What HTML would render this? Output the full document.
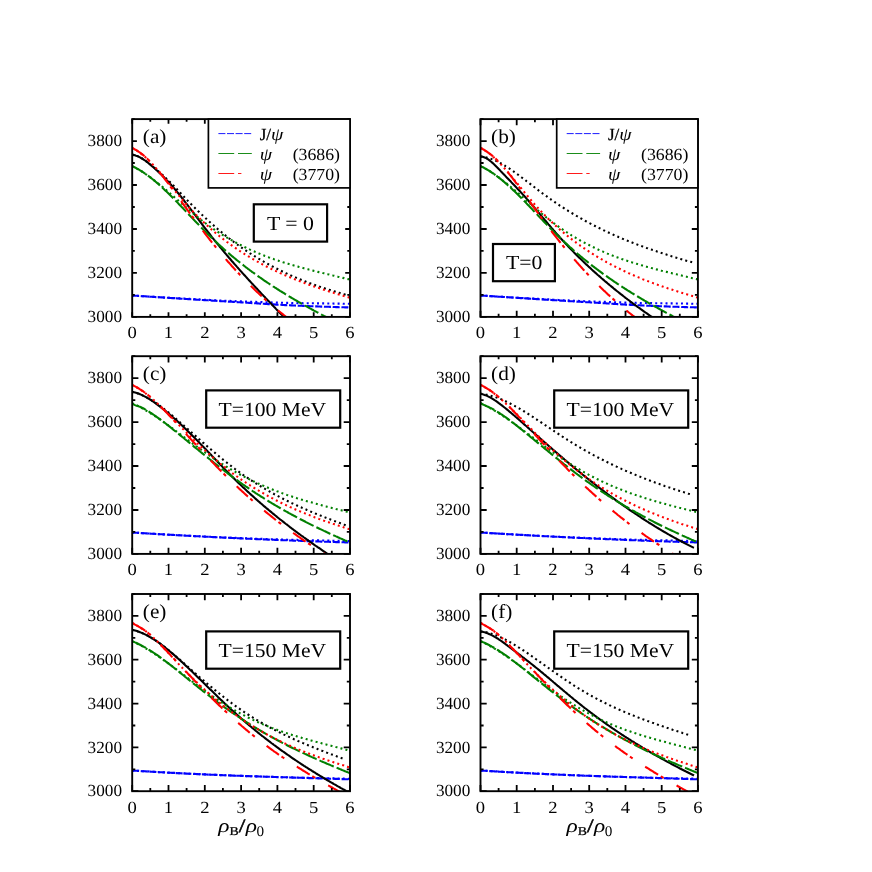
<!DOCTYPE html>
<html><head><meta charset="utf-8"><title>fig</title>
<style>
html,body{margin:0;padding:0;background:#fff;}
svg{display:block;}
text{font-family:"Liberation Serif",serif;fill:#000;text-rendering:geometricPrecision;}
.it{font-style:italic;}
</style></head><body>
<svg width="872" height="872" viewBox="0 0 872 872">
<rect x="0" y="0" width="872" height="872" fill="#fff"/>
<g opacity="0.999">
<g id="panel-a">
<clipPath id="clipa"><rect x="132.2" y="119.1" width="217.8" height="197.8"/></clipPath>
<g clip-path="url(#clipa)" fill="none" stroke-width="2.1">
<path d="M132.0,295.5 L133.0,295.6 L134.0,295.6 L135.0,295.7 L136.0,295.8 L137.0,295.8 L138.0,295.9 L139.0,296.0 L140.0,296.0 L141.0,296.1 L142.0,296.2 L143.0,296.2 L144.0,296.3 L145.0,296.3 L146.0,296.4 L147.0,296.5 L148.0,296.5 L149.0,296.6 L150.0,296.7 L151.0,296.7 L152.0,296.8 L153.0,296.9 L154.0,296.9 L155.0,297.0 L156.0,297.1 L157.0,297.1 L158.0,297.2 L159.0,297.2 L160.0,297.3 L161.0,297.4 L162.0,297.4 L163.0,297.5 L164.0,297.6 L165.0,297.6 L166.0,297.7 L167.0,297.8 L168.0,297.8 L169.0,297.9 L170.0,298.0 L171.0,298.0 L172.0,298.1 L173.0,298.1 L174.0,298.2 L175.0,298.3 L176.0,298.3 L177.0,298.4 L178.0,298.5 L179.0,298.5 L180.0,298.6 L181.0,298.7 L182.0,298.7 L183.0,298.8 L184.0,298.8 L185.0,298.9 L186.0,299.0 L187.0,299.0 L188.0,299.1 L189.0,299.2 L190.0,299.2 L191.0,299.3 L192.0,299.3 L193.0,299.4 L194.0,299.5 L195.0,299.5 L196.0,299.6 L197.0,299.7 L198.0,299.7 L199.0,299.8 L200.0,299.8 L201.0,299.9 L202.0,300.0 L203.0,300.0 L204.0,300.1 L205.0,300.2 L206.0,300.2 L207.0,300.3 L208.0,300.3 L209.0,300.4 L210.0,300.5 L211.0,300.5 L212.0,300.6 L213.0,300.7 L214.0,300.7 L215.0,300.8 L216.0,300.8 L217.0,300.9 L218.0,301.0 L219.0,301.0 L220.0,301.1 L221.0,301.2 L222.0,301.2 L223.0,301.3 L224.0,301.3 L225.0,301.4 L226.0,301.5 L227.0,301.5 L228.0,301.6 L229.0,301.6 L230.0,301.7 L231.0,301.8 L232.0,301.8 L233.0,301.9 L234.0,301.9 L235.0,302.0 L236.0,302.1 L237.0,302.1 L238.0,302.2 L239.0,302.3 L240.0,302.3 L241.0,302.4 L242.0,302.4 L243.0,302.5 L244.0,302.6 L245.0,302.6 L246.0,302.7 L247.0,302.7 L248.0,302.8 L249.0,302.9 L250.0,302.9 L251.0,303.0 L252.0,303.1 L253.0,303.1 L254.0,303.2 L255.0,303.3 L256.0,303.3 L257.0,303.4 L258.0,303.4 L259.0,303.5 L260.0,303.6 L261.0,303.6 L262.0,303.7 L263.0,303.8 L264.0,303.8 L265.0,303.9 L266.0,304.0 L267.0,304.0 L268.0,304.1 L269.0,304.1 L270.0,304.2 L271.0,304.3 L272.0,304.3 L273.0,304.4 L274.0,304.4 L275.0,304.5 L276.0,304.6 L277.0,304.6 L278.0,304.7 L279.0,304.7 L280.0,304.8 L281.0,304.8 L282.0,304.9 L283.0,305.0 L284.0,305.0 L285.0,305.1 L286.0,305.1 L287.0,305.2 L288.0,305.2 L289.0,305.3 L290.0,305.3 L291.0,305.4 L292.0,305.4 L293.0,305.5 L294.0,305.5 L295.0,305.5 L296.0,305.6 L297.0,305.6 L298.0,305.7 L299.0,305.7 L300.0,305.8 L301.0,305.8 L302.0,305.8 L303.0,305.9 L304.0,305.9 L305.0,306.0 L306.0,306.0 L307.0,306.0 L308.0,306.1 L309.0,306.1 L310.0,306.2 L311.0,306.2 L312.0,306.2 L313.0,306.3 L314.0,306.3 L315.0,306.4 L316.0,306.4 L317.0,306.4 L318.0,306.5 L319.0,306.5 L320.0,306.5 L321.0,306.6 L322.0,306.6 L323.0,306.6 L324.0,306.7 L325.0,306.7 L326.0,306.7 L327.0,306.8 L328.0,306.8 L329.0,306.8 L330.0,306.9 L331.0,306.9 L332.0,306.9 L333.0,307.0 L334.0,307.0 L335.0,307.0 L336.0,307.1 L337.0,307.1 L338.0,307.1 L339.0,307.2 L340.0,307.2 L341.0,307.2 L342.0,307.3 L343.0,307.3 L344.0,307.3 L345.0,307.4 L346.0,307.4 L347.0,307.4 L348.0,307.4 L349.0,307.5 L350.0,307.5" stroke="#0000ff" stroke-dasharray="7 1.75"/>
<path d="M132.0,295.5 L133.0,295.6 L134.0,295.6 L135.0,295.7 L136.0,295.8 L137.0,295.8 L138.0,295.9 L139.0,296.0 L140.0,296.0 L141.0,296.1 L142.0,296.1 L143.0,296.2 L144.0,296.3 L145.0,296.3 L146.0,296.4 L147.0,296.5 L148.0,296.5 L149.0,296.6 L150.0,296.6 L151.0,296.7 L152.0,296.8 L153.0,296.8 L154.0,296.9 L155.0,297.0 L156.0,297.0 L157.0,297.1 L158.0,297.1 L159.0,297.2 L160.0,297.3 L161.0,297.3 L162.0,297.4 L163.0,297.4 L164.0,297.5 L165.0,297.5 L166.0,297.6 L167.0,297.7 L168.0,297.7 L169.0,297.8 L170.0,297.8 L171.0,297.9 L172.0,298.0 L173.0,298.0 L174.0,298.1 L175.0,298.1 L176.0,298.2 L177.0,298.2 L178.0,298.3 L179.0,298.3 L180.0,298.4 L181.0,298.5 L182.0,298.5 L183.0,298.6 L184.0,298.6 L185.0,298.7 L186.0,298.7 L187.0,298.8 L188.0,298.8 L189.0,298.9 L190.0,298.9 L191.0,299.0 L192.0,299.0 L193.0,299.1 L194.0,299.1 L195.0,299.2 L196.0,299.3 L197.0,299.3 L198.0,299.4 L199.0,299.4 L200.0,299.5 L201.0,299.5 L202.0,299.6 L203.0,299.6 L204.0,299.7 L205.0,299.7 L206.0,299.8 L207.0,299.8 L208.0,299.9 L209.0,299.9 L210.0,300.0 L211.0,300.0 L212.0,300.1 L213.0,300.1 L214.0,300.2 L215.0,300.2 L216.0,300.3 L217.0,300.3 L218.0,300.4 L219.0,300.4 L220.0,300.5 L221.0,300.5 L222.0,300.6 L223.0,300.6 L224.0,300.7 L225.0,300.7 L226.0,300.8 L227.0,300.8 L228.0,300.8 L229.0,300.9 L230.0,300.9 L231.0,301.0 L232.0,301.0 L233.0,301.1 L234.0,301.1 L235.0,301.1 L236.0,301.2 L237.0,301.2 L238.0,301.3 L239.0,301.3 L240.0,301.3 L241.0,301.4 L242.0,301.4 L243.0,301.4 L244.0,301.5 L245.0,301.5 L246.0,301.6 L247.0,301.6 L248.0,301.6 L249.0,301.7 L250.0,301.7 L251.0,301.7 L252.0,301.8 L253.0,301.8 L254.0,301.9 L255.0,301.9 L256.0,301.9 L257.0,302.0 L258.0,302.0 L259.0,302.0 L260.0,302.1 L261.0,302.1 L262.0,302.1 L263.0,302.2 L264.0,302.2 L265.0,302.2 L266.0,302.3 L267.0,302.3 L268.0,302.3 L269.0,302.4 L270.0,302.4 L271.0,302.4 L272.0,302.5 L273.0,302.5 L274.0,302.5 L275.0,302.5 L276.0,302.6 L277.0,302.6 L278.0,302.6 L279.0,302.7 L280.0,302.7 L281.0,302.7 L282.0,302.7 L283.0,302.8 L284.0,302.8 L285.0,302.8 L286.0,302.8 L287.0,302.9 L288.0,302.9 L289.0,302.9 L290.0,302.9 L291.0,302.9 L292.0,303.0 L293.0,303.0 L294.0,303.0 L295.0,303.0 L296.0,303.0 L297.0,303.1 L298.0,303.1 L299.0,303.1 L300.0,303.1 L301.0,303.1 L302.0,303.1 L303.0,303.2 L304.0,303.2 L305.0,303.2 L306.0,303.2 L307.0,303.2 L308.0,303.2 L309.0,303.2 L310.0,303.3 L311.0,303.3 L312.0,303.3 L313.0,303.3 L314.0,303.3 L315.0,303.3 L316.0,303.3 L317.0,303.4 L318.0,303.4 L319.0,303.4 L320.0,303.4 L321.0,303.4 L322.0,303.4 L323.0,303.4 L324.0,303.4 L325.0,303.4 L326.0,303.5 L327.0,303.5 L328.0,303.5 L329.0,303.5 L330.0,303.5 L331.0,303.5 L332.0,303.5 L333.0,303.5 L334.0,303.6 L335.0,303.6 L336.0,303.6 L337.0,303.6 L338.0,303.6 L339.0,303.6 L340.0,303.6 L341.0,303.6 L342.0,303.6 L343.0,303.7 L344.0,303.7 L345.0,303.7 L346.0,303.7 L347.0,303.7 L348.0,303.7 L349.0,303.7 L350.0,303.8" stroke="#0000ff" stroke-dasharray="2.0 3.15"/>
<path d="M132.0,154.7 L133.0,154.9 L134.0,155.1 L135.0,155.3 L136.0,155.7 L137.0,156.0 L138.0,156.4 L139.0,156.9 L140.0,157.4 L141.0,158.0 L142.0,158.5 L143.0,159.2 L144.0,159.8 L145.0,160.5 L146.0,161.2 L147.0,162.0 L148.0,162.8 L149.0,163.6 L150.0,164.4 L151.0,165.2 L152.0,166.1 L153.0,166.9 L154.0,167.8 L155.0,168.7 L156.0,169.6 L157.0,170.5 L158.0,171.5 L159.0,172.4 L160.0,173.4 L161.0,174.3 L162.0,175.3 L163.0,176.3 L164.0,177.3 L165.0,178.4 L166.0,179.4 L167.0,180.5 L168.0,181.5 L169.0,182.6 L170.0,183.7 L171.0,184.8 L172.0,185.9 L173.0,187.1 L174.0,188.2 L175.0,189.4 L176.0,190.6 L177.0,191.8 L178.0,193.0 L179.0,194.2 L180.0,195.5 L181.0,196.7 L182.0,198.0 L183.0,199.2 L184.0,200.5 L185.0,201.8 L186.0,203.1 L187.0,204.3 L188.0,205.6 L189.0,207.0 L190.0,208.3 L191.0,209.6 L192.0,210.9 L193.0,212.2 L194.0,213.5 L195.0,214.9 L196.0,216.2 L197.0,217.5 L198.0,218.8 L199.0,220.2 L200.0,221.5 L201.0,222.8 L202.0,224.1 L203.0,225.5 L204.0,226.8 L205.0,228.1 L206.0,229.4 L207.0,230.7 L208.0,232.0 L209.0,233.2 L210.0,234.5 L211.0,235.8 L212.0,237.1 L213.0,238.3 L214.0,239.6 L215.0,240.8 L216.0,242.1 L217.0,243.3 L218.0,244.5 L219.0,245.7 L220.0,247.0 L221.0,248.2 L222.0,249.4 L223.0,250.6 L224.0,251.8 L225.0,253.0 L226.0,254.1 L227.0,255.3 L228.0,256.5 L229.0,257.7 L230.0,258.8 L231.0,260.0 L232.0,261.2 L233.0,262.3 L234.0,263.5 L235.0,264.6 L236.0,265.7 L237.0,266.9 L238.0,268.0 L239.0,269.1 L240.0,270.3 L241.0,271.4 L242.0,272.5 L243.0,273.6 L244.0,274.7 L245.0,275.8 L246.0,276.9 L247.0,278.0 L248.0,279.1 L249.0,280.2 L250.0,281.3 L251.0,282.4 L252.0,283.5 L253.0,284.5 L254.0,285.6 L255.0,286.7 L256.0,287.8 L257.0,288.8 L258.0,289.9 L259.0,291.0 L260.0,292.0 L261.0,293.1 L262.0,294.2 L263.0,295.2 L264.0,296.3 L265.0,297.3 L266.0,298.4 L267.0,299.4 L268.0,300.5 L269.0,301.5 L270.0,302.6 L271.0,303.6 L272.0,304.7 L273.0,305.7 L274.0,306.8 L275.0,307.8 L276.0,308.9 L277.0,309.9 L278.0,310.9 L279.0,312.0 L280.0,313.0 L281.0,314.1 L282.0,315.1 L283.0,316.1 L284.0,317.2 L285.0,318.2 L285.8,319.0" stroke="#000000"/>
<path d="M132.0,154.7 L133.0,154.8 L134.0,155.0 L135.0,155.3 L136.0,155.6 L137.0,155.9 L138.0,156.4 L139.0,156.9 L140.0,157.4 L141.0,157.9 L142.0,158.5 L143.0,159.2 L144.0,159.8 L145.0,160.5 L146.0,161.2 L147.0,161.9 L148.0,162.6 L149.0,163.4 L150.0,164.1 L151.0,164.9 L152.0,165.7 L153.0,166.5 L154.0,167.4 L155.0,168.2 L156.0,169.1 L157.0,170.0 L158.0,170.9 L159.0,171.8 L160.0,172.7 L161.0,173.6 L162.0,174.5 L163.0,175.4 L164.0,176.3 L165.0,177.3 L166.0,178.2 L167.0,179.2 L168.0,180.1 L169.0,181.1 L170.0,182.1 L171.0,183.1 L172.0,184.1 L173.0,185.1 L174.0,186.1 L175.0,187.2 L176.0,188.2 L177.0,189.3 L178.0,190.4 L179.0,191.4 L180.0,192.5 L181.0,193.6 L182.0,194.6 L183.0,195.7 L184.0,196.7 L185.0,197.8 L186.0,198.8 L187.0,199.9 L188.0,200.9 L189.0,201.9 L190.0,202.9 L191.0,204.0 L192.0,205.0 L193.0,206.0 L194.0,207.0 L195.0,208.0 L196.0,209.0 L197.0,209.9 L198.0,210.9 L199.0,211.9 L200.0,212.9 L201.0,213.8 L202.0,214.8 L203.0,215.7 L204.0,216.7 L205.0,217.6 L206.0,218.5 L207.0,219.5 L208.0,220.4 L209.0,221.3 L210.0,222.2 L211.0,223.1 L212.0,224.0 L213.0,224.9 L214.0,225.8 L215.0,226.7 L216.0,227.5 L217.0,228.4 L218.0,229.3 L219.0,230.1 L220.0,231.0 L221.0,231.8 L222.0,232.6 L223.0,233.5 L224.0,234.3 L225.0,235.1 L226.0,235.9 L227.0,236.7 L228.0,237.5 L229.0,238.3 L230.0,239.0 L231.0,239.8 L232.0,240.6 L233.0,241.3 L234.0,242.1 L235.0,242.8 L236.0,243.6 L237.0,244.3 L238.0,245.0 L239.0,245.8 L240.0,246.5 L241.0,247.2 L242.0,247.9 L243.0,248.6 L244.0,249.3 L245.0,249.9 L246.0,250.6 L247.0,251.3 L248.0,252.0 L249.0,252.6 L250.0,253.3 L251.0,253.9 L252.0,254.6 L253.0,255.2 L254.0,255.8 L255.0,256.4 L256.0,257.1 L257.0,257.7 L258.0,258.3 L259.0,258.9 L260.0,259.5 L261.0,260.1 L262.0,260.6 L263.0,261.2 L264.0,261.8 L265.0,262.4 L266.0,262.9 L267.0,263.5 L268.0,264.0 L269.0,264.6 L270.0,265.1 L271.0,265.7 L272.0,266.2 L273.0,266.7 L274.0,267.3 L275.0,267.8 L276.0,268.3 L277.0,268.8 L278.0,269.3 L279.0,269.8 L280.0,270.3 L281.0,270.8 L282.0,271.3 L283.0,271.8 L284.0,272.2 L285.0,272.7 L286.0,273.2 L287.0,273.6 L288.0,274.1 L289.0,274.6 L290.0,275.0 L291.0,275.5 L292.0,275.9 L293.0,276.3 L294.0,276.8 L295.0,277.2 L296.0,277.6 L297.0,278.0 L298.0,278.5 L299.0,278.9 L300.0,279.3 L301.0,279.7 L302.0,280.1 L303.0,280.5 L304.0,280.9 L305.0,281.3 L306.0,281.7 L307.0,282.1 L308.0,282.4 L309.0,282.8 L310.0,283.2 L311.0,283.6 L312.0,283.9 L313.0,284.3 L314.0,284.7 L315.0,285.0 L316.0,285.4 L317.0,285.7 L318.0,286.1 L319.0,286.4 L320.0,286.8 L321.0,287.1 L322.0,287.4 L323.0,287.8 L324.0,288.1 L325.0,288.4 L326.0,288.8 L327.0,289.1 L328.0,289.4 L329.0,289.7 L330.0,290.0 L331.0,290.4 L332.0,290.7 L333.0,291.0 L334.0,291.3 L335.0,291.6 L336.0,291.9 L337.0,292.2 L338.0,292.5 L339.0,292.8 L340.0,293.1 L341.0,293.4 L342.0,293.7 L343.0,293.9 L344.0,294.2 L345.0,294.5 L346.0,294.8 L347.0,295.1 L348.0,295.3 L349.0,295.6 L350.0,295.9" stroke="#000000" stroke-dasharray="2.0 3.15"/>
<path d="M132.0,166.1 L133.0,166.5 L134.0,167.0 L135.0,167.5 L136.0,168.0 L137.0,168.6 L138.0,169.1 L139.0,169.7 L140.0,170.3 L141.0,170.9 L142.0,171.5 L143.0,172.2 L144.0,172.8 L145.0,173.5 L146.0,174.2 L147.0,174.9 L148.0,175.7 L149.0,176.4 L150.0,177.2 L151.0,177.9 L152.0,178.7 L153.0,179.5 L154.0,180.4 L155.0,181.2 L156.0,182.0 L157.0,182.9 L158.0,183.8 L159.0,184.6 L160.0,185.5 L161.0,186.4 L162.0,187.4 L163.0,188.3 L164.0,189.2 L165.0,190.2 L166.0,191.1 L167.0,192.1 L168.0,193.0 L169.0,194.0 L170.0,195.0 L171.0,196.0 L172.0,197.0 L173.0,198.0 L174.0,199.0 L175.0,200.0 L176.0,201.1 L177.0,202.1 L178.0,203.1 L179.0,204.2 L180.0,205.2 L181.0,206.2 L182.0,207.3 L183.0,208.3 L184.0,209.4 L185.0,210.4 L186.0,211.5 L187.0,212.5 L188.0,213.6 L189.0,214.7 L190.0,215.7 L191.0,216.8 L192.0,217.8 L193.0,218.9 L194.0,219.9 L195.0,221.0 L196.0,222.0 L197.0,223.1 L198.0,224.1 L199.0,225.1 L200.0,226.2 L201.0,227.2 L202.0,228.2 L203.0,229.2 L204.0,230.3 L205.0,231.3 L206.0,232.3 L207.0,233.3 L208.0,234.3 L209.0,235.2 L210.0,236.2 L211.0,237.2 L212.0,238.1 L213.0,239.1 L214.0,240.0 L215.0,241.0 L216.0,241.9 L217.0,242.8 L218.0,243.8 L219.0,244.7 L220.0,245.6 L221.0,246.5 L222.0,247.4 L223.0,248.3 L224.0,249.2 L225.0,250.1 L226.0,250.9 L227.0,251.8 L228.0,252.7 L229.0,253.5 L230.0,254.4 L231.0,255.2 L232.0,256.1 L233.0,256.9 L234.0,257.7 L235.0,258.5 L236.0,259.4 L237.0,260.2 L238.0,261.0 L239.0,261.8 L240.0,262.6 L241.0,263.4 L242.0,264.2 L243.0,264.9 L244.0,265.7 L245.0,266.5 L246.0,267.3 L247.0,268.0 L248.0,268.8 L249.0,269.5 L250.0,270.3 L251.0,271.0 L252.0,271.8 L253.0,272.5 L254.0,273.2 L255.0,273.9 L256.0,274.7 L257.0,275.4 L258.0,276.1 L259.0,276.8 L260.0,277.5 L261.0,278.2 L262.0,278.9 L263.0,279.6 L264.0,280.3 L265.0,281.0 L266.0,281.6 L267.0,282.3 L268.0,283.0 L269.0,283.7 L270.0,284.3 L271.0,285.0 L272.0,285.6 L273.0,286.3 L274.0,286.9 L275.0,287.6 L276.0,288.2 L277.0,288.9 L278.0,289.5 L279.0,290.1 L280.0,290.8 L281.0,291.4 L282.0,292.0 L283.0,292.6 L284.0,293.2 L285.0,293.9 L286.0,294.5 L287.0,295.1 L288.0,295.7 L289.0,296.3 L290.0,296.9 L291.0,297.5 L292.0,298.1 L293.0,298.7 L294.0,299.3 L295.0,299.8 L296.0,300.4 L297.0,301.0 L298.0,301.6 L299.0,302.2 L300.0,302.7 L301.0,303.3 L302.0,303.9 L303.0,304.4 L304.0,305.0 L305.0,305.6 L306.0,306.1 L307.0,306.7 L308.0,307.2 L309.0,307.8 L310.0,308.4 L311.0,308.9 L312.0,309.5 L313.0,310.0 L314.0,310.6 L315.0,311.1 L316.0,311.6 L317.0,312.2 L318.0,312.7 L319.0,313.3 L320.0,313.8 L321.0,314.3 L322.0,314.9 L323.0,315.4 L324.0,316.0 L325.0,316.5 L326.0,317.0 L327.0,317.5 L328.0,318.1 L329.0,318.6 L330.0,319.1 L330.2,319.2" stroke="#008000" stroke-dasharray="15.5 3.1"/>
<path d="M132.0,166.1 L133.0,166.6 L134.0,167.1 L135.0,167.6 L136.0,168.1 L137.0,168.7 L138.0,169.2 L139.0,169.8 L140.0,170.4 L141.0,171.0 L142.0,171.6 L143.0,172.3 L144.0,172.9 L145.0,173.6 L146.0,174.3 L147.0,174.9 L148.0,175.6 L149.0,176.4 L150.0,177.1 L151.0,177.8 L152.0,178.6 L153.0,179.3 L154.0,180.1 L155.0,180.8 L156.0,181.6 L157.0,182.4 L158.0,183.2 L159.0,184.0 L160.0,184.8 L161.0,185.7 L162.0,186.5 L163.0,187.3 L164.0,188.2 L165.0,189.0 L166.0,189.8 L167.0,190.7 L168.0,191.6 L169.0,192.4 L170.0,193.3 L171.0,194.2 L172.0,195.0 L173.0,195.9 L174.0,196.8 L175.0,197.7 L176.0,198.5 L177.0,199.4 L178.0,200.3 L179.0,201.2 L180.0,202.1 L181.0,202.9 L182.0,203.8 L183.0,204.7 L184.0,205.6 L185.0,206.4 L186.0,207.3 L187.0,208.2 L188.0,209.0 L189.0,209.9 L190.0,210.8 L191.0,211.6 L192.0,212.5 L193.0,213.3 L194.0,214.1 L195.0,215.0 L196.0,215.8 L197.0,216.6 L198.0,217.4 L199.0,218.2 L200.0,219.0 L201.0,219.8 L202.0,220.6 L203.0,221.3 L204.0,222.1 L205.0,222.8 L206.0,223.6 L207.0,224.3 L208.0,225.1 L209.0,225.8 L210.0,226.5 L211.0,227.2 L212.0,227.9 L213.0,228.6 L214.0,229.3 L215.0,230.0 L216.0,230.6 L217.0,231.3 L218.0,232.0 L219.0,232.6 L220.0,233.2 L221.0,233.9 L222.0,234.5 L223.0,235.1 L224.0,235.7 L225.0,236.4 L226.0,237.0 L227.0,237.6 L228.0,238.1 L229.0,238.7 L230.0,239.3 L231.0,239.9 L232.0,240.4 L233.0,241.0 L234.0,241.5 L235.0,242.1 L236.0,242.6 L237.0,243.2 L238.0,243.7 L239.0,244.2 L240.0,244.7 L241.0,245.2 L242.0,245.7 L243.0,246.2 L244.0,246.7 L245.0,247.2 L246.0,247.7 L247.0,248.2 L248.0,248.6 L249.0,249.1 L250.0,249.6 L251.0,250.0 L252.0,250.5 L253.0,250.9 L254.0,251.3 L255.0,251.8 L256.0,252.2 L257.0,252.6 L258.0,253.0 L259.0,253.5 L260.0,253.9 L261.0,254.3 L262.0,254.7 L263.0,255.1 L264.0,255.5 L265.0,255.9 L266.0,256.2 L267.0,256.6 L268.0,257.0 L269.0,257.4 L270.0,257.7 L271.0,258.1 L272.0,258.5 L273.0,258.8 L274.0,259.2 L275.0,259.5 L276.0,259.9 L277.0,260.2 L278.0,260.5 L279.0,260.9 L280.0,261.2 L281.0,261.5 L282.0,261.8 L283.0,262.2 L284.0,262.5 L285.0,262.8 L286.0,263.1 L287.0,263.4 L288.0,263.7 L289.0,264.0 L290.0,264.3 L291.0,264.6 L292.0,264.9 L293.0,265.2 L294.0,265.5 L295.0,265.8 L296.0,266.1 L297.0,266.4 L298.0,266.6 L299.0,266.9 L300.0,267.2 L301.0,267.5 L302.0,267.7 L303.0,268.0 L304.0,268.3 L305.0,268.5 L306.0,268.8 L307.0,269.1 L308.0,269.3 L309.0,269.6 L310.0,269.8 L311.0,270.1 L312.0,270.4 L313.0,270.6 L314.0,270.9 L315.0,271.1 L316.0,271.4 L317.0,271.6 L318.0,271.9 L319.0,272.1 L320.0,272.3 L321.0,272.6 L322.0,272.8 L323.0,273.1 L324.0,273.3 L325.0,273.6 L326.0,273.8 L327.0,274.0 L328.0,274.3 L329.0,274.5 L330.0,274.8 L331.0,275.0 L332.0,275.2 L333.0,275.5 L334.0,275.7 L335.0,276.0 L336.0,276.2 L337.0,276.4 L338.0,276.7 L339.0,276.9 L340.0,277.2 L341.0,277.4 L342.0,277.6 L343.0,277.9 L344.0,278.1 L345.0,278.4 L346.0,278.6 L347.0,278.9 L348.0,279.1 L349.0,279.3 L350.0,279.6 L350.7,279.8" stroke="#008000" stroke-dasharray="2.0 3.15"/>
<path d="M132.0,147.9 L133.0,148.4 L134.0,148.9 L135.0,149.5 L136.0,150.0 L137.0,150.7 L138.0,151.3 L139.0,152.0 L140.0,152.7 L141.0,153.4 L142.0,154.1 L143.0,154.9 L144.0,155.8 L145.0,156.6 L146.0,157.5 L147.0,158.4 L148.0,159.4 L149.0,160.4 L150.0,161.4 L151.0,162.4 L152.0,163.5 L153.0,164.6 L154.0,165.7 L155.0,166.9 L156.0,168.0 L157.0,169.2 L158.0,170.4 L159.0,171.6 L160.0,172.9 L161.0,174.1 L162.0,175.4 L163.0,176.7 L164.0,177.9 L165.0,179.3 L166.0,180.6 L167.0,181.9 L168.0,183.2 L169.0,184.6 L170.0,185.9 L171.0,187.3 L172.0,188.7 L173.0,190.0 L174.0,191.4 L175.0,192.8 L176.0,194.1 L177.0,195.5 L178.0,196.9 L179.0,198.3 L180.0,199.7 L181.0,201.0 L182.0,202.4 L183.0,203.8 L184.0,205.2 L185.0,206.6 L186.0,207.9 L187.0,209.3 L188.0,210.7 L189.0,212.1 L190.0,213.4 L191.0,214.8 L192.0,216.2 L193.0,217.5 L194.0,218.9 L195.0,220.2 L196.0,221.6 L197.0,222.9 L198.0,224.3 L199.0,225.6 L200.0,226.9 L201.0,228.3 L202.0,229.6 L203.0,230.9 L204.0,232.2 L205.0,233.5 L206.0,234.8 L207.0,236.1 L208.0,237.4 L209.0,238.7 L210.0,240.0 L211.0,241.2 L212.0,242.5 L213.0,243.7 L214.0,245.0 L215.0,246.2 L216.0,247.5 L217.0,248.7 L218.0,249.9 L219.0,251.1 L220.0,252.3 L221.0,253.5 L222.0,254.7 L223.0,255.9 L224.0,257.0 L225.0,258.2 L226.0,259.4 L227.0,260.5 L228.0,261.7 L229.0,262.8 L230.0,263.9 L231.0,265.0 L232.0,266.2 L233.0,267.3 L234.0,268.4 L235.0,269.5 L236.0,270.6 L237.0,271.6 L238.0,272.7 L239.0,273.8 L240.0,274.9 L241.0,275.9 L242.0,277.0 L243.0,278.0 L244.0,279.0 L245.0,280.1 L246.0,281.1 L247.0,282.1 L248.0,283.1 L249.0,284.1 L250.0,285.1 L251.0,286.1 L252.0,287.1 L253.0,288.0 L254.0,289.0 L255.0,290.0 L256.0,290.9 L257.0,291.9 L258.0,292.8 L259.0,293.8 L260.0,294.7 L261.0,295.6 L262.0,296.5 L263.0,297.5 L264.0,298.4 L265.0,299.3 L266.0,300.2 L267.0,301.0 L268.0,301.9 L269.0,302.8 L270.0,303.7 L271.0,304.5 L272.0,305.4 L273.0,306.2 L274.0,307.1 L275.0,307.9 L276.0,308.7 L277.0,309.6 L278.0,310.4 L279.0,311.2 L280.0,312.0 L281.0,312.8 L282.0,313.6 L283.0,314.4 L284.0,315.2 L285.0,316.0 L286.0,316.8 L287.0,317.5 L288.0,318.3 L288.9,319.0" stroke="#ff0000" stroke-dasharray="15.2 3.1 3.3 15.0"/>
<path d="M132.0,147.9 L133.0,148.4 L134.0,148.9 L135.0,149.5 L136.0,150.1 L137.0,150.7 L138.0,151.4 L139.0,152.1 L140.0,152.8 L141.0,153.6 L142.0,154.4 L143.0,155.2 L144.0,156.1 L145.0,156.9 L146.0,157.8 L147.0,158.8 L148.0,159.7 L149.0,160.7 L150.0,161.7 L151.0,162.7 L152.0,163.7 L153.0,164.8 L154.0,165.9 L155.0,167.0 L156.0,168.1 L157.0,169.2 L158.0,170.3 L159.0,171.5 L160.0,172.6 L161.0,173.8 L162.0,175.0 L163.0,176.2 L164.0,177.4 L165.0,178.6 L166.0,179.8 L167.0,181.0 L168.0,182.2 L169.0,183.5 L170.0,184.7 L171.0,185.9 L172.0,187.2 L173.0,188.4 L174.0,189.6 L175.0,190.8 L176.0,192.1 L177.0,193.3 L178.0,194.5 L179.0,195.7 L180.0,196.9 L181.0,198.1 L182.0,199.3 L183.0,200.5 L184.0,201.6 L185.0,202.8 L186.0,203.9 L187.0,205.1 L188.0,206.2 L189.0,207.3 L190.0,208.4 L191.0,209.5 L192.0,210.6 L193.0,211.6 L194.0,212.7 L195.0,213.7 L196.0,214.8 L197.0,215.8 L198.0,216.8 L199.0,217.8 L200.0,218.8 L201.0,219.8 L202.0,220.7 L203.0,221.7 L204.0,222.6 L205.0,223.6 L206.0,224.5 L207.0,225.4 L208.0,226.3 L209.0,227.2 L210.0,228.1 L211.0,229.0 L212.0,229.9 L213.0,230.8 L214.0,231.6 L215.0,232.5 L216.0,233.3 L217.0,234.1 L218.0,235.0 L219.0,235.8 L220.0,236.6 L221.0,237.4 L222.0,238.2 L223.0,238.9 L224.0,239.7 L225.0,240.5 L226.0,241.2 L227.0,242.0 L228.0,242.7 L229.0,243.5 L230.0,244.2 L231.0,244.9 L232.0,245.6 L233.0,246.3 L234.0,247.0 L235.0,247.7 L236.0,248.4 L237.0,249.1 L238.0,249.8 L239.0,250.4 L240.0,251.1 L241.0,251.7 L242.0,252.4 L243.0,253.0 L244.0,253.7 L245.0,254.3 L246.0,254.9 L247.0,255.5 L248.0,256.1 L249.0,256.7 L250.0,257.3 L251.0,257.9 L252.0,258.5 L253.0,259.1 L254.0,259.7 L255.0,260.3 L256.0,260.8 L257.0,261.4 L258.0,261.9 L259.0,262.5 L260.0,263.0 L261.0,263.6 L262.0,264.1 L263.0,264.7 L264.0,265.2 L265.0,265.7 L266.0,266.2 L267.0,266.7 L268.0,267.2 L269.0,267.7 L270.0,268.2 L271.0,268.7 L272.0,269.2 L273.0,269.7 L274.0,270.2 L275.0,270.7 L276.0,271.1 L277.0,271.6 L278.0,272.1 L279.0,272.5 L280.0,273.0 L281.0,273.4 L282.0,273.9 L283.0,274.3 L284.0,274.8 L285.0,275.2 L286.0,275.6 L287.0,276.1 L288.0,276.5 L289.0,276.9 L290.0,277.3 L291.0,277.7 L292.0,278.2 L293.0,278.6 L294.0,279.0 L295.0,279.4 L296.0,279.8 L297.0,280.2 L298.0,280.6 L299.0,280.9 L300.0,281.3 L301.0,281.7 L302.0,282.1 L303.0,282.5 L304.0,282.8 L305.0,283.2 L306.0,283.6 L307.0,283.9 L308.0,284.3 L309.0,284.7 L310.0,285.0 L311.0,285.4 L312.0,285.7 L313.0,286.1 L314.0,286.4 L315.0,286.8 L316.0,287.1 L317.0,287.4 L318.0,287.8 L319.0,288.1 L320.0,288.5 L321.0,288.8 L322.0,289.1 L323.0,289.4 L324.0,289.8 L325.0,290.1 L326.0,290.4 L327.0,290.7 L328.0,291.1 L329.0,291.4 L330.0,291.7 L331.0,292.0 L332.0,292.3 L333.0,292.6 L334.0,293.0 L335.0,293.3 L336.0,293.6 L337.0,293.9 L338.0,294.2 L339.0,294.5 L340.0,294.8 L341.0,295.1 L342.0,295.4 L343.0,295.7 L344.0,296.0 L345.0,296.3 L346.0,296.6 L347.0,296.9 L348.0,297.2 L349.0,297.5 L350.0,297.8 L350.7,298.0" stroke="#ff0000" stroke-dasharray="2.0 3.15"/>
</g>
<path d="M132.2,316.9v-4.7M132.2,119.1v4.7M150.3,316.9v-2.6M150.3,119.1v2.6M168.5,316.9v-4.7M168.5,119.1v4.7M186.6,316.9v-2.6M186.6,119.1v2.6M204.8,316.9v-4.7M204.8,119.1v4.7M222.9,316.9v-2.6M222.9,119.1v2.6M241.1,316.9v-4.7M241.1,119.1v4.7M259.2,316.9v-2.6M259.2,119.1v2.6M277.4,316.9v-4.7M277.4,119.1v4.7M295.5,316.9v-2.6M295.5,119.1v2.6M313.7,316.9v-4.7M313.7,119.1v4.7M331.8,316.9v-2.6M331.8,119.1v2.6M349.9,316.9v-4.7M349.9,119.1v4.7M132.2,316.9h4.7M349.9,316.9h-4.7M132.2,294.9h2.6M349.9,294.9h-2.6M132.2,272.9h4.7M349.9,272.9h-4.7M132.2,250.9h2.6M349.9,250.9h-2.6M132.2,229.0h4.7M349.9,229.0h-4.7M132.2,207.0h2.6M349.9,207.0h-2.6M132.2,185.0h4.7M349.9,185.0h-4.7M132.2,163.0h2.6M349.9,163.0h-2.6M132.2,141.1h4.7M349.9,141.1h-4.7M132.2,119.1h2.6M349.9,119.1h-2.6" stroke="#000" stroke-width="1.8" fill="none"/>
<rect x="132.2" y="119.1" width="217.8" height="197.8" fill="none" stroke="#000" stroke-width="1.9"/>
<text x="122.0" y="322.1" font-size="17" text-anchor="end" textLength="34.4" lengthAdjust="spacingAndGlyphs">3000</text>
<text x="122.0" y="278.1" font-size="17" text-anchor="end" textLength="34.4" lengthAdjust="spacingAndGlyphs">3200</text>
<text x="122.0" y="234.2" font-size="17" text-anchor="end" textLength="34.4" lengthAdjust="spacingAndGlyphs">3400</text>
<text x="122.0" y="190.2" font-size="17" text-anchor="end" textLength="34.4" lengthAdjust="spacingAndGlyphs">3600</text>
<text x="122.0" y="146.3" font-size="17" text-anchor="end" textLength="34.4" lengthAdjust="spacingAndGlyphs">3800</text>
<text x="132.2" y="338.2" font-size="17" text-anchor="middle" textLength="9.3" lengthAdjust="spacingAndGlyphs">0</text>
<text x="168.5" y="338.2" font-size="17" text-anchor="middle" textLength="9.3" lengthAdjust="spacingAndGlyphs">1</text>
<text x="204.8" y="338.2" font-size="17" text-anchor="middle" textLength="9.3" lengthAdjust="spacingAndGlyphs">2</text>
<text x="241.1" y="338.2" font-size="17" text-anchor="middle" textLength="9.3" lengthAdjust="spacingAndGlyphs">3</text>
<text x="277.4" y="338.2" font-size="17" text-anchor="middle" textLength="9.3" lengthAdjust="spacingAndGlyphs">4</text>
<text x="313.7" y="338.2" font-size="17" text-anchor="middle" textLength="9.3" lengthAdjust="spacingAndGlyphs">5</text>
<text x="349.9" y="338.2" font-size="17" text-anchor="middle" textLength="9.3" lengthAdjust="spacingAndGlyphs">6</text>
<rect x="253.8" y="204.3" width="73.3" height="37.3" fill="#fff" stroke="#000" stroke-width="2.2"/>
<text x="267.0" y="229.7" font-size="20" textLength="47.0" lengthAdjust="spacingAndGlyphs" xml:space="preserve">T = 0</text>
<rect x="208.4" y="119.1" width="141.6" height="68.8" fill="#fff" stroke="#000" stroke-width="1.7"/>
<path d="M218.4,133.6H251.8" stroke="#0000ff" stroke-width="0.9" stroke-dasharray="7 1.6" fill="none"/>
<path d="M218.4,153.5H251.8" stroke="#008000" stroke-width="0.9" stroke-dasharray="15.8 3.8" fill="none"/>
<path d="M218.4,173.5H251.8" stroke="#ff0000" stroke-width="0.9" stroke-dasharray="15.8 3.8 3.4 20" fill="none"/>
<text x="259.7" y="139.6" font-size="17" stroke="#000" stroke-width="0.3">J/</text>
<text transform="translate(271.0,139.6) scale(1.17,1.04)" x="0" y="0" font-size="17" class="it">ψ</text>
<text transform="translate(259.7,159.6) scale(1.17,1.04)" x="0" y="0" font-size="17" class="it">ψ</text>
<text transform="translate(259.7,179.5) scale(1.17,1.04)" x="0" y="0" font-size="17" class="it">ψ</text>
<text x="292.7" y="159.6" font-size="17" textLength="47.3" lengthAdjust="spacingAndGlyphs">(3686)</text>
<text x="292.7" y="179.5" font-size="17" textLength="47.3" lengthAdjust="spacingAndGlyphs">(3770)</text>
<text x="142.8" y="143.0" font-size="20" textLength="23.6" lengthAdjust="spacingAndGlyphs">(a)</text>
</g>
<g id="panel-b">
<clipPath id="clipb"><rect x="480.5" y="119.1" width="217.4" height="197.8"/></clipPath>
<g clip-path="url(#clipb)" fill="none" stroke-width="2.1">
<path d="M480.5,295.5 L481.5,295.6 L482.5,295.6 L483.5,295.7 L484.5,295.8 L485.5,295.8 L486.5,295.9 L487.5,296.0 L488.5,296.0 L489.5,296.1 L490.5,296.1 L491.5,296.2 L492.5,296.3 L493.5,296.3 L494.5,296.4 L495.5,296.5 L496.5,296.5 L497.5,296.6 L498.5,296.7 L499.5,296.7 L500.5,296.8 L501.5,296.8 L502.5,296.9 L503.5,297.0 L504.5,297.0 L505.5,297.1 L506.5,297.2 L507.5,297.2 L508.5,297.3 L509.5,297.4 L510.5,297.4 L511.5,297.5 L512.5,297.5 L513.5,297.6 L514.5,297.7 L515.5,297.7 L516.5,297.8 L517.5,297.9 L518.5,297.9 L519.5,298.0 L520.5,298.1 L521.5,298.1 L522.5,298.2 L523.5,298.2 L524.5,298.3 L525.5,298.4 L526.5,298.4 L527.5,298.5 L528.5,298.6 L529.5,298.6 L530.5,298.7 L531.5,298.7 L532.5,298.8 L533.5,298.9 L534.5,298.9 L535.5,299.0 L536.5,299.1 L537.5,299.1 L538.5,299.2 L539.5,299.3 L540.5,299.3 L541.5,299.4 L542.5,299.4 L543.5,299.5 L544.5,299.6 L545.5,299.6 L546.5,299.7 L547.5,299.8 L548.5,299.8 L549.5,299.9 L550.5,299.9 L551.5,300.0 L552.5,300.1 L553.5,300.1 L554.5,300.2 L555.5,300.3 L556.5,300.3 L557.5,300.4 L558.5,300.4 L559.5,300.5 L560.5,300.6 L561.5,300.6 L562.5,300.7 L563.5,300.7 L564.5,300.8 L565.5,300.9 L566.5,300.9 L567.5,301.0 L568.5,301.1 L569.5,301.1 L570.5,301.2 L571.5,301.2 L572.5,301.3 L573.5,301.4 L574.5,301.4 L575.5,301.5 L576.5,301.6 L577.5,301.6 L578.5,301.7 L579.5,301.7 L580.5,301.8 L581.5,301.9 L582.5,301.9 L583.5,302.0 L584.5,302.0 L585.5,302.1 L586.5,302.2 L587.5,302.2 L588.5,302.3 L589.5,302.3 L590.5,302.4 L591.5,302.5 L592.5,302.5 L593.5,302.6 L594.5,302.7 L595.5,302.7 L596.5,302.8 L597.5,302.8 L598.5,302.9 L599.5,303.0 L600.5,303.0 L601.5,303.1 L602.5,303.2 L603.5,303.2 L604.5,303.3 L605.5,303.3 L606.5,303.4 L607.5,303.5 L608.5,303.5 L609.5,303.6 L610.5,303.7 L611.5,303.7 L612.5,303.8 L613.5,303.9 L614.5,303.9 L615.5,304.0 L616.5,304.0 L617.5,304.1 L618.5,304.2 L619.5,304.2 L620.5,304.3 L621.5,304.4 L622.5,304.4 L623.5,304.5 L624.5,304.5 L625.5,304.6 L626.5,304.7 L627.5,304.7 L628.5,304.8 L629.5,304.8 L630.5,304.9 L631.5,304.9 L632.5,305.0 L633.5,305.0 L634.5,305.1 L635.5,305.1 L636.5,305.2 L637.5,305.2 L638.5,305.3 L639.5,305.3 L640.5,305.4 L641.5,305.4 L642.5,305.5 L643.5,305.5 L644.5,305.6 L645.5,305.6 L646.5,305.7 L647.5,305.7 L648.5,305.7 L649.5,305.8 L650.5,305.8 L651.5,305.9 L652.5,305.9 L653.5,305.9 L654.5,306.0 L655.5,306.0 L656.5,306.1 L657.5,306.1 L658.5,306.1 L659.5,306.2 L660.5,306.2 L661.5,306.3 L662.5,306.3 L663.5,306.3 L664.5,306.4 L665.5,306.4 L666.5,306.4 L667.5,306.5 L668.5,306.5 L669.5,306.6 L670.5,306.6 L671.5,306.6 L672.5,306.7 L673.5,306.7 L674.5,306.7 L675.5,306.8 L676.5,306.8 L677.5,306.8 L678.5,306.9 L679.5,306.9 L680.5,306.9 L681.5,307.0 L682.5,307.0 L683.5,307.0 L684.5,307.1 L685.5,307.1 L686.5,307.1 L687.5,307.2 L688.5,307.2 L689.5,307.2 L690.5,307.3 L691.5,307.3 L692.5,307.3 L693.5,307.3 L694.5,307.4 L695.5,307.4 L696.5,307.4 L697.5,307.5 L698.5,307.5 L699.0,307.5" stroke="#0000ff" stroke-dasharray="7 1.75"/>
<path d="M480.5,295.5 L481.5,295.6 L482.5,295.6 L483.5,295.7 L484.5,295.8 L485.5,295.8 L486.5,295.9 L487.5,295.9 L488.5,296.0 L489.5,296.1 L490.5,296.1 L491.5,296.2 L492.5,296.3 L493.5,296.3 L494.5,296.4 L495.5,296.4 L496.5,296.5 L497.5,296.6 L498.5,296.6 L499.5,296.7 L500.5,296.8 L501.5,296.8 L502.5,296.9 L503.5,296.9 L504.5,297.0 L505.5,297.1 L506.5,297.1 L507.5,297.2 L508.5,297.2 L509.5,297.3 L510.5,297.4 L511.5,297.4 L512.5,297.5 L513.5,297.5 L514.5,297.6 L515.5,297.6 L516.5,297.7 L517.5,297.8 L518.5,297.8 L519.5,297.9 L520.5,297.9 L521.5,298.0 L522.5,298.0 L523.5,298.1 L524.5,298.2 L525.5,298.2 L526.5,298.3 L527.5,298.3 L528.5,298.4 L529.5,298.4 L530.5,298.5 L531.5,298.5 L532.5,298.6 L533.5,298.6 L534.5,298.7 L535.5,298.8 L536.5,298.8 L537.5,298.9 L538.5,298.9 L539.5,299.0 L540.5,299.0 L541.5,299.1 L542.5,299.1 L543.5,299.2 L544.5,299.2 L545.5,299.3 L546.5,299.3 L547.5,299.4 L548.5,299.4 L549.5,299.5 L550.5,299.5 L551.5,299.6 L552.5,299.6 L553.5,299.7 L554.5,299.8 L555.5,299.8 L556.5,299.9 L557.5,299.9 L558.5,300.0 L559.5,300.0 L560.5,300.1 L561.5,300.1 L562.5,300.2 L563.5,300.2 L564.5,300.3 L565.5,300.3 L566.5,300.4 L567.5,300.4 L568.5,300.4 L569.5,300.5 L570.5,300.5 L571.5,300.6 L572.5,300.6 L573.5,300.7 L574.5,300.7 L575.5,300.8 L576.5,300.8 L577.5,300.9 L578.5,300.9 L579.5,301.0 L580.5,301.0 L581.5,301.0 L582.5,301.1 L583.5,301.1 L584.5,301.2 L585.5,301.2 L586.5,301.2 L587.5,301.3 L588.5,301.3 L589.5,301.4 L590.5,301.4 L591.5,301.4 L592.5,301.5 L593.5,301.5 L594.5,301.5 L595.5,301.6 L596.5,301.6 L597.5,301.7 L598.5,301.7 L599.5,301.7 L600.5,301.8 L601.5,301.8 L602.5,301.8 L603.5,301.9 L604.5,301.9 L605.5,301.9 L606.5,302.0 L607.5,302.0 L608.5,302.0 L609.5,302.1 L610.5,302.1 L611.5,302.2 L612.5,302.2 L613.5,302.2 L614.5,302.3 L615.5,302.3 L616.5,302.3 L617.5,302.3 L618.5,302.4 L619.5,302.4 L620.5,302.4 L621.5,302.5 L622.5,302.5 L623.5,302.5 L624.5,302.6 L625.5,302.6 L626.5,302.6 L627.5,302.6 L628.5,302.7 L629.5,302.7 L630.5,302.7 L631.5,302.8 L632.5,302.8 L633.5,302.8 L634.5,302.8 L635.5,302.8 L636.5,302.9 L637.5,302.9 L638.5,302.9 L639.5,302.9 L640.5,303.0 L641.5,303.0 L642.5,303.0 L643.5,303.0 L644.5,303.0 L645.5,303.0 L646.5,303.1 L647.5,303.1 L648.5,303.1 L649.5,303.1 L650.5,303.1 L651.5,303.1 L652.5,303.2 L653.5,303.2 L654.5,303.2 L655.5,303.2 L656.5,303.2 L657.5,303.2 L658.5,303.3 L659.5,303.3 L660.5,303.3 L661.5,303.3 L662.5,303.3 L663.5,303.3 L664.5,303.3 L665.5,303.3 L666.5,303.4 L667.5,303.4 L668.5,303.4 L669.5,303.4 L670.5,303.4 L671.5,303.4 L672.5,303.4 L673.5,303.4 L674.5,303.5 L675.5,303.5 L676.5,303.5 L677.5,303.5 L678.5,303.5 L679.5,303.5 L680.5,303.5 L681.5,303.5 L682.5,303.5 L683.5,303.6 L684.5,303.6 L685.5,303.6 L686.5,303.6 L687.5,303.6 L688.5,303.6 L689.5,303.6 L690.5,303.6 L691.5,303.7 L692.5,303.7 L693.5,303.7 L694.5,303.7 L695.5,303.7 L696.5,303.7 L697.5,303.7 L698.5,303.7 L699.0,303.8" stroke="#0000ff" stroke-dasharray="2.0 3.15"/>
<path d="M480.5,156.5 L481.5,156.6 L482.5,156.8 L483.5,157.1 L484.5,157.5 L485.5,157.9 L486.5,158.4 L487.5,159.0 L488.5,159.7 L489.5,160.4 L490.5,161.2 L491.5,162.0 L492.5,162.9 L493.5,163.8 L494.5,164.7 L495.5,165.7 L496.5,166.7 L497.5,167.7 L498.5,168.8 L499.5,169.8 L500.5,170.9 L501.5,171.9 L502.5,173.0 L503.5,174.0 L504.5,175.1 L505.5,176.1 L506.5,177.2 L507.5,178.2 L508.5,179.2 L509.5,180.3 L510.5,181.3 L511.5,182.4 L512.5,183.4 L513.5,184.4 L514.5,185.5 L515.5,186.5 L516.5,187.6 L517.5,188.7 L518.5,189.7 L519.5,190.8 L520.5,191.9 L521.5,193.0 L522.5,194.1 L523.5,195.2 L524.5,196.3 L525.5,197.4 L526.5,198.6 L527.5,199.7 L528.5,200.8 L529.5,202.0 L530.5,203.1 L531.5,204.3 L532.5,205.5 L533.5,206.6 L534.5,207.8 L535.5,209.0 L536.5,210.2 L537.5,211.4 L538.5,212.5 L539.5,213.7 L540.5,214.9 L541.5,216.1 L542.5,217.3 L543.5,218.5 L544.5,219.7 L545.5,220.8 L546.5,222.0 L547.5,223.2 L548.5,224.4 L549.5,225.5 L550.5,226.7 L551.5,227.9 L552.5,229.0 L553.5,230.2 L554.5,231.3 L555.5,232.5 L556.5,233.6 L557.5,234.7 L558.5,235.8 L559.5,237.0 L560.5,238.1 L561.5,239.2 L562.5,240.3 L563.5,241.3 L564.5,242.4 L565.5,243.5 L566.5,244.6 L567.5,245.6 L568.5,246.7 L569.5,247.7 L570.5,248.8 L571.5,249.8 L572.5,250.8 L573.5,251.9 L574.5,252.9 L575.5,253.9 L576.5,254.9 L577.5,255.9 L578.5,256.9 L579.5,257.9 L580.5,258.8 L581.5,259.8 L582.5,260.8 L583.5,261.7 L584.5,262.7 L585.5,263.7 L586.5,264.6 L587.5,265.5 L588.5,266.5 L589.5,267.4 L590.5,268.3 L591.5,269.3 L592.5,270.2 L593.5,271.1 L594.5,272.0 L595.5,272.9 L596.5,273.8 L597.5,274.7 L598.5,275.5 L599.5,276.4 L600.5,277.3 L601.5,278.2 L602.5,279.0 L603.5,279.9 L604.5,280.8 L605.5,281.6 L606.5,282.4 L607.5,283.3 L608.5,284.1 L609.5,285.0 L610.5,285.8 L611.5,286.6 L612.5,287.4 L613.5,288.3 L614.5,289.1 L615.5,289.9 L616.5,290.7 L617.5,291.5 L618.5,292.3 L619.5,293.1 L620.5,293.9 L621.5,294.6 L622.5,295.4 L623.5,296.2 L624.5,297.0 L625.5,297.8 L626.5,298.5 L627.5,299.3 L628.5,300.0 L629.5,300.8 L630.5,301.6 L631.5,302.3 L632.5,303.1 L633.5,303.8 L634.5,304.5 L635.5,305.3 L636.5,306.0 L637.5,306.8 L638.5,307.5 L639.5,308.2 L640.5,308.9 L641.5,309.7 L642.5,310.4 L643.5,311.1 L644.5,311.8 L645.5,312.5 L646.5,313.2 L647.5,313.9 L648.5,314.6 L649.5,315.3 L650.5,316.0 L651.5,316.7 L652.5,317.4 L653.5,318.1 L654.5,318.8 L654.8,319.0" stroke="#000000"/>
<path d="M480.5,156.5 L481.5,156.6 L482.5,156.7 L483.5,156.8 L484.5,157.0 L485.5,157.2 L486.5,157.4 L487.5,157.7 L488.5,158.0 L489.5,158.3 L490.5,158.6 L491.5,159.0 L492.5,159.3 L493.5,159.7 L494.5,160.2 L495.5,160.6 L496.5,161.1 L497.5,161.6 L498.5,162.1 L499.5,162.6 L500.5,163.1 L501.5,163.7 L502.5,164.2 L503.5,164.8 L504.5,165.4 L505.5,166.1 L506.5,166.7 L507.5,167.3 L508.5,168.0 L509.5,168.6 L510.5,169.3 L511.5,170.0 L512.5,170.7 L513.5,171.4 L514.5,172.1 L515.5,172.8 L516.5,173.6 L517.5,174.3 L518.5,175.0 L519.5,175.8 L520.5,176.5 L521.5,177.3 L522.5,178.0 L523.5,178.8 L524.5,179.5 L525.5,180.3 L526.5,181.1 L527.5,181.8 L528.5,182.6 L529.5,183.4 L530.5,184.1 L531.5,184.9 L532.5,185.7 L533.5,186.4 L534.5,187.2 L535.5,188.0 L536.5,188.7 L537.5,189.5 L538.5,190.3 L539.5,191.0 L540.5,191.8 L541.5,192.5 L542.5,193.3 L543.5,194.0 L544.5,194.8 L545.5,195.5 L546.5,196.2 L547.5,197.0 L548.5,197.7 L549.5,198.4 L550.5,199.1 L551.5,199.8 L552.5,200.5 L553.5,201.2 L554.5,201.9 L555.5,202.6 L556.5,203.3 L557.5,203.9 L558.5,204.6 L559.5,205.3 L560.5,205.9 L561.5,206.6 L562.5,207.2 L563.5,207.9 L564.5,208.5 L565.5,209.2 L566.5,209.8 L567.5,210.4 L568.5,211.1 L569.5,211.7 L570.5,212.3 L571.5,212.9 L572.5,213.5 L573.5,214.1 L574.5,214.7 L575.5,215.3 L576.5,215.9 L577.5,216.4 L578.5,217.0 L579.5,217.6 L580.5,218.2 L581.5,218.7 L582.5,219.3 L583.5,219.9 L584.5,220.4 L585.5,221.0 L586.5,221.5 L587.5,222.0 L588.5,222.6 L589.5,223.1 L590.5,223.6 L591.5,224.2 L592.5,224.7 L593.5,225.2 L594.5,225.7 L595.5,226.2 L596.5,226.7 L597.5,227.2 L598.5,227.7 L599.5,228.2 L600.5,228.7 L601.5,229.2 L602.5,229.7 L603.5,230.2 L604.5,230.6 L605.5,231.1 L606.5,231.6 L607.5,232.0 L608.5,232.5 L609.5,233.0 L610.5,233.4 L611.5,233.9 L612.5,234.3 L613.5,234.8 L614.5,235.2 L615.5,235.7 L616.5,236.1 L617.5,236.5 L618.5,237.0 L619.5,237.4 L620.5,237.8 L621.5,238.2 L622.5,238.7 L623.5,239.1 L624.5,239.5 L625.5,239.9 L626.5,240.3 L627.5,240.7 L628.5,241.1 L629.5,241.5 L630.5,241.9 L631.5,242.3 L632.5,242.7 L633.5,243.1 L634.5,243.5 L635.5,243.8 L636.5,244.2 L637.5,244.6 L638.5,245.0 L639.5,245.3 L640.5,245.7 L641.5,246.1 L642.5,246.4 L643.5,246.8 L644.5,247.2 L645.5,247.5 L646.5,247.9 L647.5,248.2 L648.5,248.6 L649.5,248.9 L650.5,249.3 L651.5,249.6 L652.5,250.0 L653.5,250.3 L654.5,250.7 L655.5,251.0 L656.5,251.3 L657.5,251.7 L658.5,252.0 L659.5,252.3 L660.5,252.7 L661.5,253.0 L662.5,253.3 L663.5,253.6 L664.5,254.0 L665.5,254.3 L666.5,254.6 L667.5,254.9 L668.5,255.2 L669.5,255.5 L670.5,255.8 L671.5,256.2 L672.5,256.5 L673.5,256.8 L674.5,257.1 L675.5,257.4 L676.5,257.7 L677.5,258.0 L678.5,258.3 L679.5,258.6 L680.5,258.9 L681.5,259.2 L682.5,259.5 L683.5,259.8 L684.5,260.1 L685.5,260.4 L686.5,260.7 L687.5,261.0 L688.5,261.2 L689.5,261.5 L690.5,261.8 L691.5,262.1 L692.5,262.4 L693.5,262.7 L693.8,262.8" stroke="#000000" stroke-dasharray="2.0 3.15"/>
<path d="M480.5,166.1 L481.5,166.6 L482.5,167.0 L483.5,167.5 L484.5,168.1 L485.5,168.6 L486.5,169.2 L487.5,169.8 L488.5,170.4 L489.5,171.0 L490.5,171.6 L491.5,172.3 L492.5,173.0 L493.5,173.6 L494.5,174.4 L495.5,175.1 L496.5,175.8 L497.5,176.6 L498.5,177.3 L499.5,178.1 L500.5,178.9 L501.5,179.7 L502.5,180.5 L503.5,181.4 L504.5,182.2 L505.5,183.1 L506.5,184.0 L507.5,184.9 L508.5,185.7 L509.5,186.7 L510.5,187.6 L511.5,188.5 L512.5,189.4 L513.5,190.4 L514.5,191.3 L515.5,192.3 L516.5,193.3 L517.5,194.3 L518.5,195.2 L519.5,196.2 L520.5,197.2 L521.5,198.2 L522.5,199.3 L523.5,200.3 L524.5,201.3 L525.5,202.3 L526.5,203.4 L527.5,204.4 L528.5,205.4 L529.5,206.5 L530.5,207.5 L531.5,208.6 L532.5,209.6 L533.5,210.7 L534.5,211.7 L535.5,212.8 L536.5,213.8 L537.5,214.9 L538.5,215.9 L539.5,217.0 L540.5,218.0 L541.5,219.1 L542.5,220.1 L543.5,221.2 L544.5,222.2 L545.5,223.3 L546.5,224.3 L547.5,225.3 L548.5,226.4 L549.5,227.4 L550.5,228.4 L551.5,229.4 L552.5,230.4 L553.5,231.5 L554.5,232.5 L555.5,233.4 L556.5,234.4 L557.5,235.4 L558.5,236.4 L559.5,237.3 L560.5,238.3 L561.5,239.3 L562.5,240.2 L563.5,241.1 L564.5,242.1 L565.5,243.0 L566.5,243.9 L567.5,244.8 L568.5,245.7 L569.5,246.7 L570.5,247.5 L571.5,248.4 L572.5,249.3 L573.5,250.2 L574.5,251.1 L575.5,251.9 L576.5,252.8 L577.5,253.7 L578.5,254.5 L579.5,255.4 L580.5,256.2 L581.5,257.0 L582.5,257.9 L583.5,258.7 L584.5,259.5 L585.5,260.3 L586.5,261.1 L587.5,261.9 L588.5,262.7 L589.5,263.5 L590.5,264.3 L591.5,265.1 L592.5,265.9 L593.5,266.6 L594.5,267.4 L595.5,268.2 L596.5,268.9 L597.5,269.7 L598.5,270.4 L599.5,271.2 L600.5,271.9 L601.5,272.6 L602.5,273.4 L603.5,274.1 L604.5,274.8 L605.5,275.5 L606.5,276.2 L607.5,276.9 L608.5,277.6 L609.5,278.3 L610.5,279.0 L611.5,279.7 L612.5,280.4 L613.5,281.1 L614.5,281.8 L615.5,282.4 L616.5,283.1 L617.5,283.8 L618.5,284.4 L619.5,285.1 L620.5,285.8 L621.5,286.4 L622.5,287.1 L623.5,287.7 L624.5,288.4 L625.5,289.0 L626.5,289.6 L627.5,290.3 L628.5,290.9 L629.5,291.5 L630.5,292.1 L631.5,292.8 L632.5,293.4 L633.5,294.0 L634.5,294.6 L635.5,295.2 L636.5,295.8 L637.5,296.4 L638.5,297.0 L639.5,297.6 L640.5,298.2 L641.5,298.8 L642.5,299.4 L643.5,300.0 L644.5,300.6 L645.5,301.1 L646.5,301.7 L647.5,302.3 L648.5,302.9 L649.5,303.4 L650.5,304.0 L651.5,304.6 L652.5,305.1 L653.5,305.7 L654.5,306.3 L655.5,306.8 L656.5,307.4 L657.5,307.9 L658.5,308.5 L659.5,309.0 L660.5,309.6 L661.5,310.1 L662.5,310.7 L663.5,311.2 L664.5,311.8 L665.5,312.3 L666.5,312.9 L667.5,313.4 L668.5,313.9 L669.5,314.5 L670.5,315.0 L671.5,315.5 L672.5,316.1 L673.5,316.6 L674.5,317.1 L675.5,317.7 L676.5,318.2 L677.5,318.7 L678.5,319.2" stroke="#008000" stroke-dasharray="15.5 3.1"/>
<path d="M480.5,166.1 L481.5,166.6 L482.5,167.1 L483.5,167.6 L484.5,168.2 L485.5,168.7 L486.5,169.3 L487.5,169.9 L488.5,170.5 L489.5,171.1 L490.5,171.7 L491.5,172.4 L492.5,173.0 L493.5,173.7 L494.5,174.4 L495.5,175.1 L496.5,175.8 L497.5,176.5 L498.5,177.2 L499.5,178.0 L500.5,178.7 L501.5,179.5 L502.5,180.3 L503.5,181.0 L504.5,181.8 L505.5,182.6 L506.5,183.4 L507.5,184.2 L508.5,185.0 L509.5,185.9 L510.5,186.7 L511.5,187.5 L512.5,188.4 L513.5,189.2 L514.5,190.1 L515.5,190.9 L516.5,191.8 L517.5,192.6 L518.5,193.5 L519.5,194.4 L520.5,195.2 L521.5,196.1 L522.5,197.0 L523.5,197.9 L524.5,198.7 L525.5,199.6 L526.5,200.5 L527.5,201.4 L528.5,202.2 L529.5,203.1 L530.5,204.0 L531.5,204.9 L532.5,205.7 L533.5,206.6 L534.5,207.5 L535.5,208.4 L536.5,209.2 L537.5,210.1 L538.5,210.9 L539.5,211.8 L540.5,212.6 L541.5,213.5 L542.5,214.3 L543.5,215.1 L544.5,215.9 L545.5,216.7 L546.5,217.6 L547.5,218.4 L548.5,219.1 L549.5,219.9 L550.5,220.7 L551.5,221.5 L552.5,222.2 L553.5,223.0 L554.5,223.7 L555.5,224.5 L556.5,225.2 L557.5,225.9 L558.5,226.6 L559.5,227.3 L560.5,228.0 L561.5,228.7 L562.5,229.4 L563.5,230.1 L564.5,230.8 L565.5,231.4 L566.5,232.1 L567.5,232.7 L568.5,233.4 L569.5,234.0 L570.5,234.6 L571.5,235.3 L572.5,235.9 L573.5,236.5 L574.5,237.1 L575.5,237.7 L576.5,238.3 L577.5,238.8 L578.5,239.4 L579.5,240.0 L580.5,240.6 L581.5,241.1 L582.5,241.7 L583.5,242.2 L584.5,242.7 L585.5,243.3 L586.5,243.8 L587.5,244.3 L588.5,244.8 L589.5,245.3 L590.5,245.8 L591.5,246.3 L592.5,246.8 L593.5,247.3 L594.5,247.8 L595.5,248.3 L596.5,248.7 L597.5,249.2 L598.5,249.7 L599.5,250.1 L600.5,250.6 L601.5,251.0 L602.5,251.4 L603.5,251.9 L604.5,252.3 L605.5,252.7 L606.5,253.1 L607.5,253.6 L608.5,254.0 L609.5,254.4 L610.5,254.8 L611.5,255.2 L612.5,255.6 L613.5,255.9 L614.5,256.3 L615.5,256.7 L616.5,257.1 L617.5,257.4 L618.5,257.8 L619.5,258.2 L620.5,258.5 L621.5,258.9 L622.5,259.2 L623.5,259.6 L624.5,259.9 L625.5,260.3 L626.5,260.6 L627.5,260.9 L628.5,261.3 L629.5,261.6 L630.5,261.9 L631.5,262.2 L632.5,262.6 L633.5,262.9 L634.5,263.2 L635.5,263.5 L636.5,263.8 L637.5,264.1 L638.5,264.4 L639.5,264.7 L640.5,265.0 L641.5,265.3 L642.5,265.6 L643.5,265.9 L644.5,266.1 L645.5,266.4 L646.5,266.7 L647.5,267.0 L648.5,267.2 L649.5,267.5 L650.5,267.8 L651.5,268.1 L652.5,268.3 L653.5,268.6 L654.5,268.9 L655.5,269.1 L656.5,269.4 L657.5,269.6 L658.5,269.9 L659.5,270.1 L660.5,270.4 L661.5,270.7 L662.5,270.9 L663.5,271.2 L664.5,271.4 L665.5,271.7 L666.5,271.9 L667.5,272.1 L668.5,272.4 L669.5,272.6 L670.5,272.9 L671.5,273.1 L672.5,273.4 L673.5,273.6 L674.5,273.8 L675.5,274.1 L676.5,274.3 L677.5,274.6 L678.5,274.8 L679.5,275.0 L680.5,275.3 L681.5,275.5 L682.5,275.8 L683.5,276.0 L684.5,276.2 L685.5,276.5 L686.5,276.7 L687.5,277.0 L688.5,277.2 L689.5,277.4 L690.5,277.7 L691.5,277.9 L692.5,278.2 L693.5,278.4 L694.5,278.7 L695.5,278.9 L696.5,279.1 L697.5,279.4 L698.5,279.6 L699.0,279.8" stroke="#008000" stroke-dasharray="2.0 3.15"/>
<path d="M480.5,147.9 L481.5,148.4 L482.5,149.0 L483.5,149.5 L484.5,150.1 L485.5,150.8 L486.5,151.4 L487.5,152.1 L488.5,152.8 L489.5,153.5 L490.5,154.3 L491.5,155.1 L492.5,155.9 L493.5,156.8 L494.5,157.7 L495.5,158.6 L496.5,159.6 L497.5,160.6 L498.5,161.6 L499.5,162.6 L500.5,163.7 L501.5,164.8 L502.5,165.9 L503.5,167.1 L504.5,168.3 L505.5,169.4 L506.5,170.6 L507.5,171.9 L508.5,173.1 L509.5,174.4 L510.5,175.6 L511.5,176.9 L512.5,178.2 L513.5,179.5 L514.5,180.8 L515.5,182.2 L516.5,183.5 L517.5,184.9 L518.5,186.2 L519.5,187.6 L520.5,188.9 L521.5,190.3 L522.5,191.7 L523.5,193.0 L524.5,194.4 L525.5,195.8 L526.5,197.2 L527.5,198.6 L528.5,199.9 L529.5,201.3 L530.5,202.7 L531.5,204.1 L532.5,205.5 L533.5,206.8 L534.5,208.2 L535.5,209.6 L536.5,211.0 L537.5,212.3 L538.5,213.7 L539.5,215.1 L540.5,216.4 L541.5,217.8 L542.5,219.1 L543.5,220.5 L544.5,221.8 L545.5,223.2 L546.5,224.5 L547.5,225.9 L548.5,227.2 L549.5,228.5 L550.5,229.8 L551.5,231.2 L552.5,232.5 L553.5,233.8 L554.5,235.1 L555.5,236.4 L556.5,237.7 L557.5,238.9 L558.5,240.2 L559.5,241.5 L560.5,242.7 L561.5,244.0 L562.5,245.2 L563.5,246.5 L564.5,247.7 L565.5,248.9 L566.5,250.1 L567.5,251.3 L568.5,252.5 L569.5,253.7 L570.5,254.9 L571.5,256.1 L572.5,257.3 L573.5,258.4 L574.5,259.6 L575.5,260.7 L576.5,261.9 L577.5,263.0 L578.5,264.1 L579.5,265.3 L580.5,266.4 L581.5,267.5 L582.5,268.6 L583.5,269.7 L584.5,270.8 L585.5,271.9 L586.5,272.9 L587.5,274.0 L588.5,275.1 L589.5,276.1 L590.5,277.2 L591.5,278.2 L592.5,279.2 L593.5,280.3 L594.5,281.3 L595.5,282.3 L596.5,283.3 L597.5,284.3 L598.5,285.3 L599.5,286.3 L600.5,287.3 L601.5,288.2 L602.5,289.2 L603.5,290.2 L604.5,291.1 L605.5,292.1 L606.5,293.0 L607.5,294.0 L608.5,294.9 L609.5,295.8 L610.5,296.7 L611.5,297.6 L612.5,298.5 L613.5,299.4 L614.5,300.3 L615.5,301.2 L616.5,302.1 L617.5,303.0 L618.5,303.8 L619.5,304.7 L620.5,305.6 L621.5,306.4 L622.5,307.2 L623.5,308.1 L624.5,308.9 L625.5,309.7 L626.5,310.6 L627.5,311.4 L628.5,312.2 L629.5,313.0 L630.5,313.8 L631.5,314.6 L632.5,315.4 L633.5,316.1 L634.5,316.9 L635.5,317.7 L636.5,318.4 L637.2,319.0" stroke="#ff0000" stroke-dasharray="15.2 3.1 3.3 15.0"/>
<path d="M480.5,147.9 L481.5,148.4 L482.5,148.9 L483.5,149.5 L484.5,150.1 L485.5,150.8 L486.5,151.5 L487.5,152.2 L488.5,153.0 L489.5,153.7 L490.5,154.5 L491.5,155.4 L492.5,156.2 L493.5,157.1 L494.5,158.0 L495.5,159.0 L496.5,159.9 L497.5,160.9 L498.5,161.9 L499.5,162.9 L500.5,164.0 L501.5,165.0 L502.5,166.1 L503.5,167.2 L504.5,168.3 L505.5,169.4 L506.5,170.6 L507.5,171.7 L508.5,172.9 L509.5,174.1 L510.5,175.3 L511.5,176.4 L512.5,177.6 L513.5,178.9 L514.5,180.1 L515.5,181.3 L516.5,182.5 L517.5,183.7 L518.5,185.0 L519.5,186.2 L520.5,187.4 L521.5,188.6 L522.5,189.9 L523.5,191.1 L524.5,192.3 L525.5,193.5 L526.5,194.8 L527.5,196.0 L528.5,197.2 L529.5,198.4 L530.5,199.5 L531.5,200.7 L532.5,201.9 L533.5,203.0 L534.5,204.2 L535.5,205.3 L536.5,206.4 L537.5,207.5 L538.5,208.6 L539.5,209.7 L540.5,210.8 L541.5,211.8 L542.5,212.9 L543.5,213.9 L544.5,214.9 L545.5,216.0 L546.5,217.0 L547.5,218.0 L548.5,219.0 L549.5,219.9 L550.5,220.9 L551.5,221.9 L552.5,222.8 L553.5,223.8 L554.5,224.7 L555.5,225.6 L556.5,226.5 L557.5,227.4 L558.5,228.3 L559.5,229.2 L560.5,230.1 L561.5,230.9 L562.5,231.8 L563.5,232.6 L564.5,233.5 L565.5,234.3 L566.5,235.1 L567.5,235.9 L568.5,236.7 L569.5,237.5 L570.5,238.3 L571.5,239.1 L572.5,239.9 L573.5,240.6 L574.5,241.4 L575.5,242.1 L576.5,242.9 L577.5,243.6 L578.5,244.3 L579.5,245.0 L580.5,245.8 L581.5,246.5 L582.5,247.2 L583.5,247.9 L584.5,248.5 L585.5,249.2 L586.5,249.9 L587.5,250.6 L588.5,251.2 L589.5,251.9 L590.5,252.5 L591.5,253.2 L592.5,253.8 L593.5,254.4 L594.5,255.0 L595.5,255.7 L596.5,256.3 L597.5,256.9 L598.5,257.5 L599.5,258.1 L600.5,258.6 L601.5,259.2 L602.5,259.8 L603.5,260.4 L604.5,260.9 L605.5,261.5 L606.5,262.1 L607.5,262.6 L608.5,263.2 L609.5,263.7 L610.5,264.2 L611.5,264.8 L612.5,265.3 L613.5,265.8 L614.5,266.3 L615.5,266.8 L616.5,267.4 L617.5,267.9 L618.5,268.4 L619.5,268.8 L620.5,269.3 L621.5,269.8 L622.5,270.3 L623.5,270.8 L624.5,271.2 L625.5,271.7 L626.5,272.2 L627.5,272.6 L628.5,273.1 L629.5,273.5 L630.5,274.0 L631.5,274.4 L632.5,274.9 L633.5,275.3 L634.5,275.7 L635.5,276.2 L636.5,276.6 L637.5,277.0 L638.5,277.4 L639.5,277.8 L640.5,278.2 L641.5,278.6 L642.5,279.1 L643.5,279.5 L644.5,279.8 L645.5,280.2 L646.5,280.6 L647.5,281.0 L648.5,281.4 L649.5,281.8 L650.5,282.2 L651.5,282.5 L652.5,282.9 L653.5,283.3 L654.5,283.6 L655.5,284.0 L656.5,284.4 L657.5,284.7 L658.5,285.1 L659.5,285.4 L660.5,285.8 L661.5,286.1 L662.5,286.5 L663.5,286.8 L664.5,287.2 L665.5,287.5 L666.5,287.8 L667.5,288.2 L668.5,288.5 L669.5,288.8 L670.5,289.2 L671.5,289.5 L672.5,289.8 L673.5,290.2 L674.5,290.5 L675.5,290.8 L676.5,291.1 L677.5,291.4 L678.5,291.8 L679.5,292.1 L680.5,292.4 L681.5,292.7 L682.5,293.0 L683.5,293.3 L684.5,293.6 L685.5,293.9 L686.5,294.2 L687.5,294.5 L688.5,294.9 L689.5,295.2 L690.5,295.5 L691.5,295.8 L692.5,296.1 L693.5,296.4 L694.5,296.7 L695.5,297.0 L696.5,297.3 L697.5,297.6 L698.5,297.9 L699.0,298.0" stroke="#ff0000" stroke-dasharray="2.0 3.15"/>
</g>
<path d="M480.5,316.9v-6.2M480.5,119.1v6.2M498.6,316.9v-3.1M498.6,119.1v3.1M516.7,316.9v-6.2M516.7,119.1v6.2M534.9,316.9v-3.1M534.9,119.1v3.1M553.0,316.9v-6.2M553.0,119.1v6.2M571.1,316.9v-3.1M571.1,119.1v3.1M589.2,316.9v-6.2M589.2,119.1v6.2M607.3,316.9v-3.1M607.3,119.1v3.1M625.5,316.9v-6.2M625.5,119.1v6.2M643.6,316.9v-3.1M643.6,119.1v3.1M661.7,316.9v-6.2M661.7,119.1v6.2M679.8,316.9v-3.1M679.8,119.1v3.1M698.0,316.9v-6.2M698.0,119.1v6.2M480.5,316.9h6.2M698.0,316.9h-6.2M480.5,294.9h3.1M698.0,294.9h-3.1M480.5,272.9h6.2M698.0,272.9h-6.2M480.5,250.9h3.1M698.0,250.9h-3.1M480.5,229.0h6.2M698.0,229.0h-6.2M480.5,207.0h3.1M698.0,207.0h-3.1M480.5,185.0h6.2M698.0,185.0h-6.2M480.5,163.0h3.1M698.0,163.0h-3.1M480.5,141.1h6.2M698.0,141.1h-6.2M480.5,119.1h3.1M698.0,119.1h-3.1" stroke="#000" stroke-width="1.8" fill="none"/>
<rect x="480.5" y="119.1" width="217.4" height="197.8" fill="none" stroke="#000" stroke-width="1.9"/>
<text x="470.3" y="322.1" font-size="17" text-anchor="end" textLength="34.4" lengthAdjust="spacingAndGlyphs">3000</text>
<text x="470.3" y="278.1" font-size="17" text-anchor="end" textLength="34.4" lengthAdjust="spacingAndGlyphs">3200</text>
<text x="470.3" y="234.2" font-size="17" text-anchor="end" textLength="34.4" lengthAdjust="spacingAndGlyphs">3400</text>
<text x="470.3" y="190.2" font-size="17" text-anchor="end" textLength="34.4" lengthAdjust="spacingAndGlyphs">3600</text>
<text x="470.3" y="146.3" font-size="17" text-anchor="end" textLength="34.4" lengthAdjust="spacingAndGlyphs">3800</text>
<text x="480.5" y="338.2" font-size="17" text-anchor="middle" textLength="9.3" lengthAdjust="spacingAndGlyphs">0</text>
<text x="516.7" y="338.2" font-size="17" text-anchor="middle" textLength="9.3" lengthAdjust="spacingAndGlyphs">1</text>
<text x="553.0" y="338.2" font-size="17" text-anchor="middle" textLength="9.3" lengthAdjust="spacingAndGlyphs">2</text>
<text x="589.2" y="338.2" font-size="17" text-anchor="middle" textLength="9.3" lengthAdjust="spacingAndGlyphs">3</text>
<text x="625.5" y="338.2" font-size="17" text-anchor="middle" textLength="9.3" lengthAdjust="spacingAndGlyphs">4</text>
<text x="661.7" y="338.2" font-size="17" text-anchor="middle" textLength="9.3" lengthAdjust="spacingAndGlyphs">5</text>
<text x="698.0" y="338.2" font-size="17" text-anchor="middle" textLength="9.3" lengthAdjust="spacingAndGlyphs">6</text>
<rect x="493.0" y="244.0" width="61.9" height="37.2" fill="#fff" stroke="#000" stroke-width="2.2"/>
<text x="506.1" y="269.2" font-size="20" textLength="36.4" lengthAdjust="spacingAndGlyphs" xml:space="preserve">T=0</text>
<rect x="556.7" y="119.1" width="141.2" height="68.8" fill="#fff" stroke="#000" stroke-width="1.7"/>
<path d="M566.7,133.6H600.1" stroke="#0000ff" stroke-width="0.9" stroke-dasharray="7 1.6" fill="none"/>
<path d="M566.7,153.5H600.1" stroke="#008000" stroke-width="0.9" stroke-dasharray="15.8 3.8" fill="none"/>
<path d="M566.7,173.5H600.1" stroke="#ff0000" stroke-width="0.9" stroke-dasharray="15.8 3.8 3.4 20" fill="none"/>
<text x="608.0" y="139.6" font-size="17" stroke="#000" stroke-width="0.3">J/</text>
<text transform="translate(619.3,139.6) scale(1.17,1.04)" x="0" y="0" font-size="17" class="it">ψ</text>
<text transform="translate(608.0,159.6) scale(1.17,1.04)" x="0" y="0" font-size="17" class="it">ψ</text>
<text transform="translate(608.0,179.5) scale(1.17,1.04)" x="0" y="0" font-size="17" class="it">ψ</text>
<text x="641.0" y="159.6" font-size="17" textLength="47.3" lengthAdjust="spacingAndGlyphs">(3686)</text>
<text x="641.0" y="179.5" font-size="17" textLength="47.3" lengthAdjust="spacingAndGlyphs">(3770)</text>
<text x="491.1" y="143.0" font-size="20" textLength="24.8" lengthAdjust="spacingAndGlyphs">(b)</text>
</g>
<g id="panel-c">
<clipPath id="clipc"><rect x="132.2" y="356.2" width="217.8" height="197.7"/></clipPath>
<g clip-path="url(#clipc)" fill="none" stroke-width="2.1">
<path d="M132.0,532.5 L133.0,532.6 L134.0,532.6 L135.0,532.7 L136.0,532.8 L137.0,532.8 L138.0,532.9 L139.0,532.9 L140.0,533.0 L141.0,533.1 L142.0,533.1 L143.0,533.2 L144.0,533.2 L145.0,533.3 L146.0,533.4 L147.0,533.4 L148.0,533.5 L149.0,533.5 L150.0,533.6 L151.0,533.7 L152.0,533.7 L153.0,533.8 L154.0,533.8 L155.0,533.9 L156.0,534.0 L157.0,534.0 L158.0,534.1 L159.0,534.1 L160.0,534.2 L161.0,534.2 L162.0,534.3 L163.0,534.4 L164.0,534.4 L165.0,534.5 L166.0,534.5 L167.0,534.6 L168.0,534.7 L169.0,534.7 L170.0,534.8 L171.0,534.8 L172.0,534.9 L173.0,534.9 L174.0,535.0 L175.0,535.0 L176.0,535.1 L177.0,535.2 L178.0,535.2 L179.0,535.3 L180.0,535.3 L181.0,535.4 L182.0,535.4 L183.0,535.5 L184.0,535.5 L185.0,535.6 L186.0,535.7 L187.0,535.7 L188.0,535.8 L189.0,535.8 L190.0,535.9 L191.0,535.9 L192.0,536.0 L193.0,536.0 L194.0,536.1 L195.0,536.1 L196.0,536.2 L197.0,536.2 L198.0,536.3 L199.0,536.3 L200.0,536.4 L201.0,536.4 L202.0,536.5 L203.0,536.5 L204.0,536.6 L205.0,536.7 L206.0,536.7 L207.0,536.8 L208.0,536.8 L209.0,536.9 L210.0,536.9 L211.0,537.0 L212.0,537.0 L213.0,537.1 L214.0,537.1 L215.0,537.2 L216.0,537.2 L217.0,537.3 L218.0,537.3 L219.0,537.4 L220.0,537.4 L221.0,537.5 L222.0,537.5 L223.0,537.6 L224.0,537.6 L225.0,537.6 L226.0,537.7 L227.0,537.7 L228.0,537.8 L229.0,537.8 L230.0,537.9 L231.0,537.9 L232.0,538.0 L233.0,538.0 L234.0,538.1 L235.0,538.1 L236.0,538.2 L237.0,538.2 L238.0,538.3 L239.0,538.3 L240.0,538.4 L241.0,538.4 L242.0,538.4 L243.0,538.5 L244.0,538.5 L245.0,538.6 L246.0,538.6 L247.0,538.7 L248.0,538.7 L249.0,538.8 L250.0,538.8 L251.0,538.8 L252.0,538.9 L253.0,538.9 L254.0,539.0 L255.0,539.0 L256.0,539.1 L257.0,539.1 L258.0,539.2 L259.0,539.2 L260.0,539.2 L261.0,539.3 L262.0,539.3 L263.0,539.4 L264.0,539.4 L265.0,539.5 L266.0,539.5 L267.0,539.5 L268.0,539.6 L269.0,539.6 L270.0,539.7 L271.0,539.7 L272.0,539.7 L273.0,539.8 L274.0,539.8 L275.0,539.9 L276.0,539.9 L277.0,539.9 L278.0,540.0 L279.0,540.0 L280.0,540.1 L281.0,540.1 L282.0,540.1 L283.0,540.2 L284.0,540.2 L285.0,540.3 L286.0,540.3 L287.0,540.3 L288.0,540.4 L289.0,540.4 L290.0,540.5 L291.0,540.5 L292.0,540.5 L293.0,540.6 L294.0,540.6 L295.0,540.7 L296.0,540.7 L297.0,540.7 L298.0,540.8 L299.0,540.8 L300.0,540.8 L301.0,540.9 L302.0,540.9 L303.0,540.9 L304.0,541.0 L305.0,541.0 L306.0,541.1 L307.0,541.1 L308.0,541.1 L309.0,541.2 L310.0,541.2 L311.0,541.2 L312.0,541.3 L313.0,541.3 L314.0,541.3 L315.0,541.4 L316.0,541.4 L317.0,541.4 L318.0,541.5 L319.0,541.5 L320.0,541.5 L321.0,541.6 L322.0,541.6 L323.0,541.6 L324.0,541.7 L325.0,541.7 L326.0,541.7 L327.0,541.8 L328.0,541.8 L329.0,541.8 L330.0,541.9 L331.0,541.9 L332.0,541.9 L333.0,542.0 L334.0,542.0 L335.0,542.0 L336.0,542.1 L337.0,542.1 L338.0,542.1 L339.0,542.2 L340.0,542.2 L341.0,542.2 L342.0,542.3 L343.0,542.3 L344.0,542.3 L345.0,542.4 L346.0,542.4 L347.0,542.4 L348.0,542.4 L349.0,542.5 L350.0,542.5" stroke="#0000ff" stroke-dasharray="7 1.75"/>
<path d="M132.0,532.5 L133.0,532.6 L134.0,532.6 L135.0,532.7 L136.0,532.8 L137.0,532.8 L138.0,532.9 L139.0,532.9 L140.0,533.0 L141.0,533.1 L142.0,533.1 L143.0,533.2 L144.0,533.2 L145.0,533.3 L146.0,533.4 L147.0,533.4 L148.0,533.5 L149.0,533.5 L150.0,533.6 L151.0,533.7 L152.0,533.7 L153.0,533.8 L154.0,533.8 L155.0,533.9 L156.0,534.0 L157.0,534.0 L158.0,534.1 L159.0,534.1 L160.0,534.2 L161.0,534.2 L162.0,534.3 L163.0,534.4 L164.0,534.4 L165.0,534.5 L166.0,534.5 L167.0,534.6 L168.0,534.6 L169.0,534.7 L170.0,534.7 L171.0,534.8 L172.0,534.9 L173.0,534.9 L174.0,535.0 L175.0,535.0 L176.0,535.1 L177.0,535.1 L178.0,535.2 L179.0,535.2 L180.0,535.3 L181.0,535.3 L182.0,535.4 L183.0,535.4 L184.0,535.5 L185.0,535.5 L186.0,535.6 L187.0,535.7 L188.0,535.7 L189.0,535.8 L190.0,535.8 L191.0,535.9 L192.0,535.9 L193.0,536.0 L194.0,536.0 L195.0,536.1 L196.0,536.1 L197.0,536.2 L198.0,536.2 L199.0,536.3 L200.0,536.3 L201.0,536.4 L202.0,536.4 L203.0,536.4 L204.0,536.5 L205.0,536.5 L206.0,536.6 L207.0,536.6 L208.0,536.7 L209.0,536.7 L210.0,536.8 L211.0,536.8 L212.0,536.9 L213.0,536.9 L214.0,537.0 L215.0,537.0 L216.0,537.1 L217.0,537.1 L218.0,537.2 L219.0,537.2 L220.0,537.2 L221.0,537.3 L222.0,537.3 L223.0,537.4 L224.0,537.4 L225.0,537.5 L226.0,537.5 L227.0,537.6 L228.0,537.6 L229.0,537.6 L230.0,537.7 L231.0,537.7 L232.0,537.8 L233.0,537.8 L234.0,537.8 L235.0,537.9 L236.0,537.9 L237.0,538.0 L238.0,538.0 L239.0,538.0 L240.0,538.1 L241.0,538.1 L242.0,538.2 L243.0,538.2 L244.0,538.2 L245.0,538.3 L246.0,538.3 L247.0,538.4 L248.0,538.4 L249.0,538.4 L250.0,538.5 L251.0,538.5 L252.0,538.5 L253.0,538.6 L254.0,538.6 L255.0,538.6 L256.0,538.7 L257.0,538.7 L258.0,538.7 L259.0,538.8 L260.0,538.8 L261.0,538.9 L262.0,538.9 L263.0,538.9 L264.0,539.0 L265.0,539.0 L266.0,539.0 L267.0,539.1 L268.0,539.1 L269.0,539.1 L270.0,539.2 L271.0,539.2 L272.0,539.2 L273.0,539.3 L274.0,539.3 L275.0,539.3 L276.0,539.3 L277.0,539.4 L278.0,539.4 L279.0,539.4 L280.0,539.5 L281.0,539.5 L282.0,539.5 L283.0,539.6 L284.0,539.6 L285.0,539.6 L286.0,539.6 L287.0,539.7 L288.0,539.7 L289.0,539.7 L290.0,539.8 L291.0,539.8 L292.0,539.8 L293.0,539.8 L294.0,539.9 L295.0,539.9 L296.0,539.9 L297.0,539.9 L298.0,540.0 L299.0,540.0 L300.0,540.0 L301.0,540.0 L302.0,540.1 L303.0,540.1 L304.0,540.1 L305.0,540.1 L306.0,540.1 L307.0,540.2 L308.0,540.2 L309.0,540.2 L310.0,540.2 L311.0,540.3 L312.0,540.3 L313.0,540.3 L314.0,540.3 L315.0,540.4 L316.0,540.4 L317.0,540.4 L318.0,540.4 L319.0,540.4 L320.0,540.5 L321.0,540.5 L322.0,540.5 L323.0,540.5 L324.0,540.5 L325.0,540.6 L326.0,540.6 L327.0,540.6 L328.0,540.6 L329.0,540.6 L330.0,540.7 L331.0,540.7 L332.0,540.7 L333.0,540.7 L334.0,540.7 L335.0,540.8 L336.0,540.8 L337.0,540.8 L338.0,540.8 L339.0,540.8 L340.0,540.8 L341.0,540.9 L342.0,540.9 L343.0,540.9 L344.0,540.9 L345.0,540.9 L346.0,540.9 L347.0,541.0 L348.0,541.0 L349.0,541.0 L350.0,541.0" stroke="#0000ff" stroke-dasharray="2.0 3.15"/>
<path d="M132.0,391.8 L133.0,392.0 L134.0,392.2 L135.0,392.4 L136.0,392.7 L137.0,393.1 L138.0,393.4 L139.0,393.8 L140.0,394.2 L141.0,394.6 L142.0,395.1 L143.0,395.6 L144.0,396.1 L145.0,396.6 L146.0,397.1 L147.0,397.7 L148.0,398.3 L149.0,398.9 L150.0,399.5 L151.0,400.2 L152.0,400.8 L153.0,401.5 L154.0,402.2 L155.0,402.9 L156.0,403.6 L157.0,404.4 L158.0,405.1 L159.0,405.9 L160.0,406.6 L161.0,407.4 L162.0,408.2 L163.0,409.0 L164.0,409.8 L165.0,410.6 L166.0,411.4 L167.0,412.3 L168.0,413.1 L169.0,413.9 L170.0,414.8 L171.0,415.6 L172.0,416.5 L173.0,417.4 L174.0,418.2 L175.0,419.1 L176.0,420.0 L177.0,420.9 L178.0,421.8 L179.0,422.7 L180.0,423.6 L181.0,424.6 L182.0,425.5 L183.0,426.4 L184.0,427.4 L185.0,428.4 L186.0,429.3 L187.0,430.3 L188.0,431.3 L189.0,432.2 L190.0,433.2 L191.0,434.2 L192.0,435.2 L193.0,436.2 L194.0,437.2 L195.0,438.2 L196.0,439.3 L197.0,440.3 L198.0,441.3 L199.0,442.3 L200.0,443.4 L201.0,444.4 L202.0,445.4 L203.0,446.5 L204.0,447.5 L205.0,448.6 L206.0,449.6 L207.0,450.6 L208.0,451.7 L209.0,452.7 L210.0,453.8 L211.0,454.8 L212.0,455.9 L213.0,456.9 L214.0,458.0 L215.0,459.0 L216.0,460.1 L217.0,461.1 L218.0,462.2 L219.0,463.2 L220.0,464.3 L221.0,465.3 L222.0,466.3 L223.0,467.4 L224.0,468.4 L225.0,469.4 L226.0,470.5 L227.0,471.5 L228.0,472.5 L229.0,473.5 L230.0,474.5 L231.0,475.5 L232.0,476.5 L233.0,477.5 L234.0,478.5 L235.0,479.5 L236.0,480.5 L237.0,481.4 L238.0,482.4 L239.0,483.4 L240.0,484.3 L241.0,485.3 L242.0,486.2 L243.0,487.2 L244.0,488.1 L245.0,489.1 L246.0,490.0 L247.0,490.9 L248.0,491.9 L249.0,492.8 L250.0,493.7 L251.0,494.6 L252.0,495.5 L253.0,496.4 L254.0,497.3 L255.0,498.2 L256.0,499.1 L257.0,500.0 L258.0,500.9 L259.0,501.7 L260.0,502.6 L261.0,503.5 L262.0,504.3 L263.0,505.2 L264.0,506.1 L265.0,506.9 L266.0,507.8 L267.0,508.6 L268.0,509.4 L269.0,510.3 L270.0,511.1 L271.0,511.9 L272.0,512.8 L273.0,513.6 L274.0,514.4 L275.0,515.2 L276.0,516.0 L277.0,516.9 L278.0,517.7 L279.0,518.5 L280.0,519.3 L281.0,520.0 L282.0,520.8 L283.0,521.6 L284.0,522.4 L285.0,523.2 L286.0,524.0 L287.0,524.7 L288.0,525.5 L289.0,526.3 L290.0,527.1 L291.0,527.8 L292.0,528.6 L293.0,529.3 L294.0,530.1 L295.0,530.8 L296.0,531.6 L297.0,532.3 L298.0,533.1 L299.0,533.8 L300.0,534.5 L301.0,535.3 L302.0,536.0 L303.0,536.7 L304.0,537.5 L305.0,538.2 L306.0,538.9 L307.0,539.6 L308.0,540.3 L309.0,541.0 L310.0,541.8 L311.0,542.5 L312.0,543.2 L313.0,543.9 L314.0,544.6 L315.0,545.3 L316.0,546.0 L317.0,546.7 L318.0,547.4 L319.0,548.0 L320.0,548.7 L321.0,549.4 L322.0,550.1 L323.0,550.8 L324.0,551.5 L325.0,552.1 L326.0,552.8 L327.0,553.5 L328.0,554.2 L329.0,554.8 L330.0,555.5 L330.8,556.0" stroke="#000000"/>
<path d="M132.0,391.7 L133.0,392.0 L134.0,392.2 L135.0,392.5 L136.0,392.8 L137.0,393.2 L138.0,393.5 L139.0,393.9 L140.0,394.3 L141.0,394.7 L142.0,395.1 L143.0,395.6 L144.0,396.1 L145.0,396.6 L146.0,397.1 L147.0,397.6 L148.0,398.2 L149.0,398.7 L150.0,399.3 L151.0,399.9 L152.0,400.5 L153.0,401.1 L154.0,401.8 L155.0,402.4 L156.0,403.1 L157.0,403.8 L158.0,404.5 L159.0,405.2 L160.0,405.9 L161.0,406.7 L162.0,407.4 L163.0,408.2 L164.0,408.9 L165.0,409.7 L166.0,410.5 L167.0,411.3 L168.0,412.1 L169.0,412.9 L170.0,413.7 L171.0,414.6 L172.0,415.4 L173.0,416.2 L174.0,417.1 L175.0,417.9 L176.0,418.8 L177.0,419.7 L178.0,420.5 L179.0,421.4 L180.0,422.3 L181.0,423.1 L182.0,424.0 L183.0,424.9 L184.0,425.8 L185.0,426.7 L186.0,427.5 L187.0,428.4 L188.0,429.3 L189.0,430.2 L190.0,431.1 L191.0,432.0 L192.0,432.9 L193.0,433.7 L194.0,434.6 L195.0,435.5 L196.0,436.4 L197.0,437.3 L198.0,438.2 L199.0,439.1 L200.0,439.9 L201.0,440.8 L202.0,441.7 L203.0,442.6 L204.0,443.4 L205.0,444.3 L206.0,445.2 L207.0,446.1 L208.0,446.9 L209.0,447.8 L210.0,448.7 L211.0,449.5 L212.0,450.4 L213.0,451.2 L214.0,452.1 L215.0,452.9 L216.0,453.8 L217.0,454.6 L218.0,455.5 L219.0,456.3 L220.0,457.1 L221.0,458.0 L222.0,458.8 L223.0,459.6 L224.0,460.4 L225.0,461.2 L226.0,462.0 L227.0,462.8 L228.0,463.6 L229.0,464.4 L230.0,465.2 L231.0,465.9 L232.0,466.7 L233.0,467.5 L234.0,468.2 L235.0,469.0 L236.0,469.7 L237.0,470.5 L238.0,471.2 L239.0,471.9 L240.0,472.6 L241.0,473.4 L242.0,474.1 L243.0,474.8 L244.0,475.5 L245.0,476.2 L246.0,476.8 L247.0,477.5 L248.0,478.2 L249.0,478.9 L250.0,479.5 L251.0,480.2 L252.0,480.8 L253.0,481.5 L254.0,482.1 L255.0,482.8 L256.0,483.4 L257.0,484.0 L258.0,484.6 L259.0,485.3 L260.0,485.9 L261.0,486.5 L262.0,487.1 L263.0,487.7 L264.0,488.3 L265.0,488.9 L266.0,489.4 L267.0,490.0 L268.0,490.6 L269.0,491.2 L270.0,491.7 L271.0,492.3 L272.0,492.9 L273.0,493.4 L274.0,494.0 L275.0,494.5 L276.0,495.0 L277.0,495.6 L278.0,496.1 L279.0,496.6 L280.0,497.2 L281.0,497.7 L282.0,498.2 L283.0,498.7 L284.0,499.2 L285.0,499.7 L286.0,500.2 L287.0,500.7 L288.0,501.2 L289.0,501.7 L290.0,502.2 L291.0,502.7 L292.0,503.2 L293.0,503.6 L294.0,504.1 L295.0,504.6 L296.0,505.0 L297.0,505.5 L298.0,506.0 L299.0,506.4 L300.0,506.9 L301.0,507.3 L302.0,507.8 L303.0,508.2 L304.0,508.7 L305.0,509.1 L306.0,509.5 L307.0,510.0 L308.0,510.4 L309.0,510.8 L310.0,511.3 L311.0,511.7 L312.0,512.1 L313.0,512.5 L314.0,512.9 L315.0,513.4 L316.0,513.8 L317.0,514.2 L318.0,514.6 L319.0,515.0 L320.0,515.4 L321.0,515.8 L322.0,516.2 L323.0,516.6 L324.0,517.0 L325.0,517.4 L326.0,517.8 L327.0,518.2 L328.0,518.6 L329.0,519.0 L330.0,519.3 L331.0,519.7 L332.0,520.1 L333.0,520.5 L334.0,520.9 L335.0,521.2 L336.0,521.6 L337.0,522.0 L338.0,522.4 L339.0,522.8 L340.0,523.1 L341.0,523.5 L342.0,523.9 L343.0,524.2 L344.0,524.6 L345.0,525.0 L345.8,525.3" stroke="#000000" stroke-dasharray="2.0 3.15"/>
<path d="M132.0,403.1 L133.0,403.9 L134.0,404.6 L135.0,405.1 L136.0,405.5 L137.0,405.8 L138.0,406.1 L139.0,406.5 L140.0,406.8 L141.0,407.2 L142.0,407.7 L143.0,408.2 L144.0,408.7 L145.0,409.3 L146.0,409.9 L147.0,410.5 L148.0,411.1 L149.0,411.7 L150.0,412.3 L151.0,413.0 L152.0,413.6 L153.0,414.3 L154.0,415.0 L155.0,415.7 L156.0,416.3 L157.0,417.1 L158.0,417.8 L159.0,418.5 L160.0,419.2 L161.0,420.0 L162.0,420.7 L163.0,421.5 L164.0,422.2 L165.0,423.0 L166.0,423.8 L167.0,424.6 L168.0,425.3 L169.0,426.1 L170.0,426.9 L171.0,427.7 L172.0,428.5 L173.0,429.4 L174.0,430.2 L175.0,431.0 L176.0,431.8 L177.0,432.6 L178.0,433.4 L179.0,434.2 L180.0,435.1 L181.0,435.9 L182.0,436.7 L183.0,437.5 L184.0,438.3 L185.0,439.2 L186.0,440.0 L187.0,440.8 L188.0,441.6 L189.0,442.4 L190.0,443.3 L191.0,444.1 L192.0,444.9 L193.0,445.7 L194.0,446.6 L195.0,447.4 L196.0,448.2 L197.0,449.0 L198.0,449.8 L199.0,450.6 L200.0,451.5 L201.0,452.3 L202.0,453.1 L203.0,453.9 L204.0,454.7 L205.0,455.5 L206.0,456.3 L207.0,457.1 L208.0,457.9 L209.0,458.7 L210.0,459.5 L211.0,460.3 L212.0,461.1 L213.0,461.9 L214.0,462.7 L215.0,463.5 L216.0,464.3 L217.0,465.1 L218.0,465.9 L219.0,466.6 L220.0,467.4 L221.0,468.2 L222.0,469.0 L223.0,469.7 L224.0,470.5 L225.0,471.3 L226.0,472.0 L227.0,472.8 L228.0,473.6 L229.0,474.3 L230.0,475.1 L231.0,475.8 L232.0,476.6 L233.0,477.3 L234.0,478.0 L235.0,478.8 L236.0,479.5 L237.0,480.2 L238.0,480.9 L239.0,481.6 L240.0,482.4 L241.0,483.1 L242.0,483.8 L243.0,484.5 L244.0,485.2 L245.0,485.9 L246.0,486.6 L247.0,487.2 L248.0,487.9 L249.0,488.6 L250.0,489.3 L251.0,489.9 L252.0,490.6 L253.0,491.3 L254.0,491.9 L255.0,492.6 L256.0,493.3 L257.0,493.9 L258.0,494.6 L259.0,495.2 L260.0,495.8 L261.0,496.5 L262.0,497.1 L263.0,497.7 L264.0,498.4 L265.0,499.0 L266.0,499.6 L267.0,500.2 L268.0,500.8 L269.0,501.5 L270.0,502.1 L271.0,502.7 L272.0,503.3 L273.0,503.9 L274.0,504.5 L275.0,505.1 L276.0,505.7 L277.0,506.2 L278.0,506.8 L279.0,507.4 L280.0,508.0 L281.0,508.6 L282.0,509.1 L283.0,509.7 L284.0,510.3 L285.0,510.8 L286.0,511.4 L287.0,511.9 L288.0,512.5 L289.0,513.1 L290.0,513.6 L291.0,514.2 L292.0,514.7 L293.0,515.2 L294.0,515.8 L295.0,516.3 L296.0,516.8 L297.0,517.4 L298.0,517.9 L299.0,518.4 L300.0,519.0 L301.0,519.5 L302.0,520.0 L303.0,520.5 L304.0,521.0 L305.0,521.5 L306.0,522.1 L307.0,522.6 L308.0,523.1 L309.0,523.6 L310.0,524.1 L311.0,524.6 L312.0,525.1 L313.0,525.6 L314.0,526.1 L315.0,526.5 L316.0,527.0 L317.0,527.5 L318.0,528.0 L319.0,528.5 L320.0,529.0 L321.0,529.4 L322.0,529.9 L323.0,530.4 L324.0,530.9 L325.0,531.3 L326.0,531.8 L327.0,532.3 L328.0,532.7 L329.0,533.2 L330.0,533.7 L331.0,534.1 L332.0,534.6 L333.0,535.0 L334.0,535.5 L335.0,535.9 L336.0,536.4 L337.0,536.8 L338.0,537.3 L339.0,537.7 L340.0,538.2 L341.0,538.6 L342.0,539.0 L343.0,539.5 L344.0,539.9 L345.0,540.4 L346.0,540.8 L347.0,541.2 L348.0,541.7 L348.2,541.7" stroke="#008000" stroke-dasharray="15.5 3.1"/>
<path d="M132.0,403.1 L133.0,403.6 L134.0,404.0 L135.0,404.5 L136.0,405.0 L137.0,405.5 L138.0,406.0 L139.0,406.6 L140.0,407.1 L141.0,407.6 L142.0,408.2 L143.0,408.8 L144.0,409.3 L145.0,409.9 L146.0,410.5 L147.0,411.1 L148.0,411.7 L149.0,412.3 L150.0,412.9 L151.0,413.6 L152.0,414.2 L153.0,414.9 L154.0,415.5 L155.0,416.2 L156.0,416.8 L157.0,417.5 L158.0,418.2 L159.0,418.9 L160.0,419.5 L161.0,420.2 L162.0,420.9 L163.0,421.6 L164.0,422.3 L165.0,423.0 L166.0,423.8 L167.0,424.5 L168.0,425.2 L169.0,425.9 L170.0,426.6 L171.0,427.4 L172.0,428.1 L173.0,428.8 L174.0,429.6 L175.0,430.3 L176.0,431.1 L177.0,431.8 L178.0,432.6 L179.0,433.3 L180.0,434.0 L181.0,434.8 L182.0,435.5 L183.0,436.3 L184.0,437.0 L185.0,437.8 L186.0,438.5 L187.0,439.3 L188.0,440.0 L189.0,440.8 L190.0,441.5 L191.0,442.3 L192.0,443.0 L193.0,443.8 L194.0,444.5 L195.0,445.2 L196.0,446.0 L197.0,446.7 L198.0,447.4 L199.0,448.1 L200.0,448.9 L201.0,449.6 L202.0,450.3 L203.0,451.0 L204.0,451.7 L205.0,452.4 L206.0,453.1 L207.0,453.8 L208.0,454.5 L209.0,455.2 L210.0,455.9 L211.0,456.6 L212.0,457.3 L213.0,458.0 L214.0,458.6 L215.0,459.3 L216.0,460.0 L217.0,460.6 L218.0,461.3 L219.0,461.9 L220.0,462.6 L221.0,463.2 L222.0,463.9 L223.0,464.5 L224.0,465.1 L225.0,465.7 L226.0,466.4 L227.0,467.0 L228.0,467.6 L229.0,468.2 L230.0,468.8 L231.0,469.4 L232.0,470.0 L233.0,470.6 L234.0,471.1 L235.0,471.7 L236.0,472.3 L237.0,472.8 L238.0,473.4 L239.0,473.9 L240.0,474.5 L241.0,475.0 L242.0,475.5 L243.0,476.1 L244.0,476.6 L245.0,477.1 L246.0,477.6 L247.0,478.1 L248.0,478.6 L249.0,479.1 L250.0,479.6 L251.0,480.1 L252.0,480.6 L253.0,481.1 L254.0,481.5 L255.0,482.0 L256.0,482.5 L257.0,482.9 L258.0,483.4 L259.0,483.8 L260.0,484.3 L261.0,484.7 L262.0,485.2 L263.0,485.6 L264.0,486.0 L265.0,486.5 L266.0,486.9 L267.0,487.3 L268.0,487.7 L269.0,488.1 L270.0,488.5 L271.0,488.9 L272.0,489.3 L273.0,489.7 L274.0,490.1 L275.0,490.5 L276.0,490.9 L277.0,491.3 L278.0,491.6 L279.0,492.0 L280.0,492.4 L281.0,492.7 L282.0,493.1 L283.0,493.5 L284.0,493.8 L285.0,494.2 L286.0,494.5 L287.0,494.9 L288.0,495.2 L289.0,495.5 L290.0,495.9 L291.0,496.2 L292.0,496.5 L293.0,496.9 L294.0,497.2 L295.0,497.5 L296.0,497.8 L297.0,498.2 L298.0,498.5 L299.0,498.8 L300.0,499.1 L301.0,499.4 L302.0,499.7 L303.0,500.0 L304.0,500.3 L305.0,500.6 L306.0,500.9 L307.0,501.2 L308.0,501.5 L309.0,501.8 L310.0,502.1 L311.0,502.3 L312.0,502.6 L313.0,502.9 L314.0,503.2 L315.0,503.5 L316.0,503.7 L317.0,504.0 L318.0,504.3 L319.0,504.6 L320.0,504.8 L321.0,505.1 L322.0,505.4 L323.0,505.6 L324.0,505.9 L325.0,506.2 L326.0,506.4 L327.0,506.7 L328.0,506.9 L329.0,507.2 L330.0,507.5 L331.0,507.7 L332.0,508.0 L333.0,508.2 L334.0,508.5 L335.0,508.7 L336.0,509.0 L337.0,509.2 L338.0,509.5 L339.0,509.7 L340.0,510.0 L341.0,510.2 L342.0,510.5 L343.0,510.7 L344.0,511.0 L345.0,511.2 L346.0,511.5 L347.0,511.7 L348.0,512.0 L349.0,512.2 L350.0,512.5 L350.7,512.6" stroke="#008000" stroke-dasharray="2.0 3.15"/>
<path d="M132.0,384.9 L133.0,385.4 L134.0,385.9 L135.0,386.4 L136.0,386.9 L137.0,387.5 L138.0,388.0 L139.0,388.6 L140.0,389.3 L141.0,389.9 L142.0,390.6 L143.0,391.2 L144.0,392.0 L145.0,392.7 L146.0,393.4 L147.0,394.2 L148.0,395.0 L149.0,395.8 L150.0,396.6 L151.0,397.5 L152.0,398.4 L153.0,399.2 L154.0,400.1 L155.0,401.1 L156.0,402.0 L157.0,403.0 L158.0,403.9 L159.0,404.9 L160.0,405.9 L161.0,406.9 L162.0,407.9 L163.0,408.9 L164.0,409.9 L165.0,411.0 L166.0,412.0 L167.0,413.1 L168.0,414.1 L169.0,415.2 L170.0,416.3 L171.0,417.3 L172.0,418.4 L173.0,419.5 L174.0,420.6 L175.0,421.7 L176.0,422.8 L177.0,423.9 L178.0,425.0 L179.0,426.1 L180.0,427.2 L181.0,428.3 L182.0,429.4 L183.0,430.6 L184.0,431.7 L185.0,432.8 L186.0,433.9 L187.0,435.0 L188.0,436.1 L189.0,437.2 L190.0,438.3 L191.0,439.4 L192.0,440.5 L193.0,441.6 L194.0,442.6 L195.0,443.7 L196.0,444.8 L197.0,445.9 L198.0,447.0 L199.0,448.0 L200.0,449.1 L201.0,450.2 L202.0,451.3 L203.0,452.3 L204.0,453.4 L205.0,454.4 L206.0,455.5 L207.0,456.6 L208.0,457.6 L209.0,458.7 L210.0,459.7 L211.0,460.7 L212.0,461.8 L213.0,462.8 L214.0,463.8 L215.0,464.9 L216.0,465.9 L217.0,466.9 L218.0,467.9 L219.0,469.0 L220.0,470.0 L221.0,471.0 L222.0,472.0 L223.0,473.0 L224.0,474.0 L225.0,475.0 L226.0,476.0 L227.0,476.9 L228.0,477.9 L229.0,478.9 L230.0,479.9 L231.0,480.8 L232.0,481.8 L233.0,482.8 L234.0,483.7 L235.0,484.7 L236.0,485.6 L237.0,486.6 L238.0,487.5 L239.0,488.4 L240.0,489.4 L241.0,490.3 L242.0,491.2 L243.0,492.1 L244.0,493.1 L245.0,494.0 L246.0,494.9 L247.0,495.8 L248.0,496.7 L249.0,497.6 L250.0,498.4 L251.0,499.3 L252.0,500.2 L253.0,501.1 L254.0,501.9 L255.0,502.8 L256.0,503.7 L257.0,504.5 L258.0,505.4 L259.0,506.2 L260.0,507.1 L261.0,507.9 L262.0,508.8 L263.0,509.6 L264.0,510.4 L265.0,511.2 L266.0,512.1 L267.0,512.9 L268.0,513.7 L269.0,514.5 L270.0,515.3 L271.0,516.1 L272.0,516.9 L273.0,517.7 L274.0,518.5 L275.0,519.3 L276.0,520.0 L277.0,520.8 L278.0,521.6 L279.0,522.4 L280.0,523.1 L281.0,523.9 L282.0,524.7 L283.0,525.4 L284.0,526.2 L285.0,526.9 L286.0,527.7 L287.0,528.4 L288.0,529.1 L289.0,529.9 L290.0,530.6 L291.0,531.3 L292.0,532.0 L293.0,532.8 L294.0,533.5 L295.0,534.2 L296.0,534.9 L297.0,535.6 L298.0,536.3 L299.0,537.0 L300.0,537.7 L301.0,538.4 L302.0,539.1 L303.0,539.8 L304.0,540.5 L305.0,541.1 L306.0,541.8 L307.0,542.5 L308.0,543.2 L309.0,543.8 L310.0,544.5 L311.0,545.2 L312.0,545.8 L313.0,546.5 L314.0,547.1 L315.0,547.8 L316.0,548.4 L317.0,549.1 L318.0,549.7 L319.0,550.3 L320.0,551.0 L321.0,551.6 L322.0,552.2 L323.0,552.9 L324.0,553.5 L325.0,554.1 L326.0,554.7 L327.0,555.3 L327.7,555.8" stroke="#ff0000" stroke-dasharray="15.2 3.1 3.3 15.0"/>
<path d="M132.0,384.9 L133.0,385.4 L134.0,385.9 L135.0,386.4 L136.0,386.9 L137.0,387.5 L138.0,388.1 L139.0,388.8 L140.0,389.4 L141.0,390.1 L142.0,390.7 L143.0,391.4 L144.0,392.2 L145.0,392.9 L146.0,393.7 L147.0,394.4 L148.0,395.2 L149.0,396.0 L150.0,396.9 L151.0,397.7 L152.0,398.6 L153.0,399.4 L154.0,400.3 L155.0,401.2 L156.0,402.1 L157.0,403.0 L158.0,403.9 L159.0,404.9 L160.0,405.8 L161.0,406.8 L162.0,407.8 L163.0,408.7 L164.0,409.7 L165.0,410.7 L166.0,411.7 L167.0,412.7 L168.0,413.7 L169.0,414.7 L170.0,415.7 L171.0,416.8 L172.0,417.8 L173.0,418.8 L174.0,419.8 L175.0,420.9 L176.0,421.9 L177.0,422.9 L178.0,424.0 L179.0,425.0 L180.0,426.0 L181.0,427.0 L182.0,428.1 L183.0,429.1 L184.0,430.1 L185.0,431.1 L186.0,432.1 L187.0,433.1 L188.0,434.1 L189.0,435.1 L190.0,436.1 L191.0,437.1 L192.0,438.1 L193.0,439.1 L194.0,440.0 L195.0,441.0 L196.0,442.0 L197.0,442.9 L198.0,443.9 L199.0,444.8 L200.0,445.8 L201.0,446.7 L202.0,447.6 L203.0,448.6 L204.0,449.5 L205.0,450.4 L206.0,451.3 L207.0,452.2 L208.0,453.1 L209.0,454.0 L210.0,454.9 L211.0,455.8 L212.0,456.6 L213.0,457.5 L214.0,458.4 L215.0,459.2 L216.0,460.1 L217.0,460.9 L218.0,461.7 L219.0,462.6 L220.0,463.4 L221.0,464.2 L222.0,465.0 L223.0,465.8 L224.0,466.6 L225.0,467.4 L226.0,468.2 L227.0,469.0 L228.0,469.8 L229.0,470.5 L230.0,471.3 L231.0,472.1 L232.0,472.8 L233.0,473.6 L234.0,474.3 L235.0,475.0 L236.0,475.7 L237.0,476.5 L238.0,477.2 L239.0,477.9 L240.0,478.6 L241.0,479.3 L242.0,480.0 L243.0,480.6 L244.0,481.3 L245.0,482.0 L246.0,482.7 L247.0,483.3 L248.0,484.0 L249.0,484.6 L250.0,485.3 L251.0,485.9 L252.0,486.5 L253.0,487.2 L254.0,487.8 L255.0,488.4 L256.0,489.0 L257.0,489.6 L258.0,490.2 L259.0,490.8 L260.0,491.4 L261.0,492.0 L262.0,492.6 L263.0,493.1 L264.0,493.7 L265.0,494.3 L266.0,494.8 L267.0,495.4 L268.0,496.0 L269.0,496.5 L270.0,497.0 L271.0,497.6 L272.0,498.1 L273.0,498.6 L274.0,499.2 L275.0,499.7 L276.0,500.2 L277.0,500.7 L278.0,501.2 L279.0,501.7 L280.0,502.2 L281.0,502.7 L282.0,503.2 L283.0,503.7 L284.0,504.2 L285.0,504.7 L286.0,505.1 L287.0,505.6 L288.0,506.1 L289.0,506.5 L290.0,507.0 L291.0,507.4 L292.0,507.9 L293.0,508.3 L294.0,508.8 L295.0,509.2 L296.0,509.7 L297.0,510.1 L298.0,510.5 L299.0,511.0 L300.0,511.4 L301.0,511.8 L302.0,512.2 L303.0,512.6 L304.0,513.0 L305.0,513.4 L306.0,513.9 L307.0,514.3 L308.0,514.7 L309.0,515.0 L310.0,515.4 L311.0,515.8 L312.0,516.2 L313.0,516.6 L314.0,517.0 L315.0,517.4 L316.0,517.7 L317.0,518.1 L318.0,518.5 L319.0,518.9 L320.0,519.2 L321.0,519.6 L322.0,519.9 L323.0,520.3 L324.0,520.7 L325.0,521.0 L326.0,521.4 L327.0,521.7 L328.0,522.1 L329.0,522.4 L330.0,522.8 L331.0,523.1 L332.0,523.4 L333.0,523.8 L334.0,524.1 L335.0,524.5 L336.0,524.8 L337.0,525.1 L338.0,525.4 L339.0,525.8 L340.0,526.1 L341.0,526.4 L342.0,526.7 L343.0,527.1 L344.0,527.4 L345.0,527.7 L346.0,528.0 L347.0,528.3 L348.0,528.7 L349.0,529.0 L350.0,529.3 L350.7,529.5" stroke="#ff0000" stroke-dasharray="2.0 3.15"/>
</g>
<path d="M132.2,553.9v-6.2M132.2,356.2v6.2M150.3,553.9v-3.1M150.3,356.2v3.1M168.5,553.9v-6.2M168.5,356.2v6.2M186.6,553.9v-3.1M186.6,356.2v3.1M204.8,553.9v-6.2M204.8,356.2v6.2M222.9,553.9v-3.1M222.9,356.2v3.1M241.1,553.9v-6.2M241.1,356.2v6.2M259.2,553.9v-3.1M259.2,356.2v3.1M277.4,553.9v-6.2M277.4,356.2v6.2M295.5,553.9v-3.1M295.5,356.2v3.1M313.7,553.9v-6.2M313.7,356.2v6.2M331.8,553.9v-3.1M331.8,356.2v3.1M349.9,553.9v-6.2M349.9,356.2v6.2M132.2,553.9h6.2M349.9,553.9h-6.2M132.2,531.9h3.1M349.9,531.9h-3.1M132.2,510.0h6.2M349.9,510.0h-6.2M132.2,488.0h3.1M349.9,488.0h-3.1M132.2,466.0h6.2M349.9,466.0h-6.2M132.2,444.1h3.1M349.9,444.1h-3.1M132.2,422.1h6.2M349.9,422.1h-6.2M132.2,400.1h3.1M349.9,400.1h-3.1M132.2,378.2h6.2M349.9,378.2h-6.2M132.2,356.2h3.1M349.9,356.2h-3.1" stroke="#000" stroke-width="1.8" fill="none"/>
<rect x="132.2" y="356.2" width="217.8" height="197.7" fill="none" stroke="#000" stroke-width="1.9"/>
<text x="122.0" y="559.1" font-size="17" text-anchor="end" textLength="34.4" lengthAdjust="spacingAndGlyphs">3000</text>
<text x="122.0" y="515.2" font-size="17" text-anchor="end" textLength="34.4" lengthAdjust="spacingAndGlyphs">3200</text>
<text x="122.0" y="471.2" font-size="17" text-anchor="end" textLength="34.4" lengthAdjust="spacingAndGlyphs">3400</text>
<text x="122.0" y="427.3" font-size="17" text-anchor="end" textLength="34.4" lengthAdjust="spacingAndGlyphs">3600</text>
<text x="122.0" y="383.4" font-size="17" text-anchor="end" textLength="34.4" lengthAdjust="spacingAndGlyphs">3800</text>
<text x="132.2" y="575.2" font-size="17" text-anchor="middle" textLength="9.3" lengthAdjust="spacingAndGlyphs">0</text>
<text x="168.5" y="575.2" font-size="17" text-anchor="middle" textLength="9.3" lengthAdjust="spacingAndGlyphs">1</text>
<text x="204.8" y="575.2" font-size="17" text-anchor="middle" textLength="9.3" lengthAdjust="spacingAndGlyphs">2</text>
<text x="241.1" y="575.2" font-size="17" text-anchor="middle" textLength="9.3" lengthAdjust="spacingAndGlyphs">3</text>
<text x="277.4" y="575.2" font-size="17" text-anchor="middle" textLength="9.3" lengthAdjust="spacingAndGlyphs">4</text>
<text x="313.7" y="575.2" font-size="17" text-anchor="middle" textLength="9.3" lengthAdjust="spacingAndGlyphs">5</text>
<text x="349.9" y="575.2" font-size="17" text-anchor="middle" textLength="9.3" lengthAdjust="spacingAndGlyphs">6</text>
<rect x="206.2" y="390.4" width="134.0" height="37.3" fill="#fff" stroke="#000" stroke-width="2.2"/>
<text x="218.6" y="415.8" font-size="20" textLength="107.6" lengthAdjust="spacingAndGlyphs" xml:space="preserve">T=100 MeV</text>
<text x="142.8" y="380.1" font-size="20" textLength="23.6" lengthAdjust="spacingAndGlyphs">(c)</text>
</g>
<g id="panel-d">
<clipPath id="clipd"><rect x="480.5" y="356.2" width="217.4" height="197.7"/></clipPath>
<g clip-path="url(#clipd)" fill="none" stroke-width="2.1">
<path d="M480.5,532.5 L481.5,532.6 L482.5,532.6 L483.5,532.7 L484.5,532.7 L485.5,532.8 L486.5,532.9 L487.5,532.9 L488.5,533.0 L489.5,533.1 L490.5,533.1 L491.5,533.2 L492.5,533.2 L493.5,533.3 L494.5,533.4 L495.5,533.4 L496.5,533.5 L497.5,533.5 L498.5,533.6 L499.5,533.6 L500.5,533.7 L501.5,533.8 L502.5,533.8 L503.5,533.9 L504.5,533.9 L505.5,534.0 L506.5,534.1 L507.5,534.1 L508.5,534.2 L509.5,534.2 L510.5,534.3 L511.5,534.3 L512.5,534.4 L513.5,534.5 L514.5,534.5 L515.5,534.6 L516.5,534.6 L517.5,534.7 L518.5,534.7 L519.5,534.8 L520.5,534.9 L521.5,534.9 L522.5,535.0 L523.5,535.0 L524.5,535.1 L525.5,535.1 L526.5,535.2 L527.5,535.2 L528.5,535.3 L529.5,535.4 L530.5,535.4 L531.5,535.5 L532.5,535.5 L533.5,535.6 L534.5,535.6 L535.5,535.7 L536.5,535.7 L537.5,535.8 L538.5,535.8 L539.5,535.9 L540.5,535.9 L541.5,536.0 L542.5,536.1 L543.5,536.1 L544.5,536.2 L545.5,536.2 L546.5,536.3 L547.5,536.3 L548.5,536.4 L549.5,536.4 L550.5,536.5 L551.5,536.5 L552.5,536.6 L553.5,536.6 L554.5,536.7 L555.5,536.7 L556.5,536.8 L557.5,536.8 L558.5,536.9 L559.5,536.9 L560.5,537.0 L561.5,537.0 L562.5,537.1 L563.5,537.1 L564.5,537.2 L565.5,537.2 L566.5,537.3 L567.5,537.3 L568.5,537.4 L569.5,537.4 L570.5,537.5 L571.5,537.5 L572.5,537.6 L573.5,537.6 L574.5,537.7 L575.5,537.7 L576.5,537.8 L577.5,537.8 L578.5,537.9 L579.5,537.9 L580.5,538.0 L581.5,538.0 L582.5,538.0 L583.5,538.1 L584.5,538.1 L585.5,538.2 L586.5,538.2 L587.5,538.3 L588.5,538.3 L589.5,538.4 L590.5,538.4 L591.5,538.5 L592.5,538.5 L593.5,538.6 L594.5,538.6 L595.5,538.6 L596.5,538.7 L597.5,538.7 L598.5,538.8 L599.5,538.8 L600.5,538.9 L601.5,538.9 L602.5,539.0 L603.5,539.0 L604.5,539.0 L605.5,539.1 L606.5,539.1 L607.5,539.2 L608.5,539.2 L609.5,539.3 L610.5,539.3 L611.5,539.3 L612.5,539.4 L613.5,539.4 L614.5,539.5 L615.5,539.5 L616.5,539.6 L617.5,539.6 L618.5,539.6 L619.5,539.7 L620.5,539.7 L621.5,539.8 L622.5,539.8 L623.5,539.8 L624.5,539.9 L625.5,539.9 L626.5,540.0 L627.5,540.0 L628.5,540.1 L629.5,540.1 L630.5,540.1 L631.5,540.2 L632.5,540.2 L633.5,540.2 L634.5,540.3 L635.5,540.3 L636.5,540.4 L637.5,540.4 L638.5,540.4 L639.5,540.5 L640.5,540.5 L641.5,540.6 L642.5,540.6 L643.5,540.6 L644.5,540.7 L645.5,540.7 L646.5,540.7 L647.5,540.8 L648.5,540.8 L649.5,540.9 L650.5,540.9 L651.5,540.9 L652.5,541.0 L653.5,541.0 L654.5,541.0 L655.5,541.1 L656.5,541.1 L657.5,541.1 L658.5,541.2 L659.5,541.2 L660.5,541.3 L661.5,541.3 L662.5,541.3 L663.5,541.4 L664.5,541.4 L665.5,541.4 L666.5,541.5 L667.5,541.5 L668.5,541.5 L669.5,541.6 L670.5,541.6 L671.5,541.6 L672.5,541.7 L673.5,541.7 L674.5,541.7 L675.5,541.8 L676.5,541.8 L677.5,541.8 L678.5,541.9 L679.5,541.9 L680.5,541.9 L681.5,542.0 L682.5,542.0 L683.5,542.0 L684.5,542.1 L685.5,542.1 L686.5,542.1 L687.5,542.2 L688.5,542.2 L689.5,542.2 L690.5,542.2 L691.5,542.3 L692.5,542.3 L693.5,542.3 L694.5,542.4 L695.5,542.4 L696.5,542.4 L697.5,542.5 L698.5,542.5 L699.0,542.5" stroke="#0000ff" stroke-dasharray="7 1.75"/>
<path d="M480.5,532.5 L481.5,532.6 L482.5,532.6 L483.5,532.7 L484.5,532.7 L485.5,532.8 L486.5,532.9 L487.5,532.9 L488.5,533.0 L489.5,533.1 L490.5,533.1 L491.5,533.2 L492.5,533.2 L493.5,533.3 L494.5,533.4 L495.5,533.4 L496.5,533.5 L497.5,533.5 L498.5,533.6 L499.5,533.7 L500.5,533.7 L501.5,533.8 L502.5,533.8 L503.5,533.9 L504.5,533.9 L505.5,534.0 L506.5,534.1 L507.5,534.1 L508.5,534.2 L509.5,534.2 L510.5,534.3 L511.5,534.3 L512.5,534.4 L513.5,534.5 L514.5,534.5 L515.5,534.6 L516.5,534.6 L517.5,534.7 L518.5,534.7 L519.5,534.8 L520.5,534.8 L521.5,534.9 L522.5,534.9 L523.5,535.0 L524.5,535.1 L525.5,535.1 L526.5,535.2 L527.5,535.2 L528.5,535.3 L529.5,535.3 L530.5,535.4 L531.5,535.4 L532.5,535.5 L533.5,535.5 L534.5,535.6 L535.5,535.6 L536.5,535.7 L537.5,535.7 L538.5,535.8 L539.5,535.8 L540.5,535.9 L541.5,535.9 L542.5,536.0 L543.5,536.0 L544.5,536.1 L545.5,536.1 L546.5,536.2 L547.5,536.2 L548.5,536.3 L549.5,536.3 L550.5,536.4 L551.5,536.4 L552.5,536.5 L553.5,536.5 L554.5,536.6 L555.5,536.6 L556.5,536.7 L557.5,536.7 L558.5,536.8 L559.5,536.8 L560.5,536.9 L561.5,536.9 L562.5,536.9 L563.5,537.0 L564.5,537.0 L565.5,537.1 L566.5,537.1 L567.5,537.2 L568.5,537.2 L569.5,537.3 L570.5,537.3 L571.5,537.4 L572.5,537.4 L573.5,537.4 L574.5,537.5 L575.5,537.5 L576.5,537.6 L577.5,537.6 L578.5,537.7 L579.5,537.7 L580.5,537.7 L581.5,537.8 L582.5,537.8 L583.5,537.9 L584.5,537.9 L585.5,537.9 L586.5,538.0 L587.5,538.0 L588.5,538.1 L589.5,538.1 L590.5,538.1 L591.5,538.2 L592.5,538.2 L593.5,538.3 L594.5,538.3 L595.5,538.3 L596.5,538.4 L597.5,538.4 L598.5,538.4 L599.5,538.5 L600.5,538.5 L601.5,538.6 L602.5,538.6 L603.5,538.6 L604.5,538.7 L605.5,538.7 L606.5,538.7 L607.5,538.8 L608.5,538.8 L609.5,538.8 L610.5,538.9 L611.5,538.9 L612.5,538.9 L613.5,539.0 L614.5,539.0 L615.5,539.0 L616.5,539.1 L617.5,539.1 L618.5,539.1 L619.5,539.2 L620.5,539.2 L621.5,539.2 L622.5,539.3 L623.5,539.3 L624.5,539.3 L625.5,539.4 L626.5,539.4 L627.5,539.4 L628.5,539.5 L629.5,539.5 L630.5,539.5 L631.5,539.5 L632.5,539.6 L633.5,539.6 L634.5,539.6 L635.5,539.7 L636.5,539.7 L637.5,539.7 L638.5,539.7 L639.5,539.8 L640.5,539.8 L641.5,539.8 L642.5,539.8 L643.5,539.9 L644.5,539.9 L645.5,539.9 L646.5,539.9 L647.5,540.0 L648.5,540.0 L649.5,540.0 L650.5,540.0 L651.5,540.1 L652.5,540.1 L653.5,540.1 L654.5,540.1 L655.5,540.2 L656.5,540.2 L657.5,540.2 L658.5,540.2 L659.5,540.3 L660.5,540.3 L661.5,540.3 L662.5,540.3 L663.5,540.3 L664.5,540.4 L665.5,540.4 L666.5,540.4 L667.5,540.4 L668.5,540.5 L669.5,540.5 L670.5,540.5 L671.5,540.5 L672.5,540.5 L673.5,540.6 L674.5,540.6 L675.5,540.6 L676.5,540.6 L677.5,540.6 L678.5,540.7 L679.5,540.7 L680.5,540.7 L681.5,540.7 L682.5,540.7 L683.5,540.7 L684.5,540.8 L685.5,540.8 L686.5,540.8 L687.5,540.8 L688.5,540.8 L689.5,540.9 L690.5,540.9 L691.5,540.9 L692.5,540.9 L693.5,540.9 L694.5,540.9 L695.5,540.9 L696.5,541.0 L697.5,541.0 L698.5,541.0 L699.0,541.0" stroke="#0000ff" stroke-dasharray="2.0 3.15"/>
<path d="M480.5,393.8 L481.5,394.0 L482.5,394.3 L483.5,394.5 L484.5,394.9 L485.5,395.2 L486.5,395.6 L487.5,396.1 L488.5,396.6 L489.5,397.1 L490.5,397.6 L491.5,398.2 L492.5,398.8 L493.5,399.4 L494.5,400.1 L495.5,400.7 L496.5,401.4 L497.5,402.1 L498.5,402.9 L499.5,403.6 L500.5,404.4 L501.5,405.1 L502.5,405.9 L503.5,406.7 L504.5,407.5 L505.5,408.3 L506.5,409.1 L507.5,409.9 L508.5,410.7 L509.5,411.6 L510.5,412.4 L511.5,413.3 L512.5,414.1 L513.5,415.0 L514.5,415.8 L515.5,416.7 L516.5,417.5 L517.5,418.4 L518.5,419.3 L519.5,420.2 L520.5,421.0 L521.5,421.9 L522.5,422.8 L523.5,423.7 L524.5,424.6 L525.5,425.5 L526.5,426.3 L527.5,427.2 L528.5,428.1 L529.5,429.0 L530.5,429.9 L531.5,430.8 L532.5,431.7 L533.5,432.5 L534.5,433.4 L535.5,434.3 L536.5,435.2 L537.5,436.1 L538.5,436.9 L539.5,437.8 L540.5,438.7 L541.5,439.6 L542.5,440.5 L543.5,441.3 L544.5,442.2 L545.5,443.1 L546.5,444.0 L547.5,444.8 L548.5,445.7 L549.5,446.6 L550.5,447.4 L551.5,448.3 L552.5,449.2 L553.5,450.1 L554.5,450.9 L555.5,451.8 L556.5,452.6 L557.5,453.5 L558.5,454.4 L559.5,455.2 L560.5,456.1 L561.5,456.9 L562.5,457.8 L563.5,458.6 L564.5,459.5 L565.5,460.3 L566.5,461.2 L567.5,462.0 L568.5,462.9 L569.5,463.7 L570.5,464.6 L571.5,465.4 L572.5,466.2 L573.5,467.1 L574.5,467.9 L575.5,468.7 L576.5,469.6 L577.5,470.4 L578.5,471.2 L579.5,472.0 L580.5,472.8 L581.5,473.6 L582.5,474.5 L583.5,475.3 L584.5,476.1 L585.5,476.9 L586.5,477.7 L587.5,478.5 L588.5,479.3 L589.5,480.1 L590.5,480.9 L591.5,481.7 L592.5,482.4 L593.5,483.2 L594.5,484.0 L595.5,484.8 L596.5,485.6 L597.5,486.4 L598.5,487.1 L599.5,487.9 L600.5,488.7 L601.5,489.4 L602.5,490.2 L603.5,490.9 L604.5,491.7 L605.5,492.5 L606.5,493.2 L607.5,494.0 L608.5,494.7 L609.5,495.5 L610.5,496.2 L611.5,496.9 L612.5,497.7 L613.5,498.4 L614.5,499.1 L615.5,499.9 L616.5,500.6 L617.5,501.3 L618.5,502.0 L619.5,502.8 L620.5,503.5 L621.5,504.2 L622.5,504.9 L623.5,505.6 L624.5,506.3 L625.5,507.0 L626.5,507.7 L627.5,508.4 L628.5,509.1 L629.5,509.8 L630.5,510.5 L631.5,511.1 L632.5,511.8 L633.5,512.5 L634.5,513.2 L635.5,513.8 L636.5,514.5 L637.5,515.2 L638.5,515.8 L639.5,516.5 L640.5,517.2 L641.5,517.8 L642.5,518.5 L643.5,519.1 L644.5,519.8 L645.5,520.4 L646.5,521.1 L647.5,521.7 L648.5,522.3 L649.5,523.0 L650.5,523.6 L651.5,524.2 L652.5,524.8 L653.5,525.4 L654.5,526.1 L655.5,526.7 L656.5,527.3 L657.5,527.9 L658.5,528.5 L659.5,529.1 L660.5,529.7 L661.5,530.3 L662.5,530.9 L663.5,531.5 L664.5,532.0 L665.5,532.6 L666.5,533.2 L667.5,533.8 L668.5,534.4 L669.5,534.9 L670.5,535.5 L671.5,536.0 L672.5,536.6 L673.5,537.2 L674.5,537.7 L675.5,538.3 L676.5,538.8 L677.5,539.3 L678.5,539.9 L679.5,540.4 L680.5,541.0 L681.5,541.5 L682.5,542.0 L683.5,542.5 L684.5,543.1 L685.5,543.6 L686.5,544.1 L687.5,544.6 L688.5,545.1 L689.5,545.6 L690.5,546.1 L691.5,546.6 L692.5,547.1 L693.5,547.6 L694.0,547.8" stroke="#000000"/>
<path d="M480.5,393.8 L481.5,393.9 L482.5,394.0 L483.5,394.2 L484.5,394.3 L485.5,394.5 L486.5,394.7 L487.5,394.9 L488.5,395.1 L489.5,395.4 L490.5,395.6 L491.5,395.9 L492.5,396.2 L493.5,396.5 L494.5,396.8 L495.5,397.1 L496.5,397.5 L497.5,397.8 L498.5,398.2 L499.5,398.6 L500.5,399.0 L501.5,399.4 L502.5,399.9 L503.5,400.3 L504.5,400.7 L505.5,401.2 L506.5,401.7 L507.5,402.2 L508.5,402.6 L509.5,403.2 L510.5,403.7 L511.5,404.2 L512.5,404.7 L513.5,405.3 L514.5,405.8 L515.5,406.4 L516.5,406.9 L517.5,407.5 L518.5,408.1 L519.5,408.6 L520.5,409.2 L521.5,409.8 L522.5,410.4 L523.5,411.0 L524.5,411.6 L525.5,412.3 L526.5,412.9 L527.5,413.5 L528.5,414.1 L529.5,414.8 L530.5,415.4 L531.5,416.0 L532.5,416.7 L533.5,417.3 L534.5,418.0 L535.5,418.7 L536.5,419.3 L537.5,420.0 L538.5,420.6 L539.5,421.3 L540.5,422.0 L541.5,422.6 L542.5,423.3 L543.5,424.0 L544.5,424.6 L545.5,425.3 L546.5,426.0 L547.5,426.7 L548.5,427.3 L549.5,428.0 L550.5,428.7 L551.5,429.4 L552.5,430.0 L553.5,430.7 L554.5,431.4 L555.5,432.0 L556.5,432.7 L557.5,433.4 L558.5,434.0 L559.5,434.7 L560.5,435.4 L561.5,436.0 L562.5,436.7 L563.5,437.3 L564.5,438.0 L565.5,438.6 L566.5,439.2 L567.5,439.9 L568.5,440.5 L569.5,441.1 L570.5,441.8 L571.5,442.4 L572.5,443.0 L573.5,443.6 L574.5,444.2 L575.5,444.8 L576.5,445.4 L577.5,446.0 L578.5,446.6 L579.5,447.2 L580.5,447.8 L581.5,448.4 L582.5,448.9 L583.5,449.5 L584.5,450.1 L585.5,450.7 L586.5,451.2 L587.5,451.8 L588.5,452.3 L589.5,452.9 L590.5,453.4 L591.5,454.0 L592.5,454.5 L593.5,455.1 L594.5,455.6 L595.5,456.1 L596.5,456.7 L597.5,457.2 L598.5,457.7 L599.5,458.2 L600.5,458.8 L601.5,459.3 L602.5,459.8 L603.5,460.3 L604.5,460.8 L605.5,461.3 L606.5,461.8 L607.5,462.3 L608.5,462.8 L609.5,463.3 L610.5,463.7 L611.5,464.2 L612.5,464.7 L613.5,465.2 L614.5,465.6 L615.5,466.1 L616.5,466.6 L617.5,467.0 L618.5,467.5 L619.5,468.0 L620.5,468.4 L621.5,468.9 L622.5,469.3 L623.5,469.8 L624.5,470.2 L625.5,470.7 L626.5,471.1 L627.5,471.5 L628.5,472.0 L629.5,472.4 L630.5,472.8 L631.5,473.2 L632.5,473.7 L633.5,474.1 L634.5,474.5 L635.5,474.9 L636.5,475.3 L637.5,475.7 L638.5,476.1 L639.5,476.5 L640.5,476.9 L641.5,477.3 L642.5,477.7 L643.5,478.1 L644.5,478.5 L645.5,478.9 L646.5,479.3 L647.5,479.7 L648.5,480.1 L649.5,480.4 L650.5,480.8 L651.5,481.2 L652.5,481.6 L653.5,481.9 L654.5,482.3 L655.5,482.7 L656.5,483.0 L657.5,483.4 L658.5,483.8 L659.5,484.1 L660.5,484.5 L661.5,484.8 L662.5,485.2 L663.5,485.5 L664.5,485.9 L665.5,486.2 L666.5,486.6 L667.5,486.9 L668.5,487.2 L669.5,487.6 L670.5,487.9 L671.5,488.3 L672.5,488.6 L673.5,488.9 L674.5,489.2 L675.5,489.6 L676.5,489.9 L677.5,490.2 L678.5,490.5 L679.5,490.9 L680.5,491.2 L681.5,491.5 L682.5,491.8 L683.5,492.1 L684.5,492.4 L685.5,492.7 L686.5,493.0 L687.5,493.3 L688.5,493.7 L689.5,494.0 L690.5,494.3 L691.5,494.6 L692.3,494.8" stroke="#000000" stroke-dasharray="2.0 3.15"/>
<path d="M480.5,403.1 L481.5,403.7 L482.5,404.2 L483.5,404.7 L484.5,405.1 L485.5,405.6 L486.5,406.1 L487.5,406.5 L488.5,407.0 L489.5,407.5 L490.5,407.9 L491.5,408.4 L492.5,408.9 L493.5,409.5 L494.5,410.0 L495.5,410.6 L496.5,411.2 L497.5,411.8 L498.5,412.5 L499.5,413.1 L500.5,413.8 L501.5,414.4 L502.5,415.1 L503.5,415.8 L504.5,416.5 L505.5,417.2 L506.5,417.9 L507.5,418.6 L508.5,419.4 L509.5,420.1 L510.5,420.8 L511.5,421.6 L512.5,422.4 L513.5,423.1 L514.5,423.9 L515.5,424.7 L516.5,425.5 L517.5,426.3 L518.5,427.1 L519.5,427.9 L520.5,428.7 L521.5,429.5 L522.5,430.3 L523.5,431.1 L524.5,431.9 L525.5,432.8 L526.5,433.6 L527.5,434.4 L528.5,435.2 L529.5,436.0 L530.5,436.9 L531.5,437.7 L532.5,438.5 L533.5,439.3 L534.5,440.1 L535.5,441.0 L536.5,441.8 L537.5,442.6 L538.5,443.4 L539.5,444.3 L540.5,445.1 L541.5,445.9 L542.5,446.7 L543.5,447.5 L544.5,448.4 L545.5,449.2 L546.5,450.0 L547.5,450.8 L548.5,451.6 L549.5,452.4 L550.5,453.2 L551.5,454.1 L552.5,454.9 L553.5,455.7 L554.5,456.5 L555.5,457.3 L556.5,458.1 L557.5,458.9 L558.5,459.7 L559.5,460.5 L560.5,461.3 L561.5,462.1 L562.5,462.9 L563.5,463.7 L564.5,464.5 L565.5,465.2 L566.5,466.0 L567.5,466.8 L568.5,467.6 L569.5,468.4 L570.5,469.1 L571.5,469.9 L572.5,470.7 L573.5,471.4 L574.5,472.2 L575.5,473.0 L576.5,473.7 L577.5,474.5 L578.5,475.2 L579.5,476.0 L580.5,476.7 L581.5,477.4 L582.5,478.2 L583.5,478.9 L584.5,479.6 L585.5,480.4 L586.5,481.1 L587.5,481.8 L588.5,482.5 L589.5,483.2 L590.5,483.9 L591.5,484.6 L592.5,485.3 L593.5,486.0 L594.5,486.7 L595.5,487.4 L596.5,488.1 L597.5,488.7 L598.5,489.4 L599.5,490.1 L600.5,490.7 L601.5,491.4 L602.5,492.1 L603.5,492.7 L604.5,493.4 L605.5,494.0 L606.5,494.7 L607.5,495.3 L608.5,496.0 L609.5,496.6 L610.5,497.2 L611.5,497.9 L612.5,498.5 L613.5,499.1 L614.5,499.7 L615.5,500.4 L616.5,501.0 L617.5,501.6 L618.5,502.2 L619.5,502.8 L620.5,503.4 L621.5,504.0 L622.5,504.6 L623.5,505.2 L624.5,505.8 L625.5,506.4 L626.5,506.9 L627.5,507.5 L628.5,508.1 L629.5,508.7 L630.5,509.2 L631.5,509.8 L632.5,510.4 L633.5,510.9 L634.5,511.5 L635.5,512.1 L636.5,512.6 L637.5,513.2 L638.5,513.7 L639.5,514.3 L640.5,514.8 L641.5,515.3 L642.5,515.9 L643.5,516.4 L644.5,517.0 L645.5,517.5 L646.5,518.0 L647.5,518.5 L648.5,519.1 L649.5,519.6 L650.5,520.1 L651.5,520.6 L652.5,521.1 L653.5,521.7 L654.5,522.2 L655.5,522.7 L656.5,523.2 L657.5,523.7 L658.5,524.2 L659.5,524.7 L660.5,525.2 L661.5,525.7 L662.5,526.2 L663.5,526.6 L664.5,527.1 L665.5,527.6 L666.5,528.1 L667.5,528.6 L668.5,529.1 L669.5,529.5 L670.5,530.0 L671.5,530.5 L672.5,531.0 L673.5,531.4 L674.5,531.9 L675.5,532.4 L676.5,532.8 L677.5,533.3 L678.5,533.7 L679.5,534.2 L680.5,534.7 L681.5,535.1 L682.5,535.6 L683.5,536.0 L684.5,536.5 L685.5,536.9 L686.5,537.4 L687.5,537.8 L688.5,538.3 L689.5,538.7 L690.5,539.1 L691.5,539.6 L692.5,540.0 L693.5,540.5 L694.5,540.9 L695.5,541.3 L696.5,541.7" stroke="#008000" stroke-dasharray="15.5 3.1"/>
<path d="M480.5,403.1 L481.5,403.6 L482.5,404.1 L483.5,404.6 L484.5,405.1 L485.5,405.6 L486.5,406.1 L487.5,406.6 L488.5,407.2 L489.5,407.7 L490.5,408.3 L491.5,408.9 L492.5,409.4 L493.5,410.0 L494.5,410.6 L495.5,411.2 L496.5,411.8 L497.5,412.5 L498.5,413.1 L499.5,413.7 L500.5,414.4 L501.5,415.0 L502.5,415.7 L503.5,416.3 L504.5,417.0 L505.5,417.7 L506.5,418.3 L507.5,419.0 L508.5,419.7 L509.5,420.4 L510.5,421.1 L511.5,421.8 L512.5,422.5 L513.5,423.2 L514.5,423.9 L515.5,424.7 L516.5,425.4 L517.5,426.1 L518.5,426.8 L519.5,427.6 L520.5,428.3 L521.5,429.0 L522.5,429.8 L523.5,430.5 L524.5,431.3 L525.5,432.0 L526.5,432.7 L527.5,433.5 L528.5,434.2 L529.5,435.0 L530.5,435.7 L531.5,436.5 L532.5,437.2 L533.5,438.0 L534.5,438.7 L535.5,439.5 L536.5,440.2 L537.5,441.0 L538.5,441.7 L539.5,442.4 L540.5,443.2 L541.5,443.9 L542.5,444.7 L543.5,445.4 L544.5,446.1 L545.5,446.9 L546.5,447.6 L547.5,448.3 L548.5,449.0 L549.5,449.7 L550.5,450.5 L551.5,451.2 L552.5,451.9 L553.5,452.6 L554.5,453.3 L555.5,454.0 L556.5,454.7 L557.5,455.4 L558.5,456.1 L559.5,456.7 L560.5,457.4 L561.5,458.1 L562.5,458.8 L563.5,459.4 L564.5,460.1 L565.5,460.8 L566.5,461.4 L567.5,462.1 L568.5,462.7 L569.5,463.3 L570.5,464.0 L571.5,464.6 L572.5,465.2 L573.5,465.9 L574.5,466.5 L575.5,467.1 L576.5,467.7 L577.5,468.3 L578.5,468.9 L579.5,469.5 L580.5,470.1 L581.5,470.7 L582.5,471.2 L583.5,471.8 L584.5,472.4 L585.5,472.9 L586.5,473.5 L587.5,474.0 L588.5,474.6 L589.5,475.1 L590.5,475.6 L591.5,476.2 L592.5,476.7 L593.5,477.2 L594.5,477.7 L595.5,478.2 L596.5,478.7 L597.5,479.2 L598.5,479.7 L599.5,480.2 L600.5,480.7 L601.5,481.2 L602.5,481.6 L603.5,482.1 L604.5,482.6 L605.5,483.0 L606.5,483.5 L607.5,483.9 L608.5,484.4 L609.5,484.8 L610.5,485.2 L611.5,485.7 L612.5,486.1 L613.5,486.5 L614.5,487.0 L615.5,487.4 L616.5,487.8 L617.5,488.2 L618.5,488.6 L619.5,489.0 L620.5,489.4 L621.5,489.8 L622.5,490.2 L623.5,490.6 L624.5,490.9 L625.5,491.3 L626.5,491.7 L627.5,492.1 L628.5,492.4 L629.5,492.8 L630.5,493.2 L631.5,493.5 L632.5,493.9 L633.5,494.2 L634.5,494.6 L635.5,494.9 L636.5,495.3 L637.5,495.6 L638.5,495.9 L639.5,496.3 L640.5,496.6 L641.5,496.9 L642.5,497.3 L643.5,497.6 L644.5,497.9 L645.5,498.2 L646.5,498.5 L647.5,498.9 L648.5,499.2 L649.5,499.5 L650.5,499.8 L651.5,500.1 L652.5,500.4 L653.5,500.7 L654.5,501.0 L655.5,501.3 L656.5,501.6 L657.5,501.8 L658.5,502.1 L659.5,502.4 L660.5,502.7 L661.5,503.0 L662.5,503.3 L663.5,503.5 L664.5,503.8 L665.5,504.1 L666.5,504.4 L667.5,504.6 L668.5,504.9 L669.5,505.2 L670.5,505.4 L671.5,505.7 L672.5,506.0 L673.5,506.2 L674.5,506.5 L675.5,506.7 L676.5,507.0 L677.5,507.3 L678.5,507.5 L679.5,507.8 L680.5,508.0 L681.5,508.3 L682.5,508.5 L683.5,508.8 L684.5,509.0 L685.5,509.3 L686.5,509.5 L687.5,509.8 L688.5,510.0 L689.5,510.3 L690.5,510.5 L691.5,510.8 L692.5,511.0 L693.5,511.3 L694.5,511.5 L695.5,511.8 L696.5,512.0 L697.5,512.3 L698.5,512.5 L699.0,512.6" stroke="#008000" stroke-dasharray="2.0 3.15"/>
<path d="M480.5,384.9 L481.5,385.4 L482.5,385.9 L483.5,386.4 L484.5,387.0 L485.5,387.6 L486.5,388.2 L487.5,388.8 L488.5,389.4 L489.5,390.0 L490.5,390.7 L491.5,391.4 L492.5,392.1 L493.5,392.8 L494.5,393.6 L495.5,394.4 L496.5,395.1 L497.5,396.0 L498.5,396.8 L499.5,397.7 L500.5,398.5 L501.5,399.4 L502.5,400.3 L503.5,401.3 L504.5,402.2 L505.5,403.1 L506.5,404.1 L507.5,405.1 L508.5,406.1 L509.5,407.1 L510.5,408.1 L511.5,409.1 L512.5,410.1 L513.5,411.2 L514.5,412.2 L515.5,413.3 L516.5,414.3 L517.5,415.4 L518.5,416.5 L519.5,417.6 L520.5,418.6 L521.5,419.7 L522.5,420.8 L523.5,421.9 L524.5,423.0 L525.5,424.1 L526.5,425.2 L527.5,426.3 L528.5,427.4 L529.5,428.6 L530.5,429.7 L531.5,430.8 L532.5,431.9 L533.5,433.0 L534.5,434.1 L535.5,435.2 L536.5,436.3 L537.5,437.4 L538.5,438.5 L539.5,439.6 L540.5,440.7 L541.5,441.8 L542.5,442.9 L543.5,443.9 L544.5,445.0 L545.5,446.1 L546.5,447.2 L547.5,448.3 L548.5,449.3 L549.5,450.4 L550.5,451.5 L551.5,452.5 L552.5,453.6 L553.5,454.7 L554.5,455.7 L555.5,456.8 L556.5,457.8 L557.5,458.9 L558.5,459.9 L559.5,460.9 L560.5,462.0 L561.5,463.0 L562.5,464.1 L563.5,465.1 L564.5,466.1 L565.5,467.1 L566.5,468.1 L567.5,469.2 L568.5,470.2 L569.5,471.2 L570.5,472.2 L571.5,473.2 L572.5,474.2 L573.5,475.2 L574.5,476.2 L575.5,477.1 L576.5,478.1 L577.5,479.1 L578.5,480.1 L579.5,481.0 L580.5,482.0 L581.5,483.0 L582.5,483.9 L583.5,484.9 L584.5,485.8 L585.5,486.8 L586.5,487.7 L587.5,488.6 L588.5,489.6 L589.5,490.5 L590.5,491.4 L591.5,492.3 L592.5,493.2 L593.5,494.1 L594.5,495.0 L595.5,495.9 L596.5,496.8 L597.5,497.7 L598.5,498.6 L599.5,499.5 L600.5,500.4 L601.5,501.2 L602.5,502.1 L603.5,503.0 L604.5,503.8 L605.5,504.7 L606.5,505.6 L607.5,506.4 L608.5,507.2 L609.5,508.1 L610.5,508.9 L611.5,509.8 L612.5,510.6 L613.5,511.4 L614.5,512.2 L615.5,513.0 L616.5,513.8 L617.5,514.7 L618.5,515.5 L619.5,516.3 L620.5,517.1 L621.5,517.8 L622.5,518.6 L623.5,519.4 L624.5,520.2 L625.5,521.0 L626.5,521.8 L627.5,522.5 L628.5,523.3 L629.5,524.0 L630.5,524.8 L631.5,525.6 L632.5,526.3 L633.5,527.1 L634.5,527.8 L635.5,528.5 L636.5,529.3 L637.5,530.0 L638.5,530.7 L639.5,531.5 L640.5,532.2 L641.5,532.9 L642.5,533.6 L643.5,534.3 L644.5,535.0 L645.5,535.8 L646.5,536.5 L647.5,537.2 L648.5,537.8 L649.5,538.5 L650.5,539.2 L651.5,539.9 L652.5,540.6 L653.5,541.3 L654.5,542.0 L655.5,542.6 L656.5,543.3 L657.5,544.0 L658.5,544.6 L659.5,545.3 L660.5,545.9 L661.5,546.6 L662.5,547.2 L663.5,547.9 L664.5,548.5 L665.5,549.2 L666.5,549.8 L667.5,550.5 L668.5,551.1 L669.5,551.7 L670.5,552.4 L671.5,553.0 L672.5,553.6 L673.5,554.2 L674.5,554.8 L675.5,555.4 L676.0,555.8" stroke="#ff0000" stroke-dasharray="15.2 3.1 3.3 15.0"/>
<path d="M480.5,384.9 L481.5,385.4 L482.5,385.9 L483.5,386.4 L484.5,387.0 L485.5,387.6 L486.5,388.2 L487.5,388.8 L488.5,389.5 L489.5,390.2 L490.5,390.9 L491.5,391.6 L492.5,392.3 L493.5,393.0 L494.5,393.8 L495.5,394.6 L496.5,395.4 L497.5,396.2 L498.5,397.0 L499.5,397.9 L500.5,398.7 L501.5,399.6 L502.5,400.5 L503.5,401.4 L504.5,402.3 L505.5,403.2 L506.5,404.2 L507.5,405.1 L508.5,406.0 L509.5,407.0 L510.5,408.0 L511.5,408.9 L512.5,409.9 L513.5,410.9 L514.5,411.9 L515.5,412.9 L516.5,413.9 L517.5,414.9 L518.5,416.0 L519.5,417.0 L520.5,418.0 L521.5,419.0 L522.5,420.1 L523.5,421.1 L524.5,422.1 L525.5,423.2 L526.5,424.2 L527.5,425.2 L528.5,426.2 L529.5,427.3 L530.5,428.3 L531.5,429.3 L532.5,430.3 L533.5,431.3 L534.5,432.4 L535.5,433.4 L536.5,434.4 L537.5,435.4 L538.5,436.3 L539.5,437.3 L540.5,438.3 L541.5,439.3 L542.5,440.2 L543.5,441.2 L544.5,442.2 L545.5,443.1 L546.5,444.1 L547.5,445.0 L548.5,446.0 L549.5,446.9 L550.5,447.8 L551.5,448.7 L552.5,449.7 L553.5,450.6 L554.5,451.5 L555.5,452.4 L556.5,453.3 L557.5,454.2 L558.5,455.0 L559.5,455.9 L560.5,456.8 L561.5,457.7 L562.5,458.5 L563.5,459.4 L564.5,460.2 L565.5,461.1 L566.5,461.9 L567.5,462.7 L568.5,463.6 L569.5,464.4 L570.5,465.2 L571.5,466.0 L572.5,466.8 L573.5,467.6 L574.5,468.4 L575.5,469.2 L576.5,469.9 L577.5,470.7 L578.5,471.4 L579.5,472.2 L580.5,473.0 L581.5,473.7 L582.5,474.4 L583.5,475.2 L584.5,475.9 L585.5,476.6 L586.5,477.3 L587.5,478.0 L588.5,478.7 L589.5,479.4 L590.5,480.1 L591.5,480.8 L592.5,481.4 L593.5,482.1 L594.5,482.8 L595.5,483.4 L596.5,484.1 L597.5,484.7 L598.5,485.4 L599.5,486.0 L600.5,486.7 L601.5,487.3 L602.5,487.9 L603.5,488.5 L604.5,489.1 L605.5,489.7 L606.5,490.3 L607.5,490.9 L608.5,491.5 L609.5,492.1 L610.5,492.7 L611.5,493.3 L612.5,493.8 L613.5,494.4 L614.5,495.0 L615.5,495.5 L616.5,496.1 L617.5,496.6 L618.5,497.1 L619.5,497.7 L620.5,498.2 L621.5,498.7 L622.5,499.3 L623.5,499.8 L624.5,500.3 L625.5,500.8 L626.5,501.3 L627.5,501.8 L628.5,502.3 L629.5,502.8 L630.5,503.3 L631.5,503.8 L632.5,504.3 L633.5,504.7 L634.5,505.2 L635.5,505.7 L636.5,506.2 L637.5,506.6 L638.5,507.1 L639.5,507.5 L640.5,508.0 L641.5,508.4 L642.5,508.9 L643.5,509.3 L644.5,509.8 L645.5,510.2 L646.5,510.6 L647.5,511.0 L648.5,511.5 L649.5,511.9 L650.5,512.3 L651.5,512.7 L652.5,513.1 L653.5,513.5 L654.5,513.9 L655.5,514.3 L656.5,514.7 L657.5,515.1 L658.5,515.5 L659.5,515.9 L660.5,516.3 L661.5,516.7 L662.5,517.1 L663.5,517.4 L664.5,517.8 L665.5,518.2 L666.5,518.6 L667.5,518.9 L668.5,519.3 L669.5,519.7 L670.5,520.0 L671.5,520.4 L672.5,520.7 L673.5,521.1 L674.5,521.4 L675.5,521.8 L676.5,522.1 L677.5,522.5 L678.5,522.8 L679.5,523.2 L680.5,523.5 L681.5,523.9 L682.5,524.2 L683.5,524.5 L684.5,524.9 L685.5,525.2 L686.5,525.5 L687.5,525.8 L688.5,526.2 L689.5,526.5 L690.5,526.8 L691.5,527.1 L692.5,527.5 L693.5,527.8 L694.5,528.1 L695.5,528.4 L696.5,528.7 L697.5,529.0 L698.5,529.3 L699.0,529.5" stroke="#ff0000" stroke-dasharray="2.0 3.15"/>
</g>
<path d="M480.5,553.9v-6.2M480.5,356.2v6.2M498.6,553.9v-3.1M498.6,356.2v3.1M516.7,553.9v-6.2M516.7,356.2v6.2M534.9,553.9v-3.1M534.9,356.2v3.1M553.0,553.9v-6.2M553.0,356.2v6.2M571.1,553.9v-3.1M571.1,356.2v3.1M589.2,553.9v-6.2M589.2,356.2v6.2M607.3,553.9v-3.1M607.3,356.2v3.1M625.5,553.9v-6.2M625.5,356.2v6.2M643.6,553.9v-3.1M643.6,356.2v3.1M661.7,553.9v-6.2M661.7,356.2v6.2M679.8,553.9v-3.1M679.8,356.2v3.1M698.0,553.9v-6.2M698.0,356.2v6.2M480.5,553.9h6.2M698.0,553.9h-6.2M480.5,531.9h3.1M698.0,531.9h-3.1M480.5,510.0h6.2M698.0,510.0h-6.2M480.5,488.0h3.1M698.0,488.0h-3.1M480.5,466.0h6.2M698.0,466.0h-6.2M480.5,444.1h3.1M698.0,444.1h-3.1M480.5,422.1h6.2M698.0,422.1h-6.2M480.5,400.1h3.1M698.0,400.1h-3.1M480.5,378.2h6.2M698.0,378.2h-6.2M480.5,356.2h3.1M698.0,356.2h-3.1" stroke="#000" stroke-width="1.8" fill="none"/>
<rect x="480.5" y="356.2" width="217.4" height="197.7" fill="none" stroke="#000" stroke-width="1.9"/>
<text x="470.3" y="559.1" font-size="17" text-anchor="end" textLength="34.4" lengthAdjust="spacingAndGlyphs">3000</text>
<text x="470.3" y="515.2" font-size="17" text-anchor="end" textLength="34.4" lengthAdjust="spacingAndGlyphs">3200</text>
<text x="470.3" y="471.2" font-size="17" text-anchor="end" textLength="34.4" lengthAdjust="spacingAndGlyphs">3400</text>
<text x="470.3" y="427.3" font-size="17" text-anchor="end" textLength="34.4" lengthAdjust="spacingAndGlyphs">3600</text>
<text x="470.3" y="383.4" font-size="17" text-anchor="end" textLength="34.4" lengthAdjust="spacingAndGlyphs">3800</text>
<text x="480.5" y="575.2" font-size="17" text-anchor="middle" textLength="9.3" lengthAdjust="spacingAndGlyphs">0</text>
<text x="516.7" y="575.2" font-size="17" text-anchor="middle" textLength="9.3" lengthAdjust="spacingAndGlyphs">1</text>
<text x="553.0" y="575.2" font-size="17" text-anchor="middle" textLength="9.3" lengthAdjust="spacingAndGlyphs">2</text>
<text x="589.2" y="575.2" font-size="17" text-anchor="middle" textLength="9.3" lengthAdjust="spacingAndGlyphs">3</text>
<text x="625.5" y="575.2" font-size="17" text-anchor="middle" textLength="9.3" lengthAdjust="spacingAndGlyphs">4</text>
<text x="661.7" y="575.2" font-size="17" text-anchor="middle" textLength="9.3" lengthAdjust="spacingAndGlyphs">5</text>
<text x="698.0" y="575.2" font-size="17" text-anchor="middle" textLength="9.3" lengthAdjust="spacingAndGlyphs">6</text>
<rect x="554.2" y="390.4" width="134.0" height="37.3" fill="#fff" stroke="#000" stroke-width="2.2"/>
<text x="566.6" y="415.8" font-size="20" textLength="107.6" lengthAdjust="spacingAndGlyphs" xml:space="preserve">T=100 MeV</text>
<text x="491.1" y="380.1" font-size="20" textLength="24.8" lengthAdjust="spacingAndGlyphs">(d)</text>
</g>
<g id="panel-e">
<clipPath id="clipe"><rect x="132.2" y="594.0" width="217.8" height="197.2"/></clipPath>
<g clip-path="url(#clipe)" fill="none" stroke-width="2.1">
<path d="M132.0,770.5 L133.0,770.6 L134.0,770.6 L135.0,770.7 L136.0,770.8 L137.0,770.8 L138.0,770.9 L139.0,771.0 L140.0,771.0 L141.0,771.1 L142.0,771.2 L143.0,771.2 L144.0,771.3 L145.0,771.3 L146.0,771.4 L147.0,771.5 L148.0,771.5 L149.0,771.6 L150.0,771.6 L151.0,771.7 L152.0,771.8 L153.0,771.8 L154.0,771.9 L155.0,771.9 L156.0,772.0 L157.0,772.1 L158.0,772.1 L159.0,772.2 L160.0,772.2 L161.0,772.3 L162.0,772.3 L163.0,772.4 L164.0,772.4 L165.0,772.5 L166.0,772.6 L167.0,772.6 L168.0,772.7 L169.0,772.7 L170.0,772.8 L171.0,772.8 L172.0,772.9 L173.0,772.9 L174.0,773.0 L175.0,773.0 L176.0,773.1 L177.0,773.1 L178.0,773.2 L179.0,773.2 L180.0,773.3 L181.0,773.3 L182.0,773.4 L183.0,773.4 L184.0,773.5 L185.0,773.5 L186.0,773.6 L187.0,773.6 L188.0,773.7 L189.0,773.7 L190.0,773.8 L191.0,773.8 L192.0,773.9 L193.0,773.9 L194.0,774.0 L195.0,774.0 L196.0,774.0 L197.0,774.1 L198.0,774.1 L199.0,774.2 L200.0,774.2 L201.0,774.3 L202.0,774.3 L203.0,774.4 L204.0,774.4 L205.0,774.4 L206.0,774.5 L207.0,774.5 L208.0,774.6 L209.0,774.6 L210.0,774.7 L211.0,774.7 L212.0,774.7 L213.0,774.8 L214.0,774.8 L215.0,774.9 L216.0,774.9 L217.0,774.9 L218.0,775.0 L219.0,775.0 L220.0,775.1 L221.0,775.1 L222.0,775.1 L223.0,775.2 L224.0,775.2 L225.0,775.3 L226.0,775.3 L227.0,775.3 L228.0,775.4 L229.0,775.4 L230.0,775.4 L231.0,775.5 L232.0,775.5 L233.0,775.6 L234.0,775.6 L235.0,775.6 L236.0,775.7 L237.0,775.7 L238.0,775.7 L239.0,775.8 L240.0,775.8 L241.0,775.8 L242.0,775.9 L243.0,775.9 L244.0,776.0 L245.0,776.0 L246.0,776.0 L247.0,776.1 L248.0,776.1 L249.0,776.1 L250.0,776.2 L251.0,776.2 L252.0,776.2 L253.0,776.3 L254.0,776.3 L255.0,776.3 L256.0,776.4 L257.0,776.4 L258.0,776.4 L259.0,776.5 L260.0,776.5 L261.0,776.5 L262.0,776.6 L263.0,776.6 L264.0,776.6 L265.0,776.7 L266.0,776.7 L267.0,776.7 L268.0,776.8 L269.0,776.8 L270.0,776.8 L271.0,776.9 L272.0,776.9 L273.0,776.9 L274.0,777.0 L275.0,777.0 L276.0,777.0 L277.0,777.1 L278.0,777.1 L279.0,777.1 L280.0,777.2 L281.0,777.2 L282.0,777.2 L283.0,777.2 L284.0,777.3 L285.0,777.3 L286.0,777.3 L287.0,777.4 L288.0,777.4 L289.0,777.4 L290.0,777.5 L291.0,777.5 L292.0,777.5 L293.0,777.6 L294.0,777.6 L295.0,777.6 L296.0,777.7 L297.0,777.7 L298.0,777.7 L299.0,777.7 L300.0,777.8 L301.0,777.8 L302.0,777.8 L303.0,777.9 L304.0,777.9 L305.0,777.9 L306.0,778.0 L307.0,778.0 L308.0,778.0 L309.0,778.1 L310.0,778.1 L311.0,778.1 L312.0,778.2 L313.0,778.2 L314.0,778.2 L315.0,778.2 L316.0,778.3 L317.0,778.3 L318.0,778.3 L319.0,778.4 L320.0,778.4 L321.0,778.4 L322.0,778.5 L323.0,778.5 L324.0,778.5 L325.0,778.6 L326.0,778.6 L327.0,778.6 L328.0,778.7 L329.0,778.7 L330.0,778.7 L331.0,778.8 L332.0,778.8 L333.0,778.8 L334.0,778.8 L335.0,778.9 L336.0,778.9 L337.0,778.9 L338.0,779.0 L339.0,779.0 L340.0,779.0 L341.0,779.1 L342.0,779.1 L343.0,779.1 L344.0,779.2 L345.0,779.2 L346.0,779.2 L347.0,779.3 L348.0,779.3 L349.0,779.3 L350.0,779.4" stroke="#0000ff" stroke-dasharray="7 1.75"/>
<path d="M132.0,770.5 L133.0,770.6 L134.0,770.6 L135.0,770.7 L136.0,770.7 L137.0,770.8 L138.0,770.9 L139.0,770.9 L140.0,771.0 L141.0,771.0 L142.0,771.1 L143.0,771.2 L144.0,771.2 L145.0,771.3 L146.0,771.3 L147.0,771.4 L148.0,771.4 L149.0,771.5 L150.0,771.6 L151.0,771.6 L152.0,771.7 L153.0,771.7 L154.0,771.8 L155.0,771.8 L156.0,771.9 L157.0,772.0 L158.0,772.0 L159.0,772.1 L160.0,772.1 L161.0,772.2 L162.0,772.2 L163.0,772.3 L164.0,772.3 L165.0,772.4 L166.0,772.5 L167.0,772.5 L168.0,772.6 L169.0,772.6 L170.0,772.7 L171.0,772.7 L172.0,772.8 L173.0,772.8 L174.0,772.9 L175.0,772.9 L176.0,773.0 L177.0,773.0 L178.0,773.1 L179.0,773.1 L180.0,773.2 L181.0,773.2 L182.0,773.3 L183.0,773.3 L184.0,773.4 L185.0,773.4 L186.0,773.5 L187.0,773.5 L188.0,773.6 L189.0,773.6 L190.0,773.7 L191.0,773.7 L192.0,773.8 L193.0,773.8 L194.0,773.9 L195.0,773.9 L196.0,774.0 L197.0,774.0 L198.0,774.1 L199.0,774.1 L200.0,774.1 L201.0,774.2 L202.0,774.2 L203.0,774.3 L204.0,774.3 L205.0,774.4 L206.0,774.4 L207.0,774.5 L208.0,774.5 L209.0,774.6 L210.0,774.6 L211.0,774.7 L212.0,774.7 L213.0,774.7 L214.0,774.8 L215.0,774.8 L216.0,774.9 L217.0,774.9 L218.0,775.0 L219.0,775.0 L220.0,775.0 L221.0,775.1 L222.0,775.1 L223.0,775.2 L224.0,775.2 L225.0,775.3 L226.0,775.3 L227.0,775.3 L228.0,775.4 L229.0,775.4 L230.0,775.5 L231.0,775.5 L232.0,775.5 L233.0,775.6 L234.0,775.6 L235.0,775.7 L236.0,775.7 L237.0,775.7 L238.0,775.8 L239.0,775.8 L240.0,775.8 L241.0,775.9 L242.0,775.9 L243.0,775.9 L244.0,776.0 L245.0,776.0 L246.0,776.1 L247.0,776.1 L248.0,776.1 L249.0,776.2 L250.0,776.2 L251.0,776.2 L252.0,776.3 L253.0,776.3 L254.0,776.3 L255.0,776.4 L256.0,776.4 L257.0,776.4 L258.0,776.4 L259.0,776.5 L260.0,776.5 L261.0,776.5 L262.0,776.6 L263.0,776.6 L264.0,776.6 L265.0,776.7 L266.0,776.7 L267.0,776.7 L268.0,776.8 L269.0,776.8 L270.0,776.8 L271.0,776.8 L272.0,776.9 L273.0,776.9 L274.0,776.9 L275.0,777.0 L276.0,777.0 L277.0,777.0 L278.0,777.0 L279.0,777.1 L280.0,777.1 L281.0,777.1 L282.0,777.2 L283.0,777.2 L284.0,777.2 L285.0,777.2 L286.0,777.3 L287.0,777.3 L288.0,777.3 L289.0,777.3 L290.0,777.4 L291.0,777.4 L292.0,777.4 L293.0,777.5 L294.0,777.5 L295.0,777.5 L296.0,777.5 L297.0,777.6 L298.0,777.6 L299.0,777.6 L300.0,777.6 L301.0,777.7 L302.0,777.7 L303.0,777.7 L304.0,777.7 L305.0,777.8 L306.0,777.8 L307.0,777.8 L308.0,777.8 L309.0,777.9 L310.0,777.9 L311.0,777.9 L312.0,777.9 L313.0,778.0 L314.0,778.0 L315.0,778.0 L316.0,778.0 L317.0,778.1 L318.0,778.1 L319.0,778.1 L320.0,778.1 L321.0,778.1 L322.0,778.2 L323.0,778.2 L324.0,778.2 L325.0,778.2 L326.0,778.3 L327.0,778.3 L328.0,778.3 L329.0,778.3 L330.0,778.3 L331.0,778.4 L332.0,778.4 L333.0,778.4 L334.0,778.4 L335.0,778.5 L336.0,778.5 L337.0,778.5 L338.0,778.5 L339.0,778.5 L340.0,778.6 L341.0,778.6 L342.0,778.6 L343.0,778.6 L344.0,778.6 L345.0,778.7 L346.0,778.7 L347.0,778.7 L348.0,778.7 L349.0,778.7 L350.0,778.8" stroke="#0000ff" stroke-dasharray="2.0 3.15"/>
<path d="M132.0,629.8 L133.0,630.0 L134.0,630.2 L135.0,630.5 L136.0,630.8 L137.0,631.1 L138.0,631.5 L139.0,631.8 L140.0,632.2 L141.0,632.6 L142.0,633.0 L143.0,633.5 L144.0,633.9 L145.0,634.4 L146.0,634.9 L147.0,635.4 L148.0,635.9 L149.0,636.5 L150.0,637.1 L151.0,637.7 L152.0,638.3 L153.0,638.9 L154.0,639.5 L155.0,640.2 L156.0,640.8 L157.0,641.5 L158.0,642.2 L159.0,642.9 L160.0,643.6 L161.0,644.4 L162.0,645.1 L163.0,645.9 L164.0,646.6 L165.0,647.4 L166.0,648.2 L167.0,649.0 L168.0,649.8 L169.0,650.6 L170.0,651.5 L171.0,652.3 L172.0,653.2 L173.0,654.0 L174.0,654.9 L175.0,655.8 L176.0,656.7 L177.0,657.6 L178.0,658.5 L179.0,659.4 L180.0,660.3 L181.0,661.2 L182.0,662.1 L183.0,663.1 L184.0,664.0 L185.0,664.9 L186.0,665.9 L187.0,666.8 L188.0,667.8 L189.0,668.7 L190.0,669.7 L191.0,670.6 L192.0,671.6 L193.0,672.5 L194.0,673.5 L195.0,674.5 L196.0,675.4 L197.0,676.4 L198.0,677.4 L199.0,678.4 L200.0,679.3 L201.0,680.3 L202.0,681.3 L203.0,682.3 L204.0,683.3 L205.0,684.2 L206.0,685.2 L207.0,686.2 L208.0,687.2 L209.0,688.2 L210.0,689.2 L211.0,690.1 L212.0,691.1 L213.0,692.1 L214.0,693.1 L215.0,694.0 L216.0,695.0 L217.0,696.0 L218.0,697.0 L219.0,697.9 L220.0,698.9 L221.0,699.9 L222.0,700.8 L223.0,701.8 L224.0,702.7 L225.0,703.7 L226.0,704.6 L227.0,705.6 L228.0,706.5 L229.0,707.4 L230.0,708.4 L231.0,709.3 L232.0,710.2 L233.0,711.1 L234.0,712.0 L235.0,712.9 L236.0,713.8 L237.0,714.7 L238.0,715.6 L239.0,716.5 L240.0,717.4 L241.0,718.3 L242.0,719.2 L243.0,720.0 L244.0,720.9 L245.0,721.8 L246.0,722.6 L247.0,723.5 L248.0,724.3 L249.0,725.2 L250.0,726.0 L251.0,726.8 L252.0,727.7 L253.0,728.5 L254.0,729.3 L255.0,730.1 L256.0,731.0 L257.0,731.8 L258.0,732.6 L259.0,733.4 L260.0,734.2 L261.0,735.0 L262.0,735.8 L263.0,736.5 L264.0,737.3 L265.0,738.1 L266.0,738.9 L267.0,739.7 L268.0,740.4 L269.0,741.2 L270.0,741.9 L271.0,742.7 L272.0,743.5 L273.0,744.2 L274.0,745.0 L275.0,745.7 L276.0,746.4 L277.0,747.2 L278.0,747.9 L279.0,748.6 L280.0,749.4 L281.0,750.1 L282.0,750.8 L283.0,751.5 L284.0,752.2 L285.0,752.9 L286.0,753.6 L287.0,754.3 L288.0,755.0 L289.0,755.7 L290.0,756.4 L291.0,757.1 L292.0,757.8 L293.0,758.5 L294.0,759.1 L295.0,759.8 L296.0,760.5 L297.0,761.2 L298.0,761.8 L299.0,762.5 L300.0,763.2 L301.0,763.8 L302.0,764.5 L303.0,765.1 L304.0,765.8 L305.0,766.4 L306.0,767.1 L307.0,767.7 L308.0,768.3 L309.0,769.0 L310.0,769.6 L311.0,770.2 L312.0,770.9 L313.0,771.5 L314.0,772.1 L315.0,772.7 L316.0,773.4 L317.0,774.0 L318.0,774.6 L319.0,775.2 L320.0,775.8 L321.0,776.4 L322.0,777.0 L323.0,777.6 L324.0,778.2 L325.0,778.8 L326.0,779.4 L327.0,780.0 L328.0,780.6 L329.0,781.2 L330.0,781.8 L331.0,782.3 L332.0,782.9 L333.0,783.5 L334.0,784.1 L335.0,784.6 L336.0,785.2 L337.0,785.8 L338.0,786.4 L339.0,786.9 L340.0,787.5 L341.0,788.1 L342.0,788.6 L343.0,789.2 L344.0,789.7 L345.0,790.3 L346.0,790.8 L346.5,791.1" stroke="#000000"/>
<path d="M132.0,629.7 L133.0,630.0 L134.0,630.2 L135.0,630.5 L136.0,630.7 L137.0,631.0 L138.0,631.4 L139.0,631.7 L140.0,632.1 L141.0,632.5 L142.0,632.9 L143.0,633.4 L144.0,633.8 L145.0,634.3 L146.0,634.8 L147.0,635.3 L148.0,635.8 L149.0,636.4 L150.0,637.0 L151.0,637.5 L152.0,638.1 L153.0,638.8 L154.0,639.4 L155.0,640.0 L156.0,640.7 L157.0,641.4 L158.0,642.1 L159.0,642.8 L160.0,643.5 L161.0,644.2 L162.0,645.0 L163.0,645.7 L164.0,646.5 L165.0,647.3 L166.0,648.1 L167.0,648.8 L168.0,649.7 L169.0,650.5 L170.0,651.3 L171.0,652.1 L172.0,653.0 L173.0,653.8 L174.0,654.6 L175.0,655.5 L176.0,656.4 L177.0,657.2 L178.0,658.1 L179.0,659.0 L180.0,659.8 L181.0,660.7 L182.0,661.6 L183.0,662.5 L184.0,663.4 L185.0,664.3 L186.0,665.2 L187.0,666.0 L188.0,666.9 L189.0,667.8 L190.0,668.7 L191.0,669.6 L192.0,670.5 L193.0,671.4 L194.0,672.2 L195.0,673.1 L196.0,674.0 L197.0,674.9 L198.0,675.7 L199.0,676.6 L200.0,677.5 L201.0,678.3 L202.0,679.2 L203.0,680.1 L204.0,680.9 L205.0,681.8 L206.0,682.6 L207.0,683.5 L208.0,684.3 L209.0,685.1 L210.0,686.0 L211.0,686.8 L212.0,687.6 L213.0,688.5 L214.0,689.3 L215.0,690.1 L216.0,690.9 L217.0,691.7 L218.0,692.5 L219.0,693.3 L220.0,694.1 L221.0,694.9 L222.0,695.7 L223.0,696.5 L224.0,697.3 L225.0,698.1 L226.0,698.9 L227.0,699.6 L228.0,700.4 L229.0,701.1 L230.0,701.9 L231.0,702.6 L232.0,703.4 L233.0,704.1 L234.0,704.9 L235.0,705.6 L236.0,706.3 L237.0,707.0 L238.0,707.7 L239.0,708.4 L240.0,709.1 L241.0,709.8 L242.0,710.5 L243.0,711.2 L244.0,711.9 L245.0,712.5 L246.0,713.2 L247.0,713.8 L248.0,714.5 L249.0,715.1 L250.0,715.8 L251.0,716.4 L252.0,717.0 L253.0,717.7 L254.0,718.3 L255.0,718.9 L256.0,719.5 L257.0,720.1 L258.0,720.7 L259.0,721.3 L260.0,721.9 L261.0,722.5 L262.0,723.0 L263.0,723.6 L264.0,724.2 L265.0,724.7 L266.0,725.3 L267.0,725.8 L268.0,726.4 L269.0,726.9 L270.0,727.5 L271.0,728.0 L272.0,728.5 L273.0,729.1 L274.0,729.6 L275.0,730.1 L276.0,730.6 L277.0,731.1 L278.0,731.6 L279.0,732.1 L280.0,732.6 L281.0,733.1 L282.0,733.6 L283.0,734.1 L284.0,734.6 L285.0,735.0 L286.0,735.5 L287.0,736.0 L288.0,736.5 L289.0,736.9 L290.0,737.4 L291.0,737.8 L292.0,738.3 L293.0,738.7 L294.0,739.2 L295.0,739.6 L296.0,740.1 L297.0,740.5 L298.0,741.0 L299.0,741.4 L300.0,741.8 L301.0,742.3 L302.0,742.7 L303.0,743.1 L304.0,743.5 L305.0,743.9 L306.0,744.4 L307.0,744.8 L308.0,745.2 L309.0,745.6 L310.0,746.0 L311.0,746.4 L312.0,746.8 L313.0,747.2 L314.0,747.6 L315.0,748.0 L316.0,748.4 L317.0,748.8 L318.0,749.2 L319.0,749.6 L320.0,750.0 L321.0,750.4 L322.0,750.8 L323.0,751.1 L324.0,751.5 L325.0,751.9 L326.0,752.3 L327.0,752.7 L328.0,753.0 L329.0,753.4 L330.0,753.8 L331.0,754.2 L332.0,754.6 L333.0,754.9 L334.0,755.3 L335.0,755.7 L336.0,756.1 L337.0,756.4 L338.0,756.8 L339.0,757.2 L340.0,757.5 L341.0,757.9 L342.0,758.3 L343.0,758.7" stroke="#000000" stroke-dasharray="2.0 3.15"/>
<path d="M132.0,641.1 L133.0,641.5 L134.0,641.9 L135.0,642.4 L136.0,642.8 L137.0,643.3 L138.0,643.7 L139.0,644.2 L140.0,644.7 L141.0,645.2 L142.0,645.8 L143.0,646.3 L144.0,646.9 L145.0,647.4 L146.0,648.0 L147.0,648.6 L148.0,649.2 L149.0,649.8 L150.0,650.4 L151.0,651.1 L152.0,651.7 L153.0,652.3 L154.0,653.0 L155.0,653.7 L156.0,654.4 L157.0,655.0 L158.0,655.7 L159.0,656.4 L160.0,657.2 L161.0,657.9 L162.0,658.6 L163.0,659.3 L164.0,660.1 L165.0,660.8 L166.0,661.6 L167.0,662.3 L168.0,663.1 L169.0,663.9 L170.0,664.7 L171.0,665.4 L172.0,666.2 L173.0,667.0 L174.0,667.8 L175.0,668.6 L176.0,669.4 L177.0,670.2 L178.0,671.0 L179.0,671.8 L180.0,672.6 L181.0,673.4 L182.0,674.2 L183.0,675.0 L184.0,675.8 L185.0,676.7 L186.0,677.5 L187.0,678.3 L188.0,679.1 L189.0,679.9 L190.0,680.7 L191.0,681.5 L192.0,682.3 L193.0,683.1 L194.0,683.9 L195.0,684.7 L196.0,685.5 L197.0,686.3 L198.0,687.1 L199.0,687.9 L200.0,688.7 L201.0,689.5 L202.0,690.3 L203.0,691.1 L204.0,691.8 L205.0,692.6 L206.0,693.4 L207.0,694.2 L208.0,694.9 L209.0,695.7 L210.0,696.5 L211.0,697.2 L212.0,698.0 L213.0,698.7 L214.0,699.5 L215.0,700.2 L216.0,701.0 L217.0,701.7 L218.0,702.5 L219.0,703.2 L220.0,703.9 L221.0,704.7 L222.0,705.4 L223.0,706.1 L224.0,706.8 L225.0,707.6 L226.0,708.3 L227.0,709.0 L228.0,709.7 L229.0,710.4 L230.0,711.1 L231.0,711.8 L232.0,712.5 L233.0,713.2 L234.0,713.9 L235.0,714.6 L236.0,715.2 L237.0,715.9 L238.0,716.6 L239.0,717.2 L240.0,717.9 L241.0,718.6 L242.0,719.2 L243.0,719.9 L244.0,720.5 L245.0,721.2 L246.0,721.8 L247.0,722.5 L248.0,723.1 L249.0,723.7 L250.0,724.4 L251.0,725.0 L252.0,725.6 L253.0,726.2 L254.0,726.8 L255.0,727.4 L256.0,728.0 L257.0,728.6 L258.0,729.2 L259.0,729.8 L260.0,730.4 L261.0,731.0 L262.0,731.6 L263.0,732.2 L264.0,732.8 L265.0,733.3 L266.0,733.9 L267.0,734.5 L268.0,735.0 L269.0,735.6 L270.0,736.1 L271.0,736.7 L272.0,737.3 L273.0,737.8 L274.0,738.3 L275.0,738.9 L276.0,739.4 L277.0,740.0 L278.0,740.5 L279.0,741.0 L280.0,741.5 L281.0,742.1 L282.0,742.6 L283.0,743.1 L284.0,743.6 L285.0,744.1 L286.0,744.7 L287.0,745.2 L288.0,745.7 L289.0,746.2 L290.0,746.7 L291.0,747.2 L292.0,747.7 L293.0,748.2 L294.0,748.6 L295.0,749.1 L296.0,749.6 L297.0,750.1 L298.0,750.6 L299.0,751.1 L300.0,751.5 L301.0,752.0 L302.0,752.5 L303.0,753.0 L304.0,753.4 L305.0,753.9 L306.0,754.3 L307.0,754.8 L308.0,755.3 L309.0,755.7 L310.0,756.2 L311.0,756.6 L312.0,757.1 L313.0,757.5 L314.0,758.0 L315.0,758.4 L316.0,758.9 L317.0,759.3 L318.0,759.8 L319.0,760.2 L320.0,760.6 L321.0,761.1 L322.0,761.5 L323.0,762.0 L324.0,762.4 L325.0,762.8 L326.0,763.2 L327.0,763.7 L328.0,764.1 L329.0,764.5 L330.0,764.9 L331.0,765.4 L332.0,765.8 L333.0,766.2 L334.0,766.6 L335.0,767.1 L336.0,767.5 L337.0,767.9 L338.0,768.3 L339.0,768.7 L340.0,769.1 L341.0,769.5 L342.0,770.0 L343.0,770.4 L344.0,770.8 L345.0,771.2 L346.0,771.6 L347.0,772.0 L348.0,772.4 L349.0,772.8 L350.0,773.2 L350.7,773.5" stroke="#008000" stroke-dasharray="15.5 3.1"/>
<path d="M132.0,641.1 L133.0,641.6 L134.0,642.0 L135.0,642.5 L136.0,643.0 L137.0,643.5 L138.0,644.0 L139.0,644.5 L140.0,645.1 L141.0,645.6 L142.0,646.2 L143.0,646.7 L144.0,647.3 L145.0,647.9 L146.0,648.5 L147.0,649.1 L148.0,649.7 L149.0,650.3 L150.0,650.9 L151.0,651.5 L152.0,652.2 L153.0,652.8 L154.0,653.5 L155.0,654.1 L156.0,654.8 L157.0,655.5 L158.0,656.1 L159.0,656.8 L160.0,657.5 L161.0,658.2 L162.0,658.9 L163.0,659.6 L164.0,660.3 L165.0,661.0 L166.0,661.7 L167.0,662.5 L168.0,663.2 L169.0,663.9 L170.0,664.6 L171.0,665.4 L172.0,666.1 L173.0,666.9 L174.0,667.6 L175.0,668.4 L176.0,669.1 L177.0,669.9 L178.0,670.6 L179.0,671.4 L180.0,672.1 L181.0,672.9 L182.0,673.6 L183.0,674.4 L184.0,675.2 L185.0,675.9 L186.0,676.7 L187.0,677.5 L188.0,678.2 L189.0,679.0 L190.0,679.7 L191.0,680.5 L192.0,681.3 L193.0,682.0 L194.0,682.8 L195.0,683.5 L196.0,684.3 L197.0,685.0 L198.0,685.8 L199.0,686.5 L200.0,687.3 L201.0,688.0 L202.0,688.7 L203.0,689.5 L204.0,690.2 L205.0,690.9 L206.0,691.7 L207.0,692.4 L208.0,693.1 L209.0,693.8 L210.0,694.5 L211.0,695.2 L212.0,695.9 L213.0,696.6 L214.0,697.3 L215.0,697.9 L216.0,698.6 L217.0,699.3 L218.0,700.0 L219.0,700.6 L220.0,701.3 L221.0,701.9 L222.0,702.6 L223.0,703.2 L224.0,703.8 L225.0,704.5 L226.0,705.1 L227.0,705.7 L228.0,706.3 L229.0,706.9 L230.0,707.5 L231.0,708.1 L232.0,708.7 L233.0,709.3 L234.0,709.9 L235.0,710.5 L236.0,711.1 L237.0,711.6 L238.0,712.2 L239.0,712.7 L240.0,713.3 L241.0,713.8 L242.0,714.4 L243.0,714.9 L244.0,715.4 L245.0,715.9 L246.0,716.5 L247.0,717.0 L248.0,717.5 L249.0,718.0 L250.0,718.5 L251.0,718.9 L252.0,719.4 L253.0,719.9 L254.0,720.4 L255.0,720.8 L256.0,721.3 L257.0,721.7 L258.0,722.2 L259.0,722.6 L260.0,723.1 L261.0,723.5 L262.0,723.9 L263.0,724.4 L264.0,724.8 L265.0,725.2 L266.0,725.6 L267.0,726.0 L268.0,726.4 L269.0,726.8 L270.0,727.2 L271.0,727.6 L272.0,728.0 L273.0,728.3 L274.0,728.7 L275.0,729.1 L276.0,729.5 L277.0,729.8 L278.0,730.2 L279.0,730.5 L280.0,730.9 L281.0,731.2 L282.0,731.6 L283.0,731.9 L284.0,732.3 L285.0,732.6 L286.0,732.9 L287.0,733.3 L288.0,733.6 L289.0,733.9 L290.0,734.2 L291.0,734.5 L292.0,734.9 L293.0,735.2 L294.0,735.5 L295.0,735.8 L296.0,736.1 L297.0,736.4 L298.0,736.7 L299.0,737.0 L300.0,737.3 L301.0,737.6 L302.0,737.9 L303.0,738.2 L304.0,738.4 L305.0,738.7 L306.0,739.0 L307.0,739.3 L308.0,739.6 L309.0,739.9 L310.0,740.1 L311.0,740.4 L312.0,740.7 L313.0,741.0 L314.0,741.2 L315.0,741.5 L316.0,741.8 L317.0,742.0 L318.0,742.3 L319.0,742.6 L320.0,742.8 L321.0,743.1 L322.0,743.4 L323.0,743.6 L324.0,743.9 L325.0,744.2 L326.0,744.4 L327.0,744.7 L328.0,745.0 L329.0,745.2 L330.0,745.5 L331.0,745.7 L332.0,746.0 L333.0,746.3 L334.0,746.5 L335.0,746.8 L336.0,747.1 L337.0,747.3 L338.0,747.6 L339.0,747.8 L340.0,748.1 L341.0,748.4 L342.0,748.6 L343.0,748.9 L344.0,749.2 L345.0,749.4 L346.0,749.7 L347.0,750.0 L348.0,750.3 L349.0,750.5 L350.0,750.8 L350.7,751.0" stroke="#008000" stroke-dasharray="2.0 3.15"/>
<path d="M132.0,622.9 L133.0,623.4 L134.0,624.0 L135.0,624.6 L136.0,625.1 L137.0,625.7 L138.0,626.2 L139.0,626.8 L140.0,627.4 L141.0,628.0 L142.0,628.6 L143.0,629.2 L144.0,629.9 L145.0,630.6 L146.0,631.3 L147.0,632.1 L148.0,632.9 L149.0,633.7 L150.0,634.5 L151.0,635.4 L152.0,636.3 L153.0,637.2 L154.0,638.2 L155.0,639.1 L156.0,640.1 L157.0,641.1 L158.0,642.1 L159.0,643.1 L160.0,644.1 L161.0,645.2 L162.0,646.2 L163.0,647.2 L164.0,648.3 L165.0,649.3 L166.0,650.3 L167.0,651.4 L168.0,652.4 L169.0,653.5 L170.0,654.5 L171.0,655.6 L172.0,656.6 L173.0,657.7 L174.0,658.8 L175.0,659.8 L176.0,660.9 L177.0,662.0 L178.0,663.0 L179.0,664.1 L180.0,665.1 L181.0,666.2 L182.0,667.3 L183.0,668.3 L184.0,669.4 L185.0,670.5 L186.0,671.5 L187.0,672.6 L188.0,673.7 L189.0,674.7 L190.0,675.8 L191.0,676.8 L192.0,677.9 L193.0,679.0 L194.0,680.0 L195.0,681.1 L196.0,682.1 L197.0,683.1 L198.0,684.2 L199.0,685.2 L200.0,686.2 L201.0,687.3 L202.0,688.3 L203.0,689.3 L204.0,690.3 L205.0,691.4 L206.0,692.4 L207.0,693.4 L208.0,694.4 L209.0,695.4 L210.0,696.4 L211.0,697.4 L212.0,698.4 L213.0,699.3 L214.0,700.3 L215.0,701.3 L216.0,702.3 L217.0,703.3 L218.0,704.2 L219.0,705.2 L220.0,706.1 L221.0,707.1 L222.0,708.1 L223.0,709.0 L224.0,709.9 L225.0,710.9 L226.0,711.8 L227.0,712.7 L228.0,713.7 L229.0,714.6 L230.0,715.5 L231.0,716.4 L232.0,717.3 L233.0,718.2 L234.0,719.1 L235.0,720.0 L236.0,720.9 L237.0,721.8 L238.0,722.7 L239.0,723.6 L240.0,724.4 L241.0,725.3 L242.0,726.2 L243.0,727.0 L244.0,727.9 L245.0,728.7 L246.0,729.6 L247.0,730.4 L248.0,731.2 L249.0,732.1 L250.0,732.9 L251.0,733.7 L252.0,734.5 L253.0,735.3 L254.0,736.1 L255.0,736.9 L256.0,737.7 L257.0,738.5 L258.0,739.3 L259.0,740.1 L260.0,740.9 L261.0,741.6 L262.0,742.4 L263.0,743.2 L264.0,743.9 L265.0,744.7 L266.0,745.4 L267.0,746.2 L268.0,746.9 L269.0,747.6 L270.0,748.4 L271.0,749.1 L272.0,749.8 L273.0,750.5 L274.0,751.3 L275.0,752.0 L276.0,752.7 L277.0,753.4 L278.0,754.1 L279.0,754.8 L280.0,755.5 L281.0,756.2 L282.0,756.8 L283.0,757.5 L284.0,758.2 L285.0,758.9 L286.0,759.6 L287.0,760.2 L288.0,760.9 L289.0,761.5 L290.0,762.2 L291.0,762.9 L292.0,763.5 L293.0,764.2 L294.0,764.8 L295.0,765.5 L296.0,766.1 L297.0,766.7 L298.0,767.4 L299.0,768.0 L300.0,768.6 L301.0,769.2 L302.0,769.9 L303.0,770.5 L304.0,771.1 L305.0,771.7 L306.0,772.3 L307.0,772.9 L308.0,773.6 L309.0,774.2 L310.0,774.8 L311.0,775.4 L312.0,776.0 L313.0,776.6 L314.0,777.2 L315.0,777.7 L316.0,778.3 L317.0,778.9 L318.0,779.5 L319.0,780.1 L320.0,780.7 L321.0,781.3 L322.0,781.8 L323.0,782.4 L324.0,783.0 L325.0,783.6 L326.0,784.1 L327.0,784.7 L328.0,785.3 L329.0,785.8 L330.0,786.4 L331.0,787.0 L332.0,787.5 L333.0,788.1 L334.0,788.7 L335.0,789.2 L336.0,789.8 L337.0,790.3 L338.0,790.9 L339.0,791.5 L340.0,792.0 L341.0,792.6 L342.0,793.1 L342.7,793.5" stroke="#ff0000" stroke-dasharray="15.2 3.1 3.3 15.0"/>
<path d="M132.0,622.9 L133.0,623.4 L134.0,623.9 L135.0,624.5 L136.0,625.0 L137.0,625.6 L138.0,626.2 L139.0,626.7 L140.0,627.3 L141.0,628.0 L142.0,628.6 L143.0,629.3 L144.0,630.0 L145.0,630.7 L146.0,631.4 L147.0,632.2 L148.0,633.0 L149.0,633.8 L150.0,634.6 L151.0,635.5 L152.0,636.4 L153.0,637.3 L154.0,638.2 L155.0,639.1 L156.0,640.1 L157.0,641.1 L158.0,642.1 L159.0,643.1 L160.0,644.1 L161.0,645.1 L162.0,646.2 L163.0,647.2 L164.0,648.3 L165.0,649.3 L166.0,650.4 L167.0,651.5 L168.0,652.6 L169.0,653.6 L170.0,654.7 L171.0,655.8 L172.0,656.9 L173.0,658.0 L174.0,659.0 L175.0,660.1 L176.0,661.2 L177.0,662.2 L178.0,663.3 L179.0,664.4 L180.0,665.4 L181.0,666.5 L182.0,667.5 L183.0,668.6 L184.0,669.6 L185.0,670.6 L186.0,671.7 L187.0,672.7 L188.0,673.7 L189.0,674.7 L190.0,675.7 L191.0,676.7 L192.0,677.7 L193.0,678.7 L194.0,679.7 L195.0,680.6 L196.0,681.6 L197.0,682.6 L198.0,683.5 L199.0,684.5 L200.0,685.4 L201.0,686.4 L202.0,687.3 L203.0,688.2 L204.0,689.1 L205.0,690.1 L206.0,691.0 L207.0,691.9 L208.0,692.8 L209.0,693.7 L210.0,694.5 L211.0,695.4 L212.0,696.3 L213.0,697.2 L214.0,698.0 L215.0,698.9 L216.0,699.7 L217.0,700.6 L218.0,701.4 L219.0,702.2 L220.0,703.0 L221.0,703.8 L222.0,704.6 L223.0,705.4 L224.0,706.2 L225.0,707.0 L226.0,707.8 L227.0,708.6 L228.0,709.3 L229.0,710.1 L230.0,710.8 L231.0,711.6 L232.0,712.3 L233.0,713.1 L234.0,713.8 L235.0,714.5 L236.0,715.2 L237.0,715.9 L238.0,716.6 L239.0,717.3 L240.0,718.0 L241.0,718.7 L242.0,719.4 L243.0,720.0 L244.0,720.7 L245.0,721.3 L246.0,722.0 L247.0,722.6 L248.0,723.3 L249.0,723.9 L250.0,724.6 L251.0,725.2 L252.0,725.8 L253.0,726.4 L254.0,727.0 L255.0,727.6 L256.0,728.2 L257.0,728.8 L258.0,729.4 L259.0,730.0 L260.0,730.6 L261.0,731.1 L262.0,731.7 L263.0,732.3 L264.0,732.8 L265.0,733.4 L266.0,733.9 L267.0,734.5 L268.0,735.0 L269.0,735.5 L270.0,736.1 L271.0,736.6 L272.0,737.1 L273.0,737.6 L274.0,738.1 L275.0,738.6 L276.0,739.1 L277.0,739.6 L278.0,740.1 L279.0,740.6 L280.0,741.1 L281.0,741.6 L282.0,742.1 L283.0,742.5 L284.0,743.0 L285.0,743.5 L286.0,743.9 L287.0,744.4 L288.0,744.8 L289.0,745.3 L290.0,745.7 L291.0,746.2 L292.0,746.6 L293.0,747.0 L294.0,747.5 L295.0,747.9 L296.0,748.3 L297.0,748.7 L298.0,749.2 L299.0,749.6 L300.0,750.0 L301.0,750.4 L302.0,750.8 L303.0,751.2 L304.0,751.6 L305.0,752.0 L306.0,752.4 L307.0,752.8 L308.0,753.2 L309.0,753.6 L310.0,753.9 L311.0,754.3 L312.0,754.7 L313.0,755.1 L314.0,755.4 L315.0,755.8 L316.0,756.2 L317.0,756.5 L318.0,756.9 L319.0,757.3 L320.0,757.6 L321.0,758.0 L322.0,758.3 L323.0,758.7 L324.0,759.0 L325.0,759.4 L326.0,759.7 L327.0,760.1 L328.0,760.4 L329.0,760.7 L330.0,761.1 L331.0,761.4 L332.0,761.8 L333.0,762.1 L334.0,762.4 L335.0,762.7 L336.0,763.1 L337.0,763.4 L338.0,763.7 L339.0,764.0 L340.0,764.4 L341.0,764.7 L342.0,765.0 L343.0,765.3 L344.0,765.6 L345.0,766.0 L346.0,766.3 L347.0,766.6 L348.0,766.9 L349.0,767.2 L350.0,767.5 L350.7,767.8" stroke="#ff0000" stroke-dasharray="2.0 3.15"/>
</g>
<path d="M132.2,791.2v-6.2M132.2,594.0v6.2M150.3,791.2v-3.1M150.3,594.0v3.1M168.5,791.2v-6.2M168.5,594.0v6.2M186.6,791.2v-3.1M186.6,594.0v3.1M204.8,791.2v-6.2M204.8,594.0v6.2M222.9,791.2v-3.1M222.9,594.0v3.1M241.1,791.2v-6.2M241.1,594.0v6.2M259.2,791.2v-3.1M259.2,594.0v3.1M277.4,791.2v-6.2M277.4,594.0v6.2M295.5,791.2v-3.1M295.5,594.0v3.1M313.7,791.2v-6.2M313.7,594.0v6.2M331.8,791.2v-3.1M331.8,594.0v3.1M349.9,791.2v-6.2M349.9,594.0v6.2M132.2,791.2h6.2M349.9,791.2h-6.2M132.2,769.3h3.1M349.9,769.3h-3.1M132.2,747.4h6.2M349.9,747.4h-6.2M132.2,725.5h3.1M349.9,725.5h-3.1M132.2,703.6h6.2M349.9,703.6h-6.2M132.2,681.6h3.1M349.9,681.6h-3.1M132.2,659.7h6.2M349.9,659.7h-6.2M132.2,637.8h3.1M349.9,637.8h-3.1M132.2,615.9h6.2M349.9,615.9h-6.2M132.2,594.0h3.1M349.9,594.0h-3.1" stroke="#000" stroke-width="1.8" fill="none"/>
<rect x="132.2" y="594.0" width="217.8" height="197.2" fill="none" stroke="#000" stroke-width="1.9"/>
<text x="122.0" y="796.4" font-size="17" text-anchor="end" textLength="34.4" lengthAdjust="spacingAndGlyphs">3000</text>
<text x="122.0" y="752.6" font-size="17" text-anchor="end" textLength="34.4" lengthAdjust="spacingAndGlyphs">3200</text>
<text x="122.0" y="708.8" font-size="17" text-anchor="end" textLength="34.4" lengthAdjust="spacingAndGlyphs">3400</text>
<text x="122.0" y="664.9" font-size="17" text-anchor="end" textLength="34.4" lengthAdjust="spacingAndGlyphs">3600</text>
<text x="122.0" y="621.1" font-size="17" text-anchor="end" textLength="34.4" lengthAdjust="spacingAndGlyphs">3800</text>
<text x="132.2" y="812.5" font-size="17" text-anchor="middle" textLength="9.3" lengthAdjust="spacingAndGlyphs">0</text>
<text x="168.5" y="812.5" font-size="17" text-anchor="middle" textLength="9.3" lengthAdjust="spacingAndGlyphs">1</text>
<text x="204.8" y="812.5" font-size="17" text-anchor="middle" textLength="9.3" lengthAdjust="spacingAndGlyphs">2</text>
<text x="241.1" y="812.5" font-size="17" text-anchor="middle" textLength="9.3" lengthAdjust="spacingAndGlyphs">3</text>
<text x="277.4" y="812.5" font-size="17" text-anchor="middle" textLength="9.3" lengthAdjust="spacingAndGlyphs">4</text>
<text x="313.7" y="812.5" font-size="17" text-anchor="middle" textLength="9.3" lengthAdjust="spacingAndGlyphs">5</text>
<text x="349.9" y="812.5" font-size="17" text-anchor="middle" textLength="9.3" lengthAdjust="spacingAndGlyphs">6</text>
<rect x="206.2" y="631.4" width="134.0" height="37.3" fill="#fff" stroke="#000" stroke-width="2.2"/>
<text x="218.6" y="656.8" font-size="20" textLength="107.6" lengthAdjust="spacingAndGlyphs" xml:space="preserve">T=150 MeV</text>
<text x="218.2" y="831.8" font-size="19" class="it" textLength="11.2" lengthAdjust="spacingAndGlyphs">ρ</text>
<text x="229.5" y="835.1" font-size="12" textLength="9.2" lengthAdjust="spacingAndGlyphs" stroke="#000" stroke-width="0.25">B</text>
<text x="238.8" y="831.9" font-size="19" textLength="6.6" lengthAdjust="spacingAndGlyphs" stroke="#000" stroke-width="0.5">/</text>
<text x="245.8" y="831.8" font-size="19" class="it" textLength="11.2" lengthAdjust="spacingAndGlyphs">ρ</text>
<text x="256.5" y="836.1" font-size="14.6" textLength="7.6" lengthAdjust="spacingAndGlyphs">0</text>
<text x="142.8" y="617.9" font-size="20" textLength="23.6" lengthAdjust="spacingAndGlyphs">(e)</text>
</g>
<g id="panel-f">
<clipPath id="clipf"><rect x="480.5" y="594.0" width="217.4" height="197.2"/></clipPath>
<g clip-path="url(#clipf)" fill="none" stroke-width="2.1">
<path d="M480.5,770.5 L481.5,770.6 L482.5,770.6 L483.5,770.7 L484.5,770.8 L485.5,770.8 L486.5,770.9 L487.5,771.0 L488.5,771.0 L489.5,771.1 L490.5,771.1 L491.5,771.2 L492.5,771.3 L493.5,771.3 L494.5,771.4 L495.5,771.5 L496.5,771.5 L497.5,771.6 L498.5,771.6 L499.5,771.7 L500.5,771.8 L501.5,771.8 L502.5,771.9 L503.5,771.9 L504.5,772.0 L505.5,772.0 L506.5,772.1 L507.5,772.2 L508.5,772.2 L509.5,772.3 L510.5,772.3 L511.5,772.4 L512.5,772.4 L513.5,772.5 L514.5,772.5 L515.5,772.6 L516.5,772.6 L517.5,772.7 L518.5,772.8 L519.5,772.8 L520.5,772.9 L521.5,772.9 L522.5,773.0 L523.5,773.0 L524.5,773.1 L525.5,773.1 L526.5,773.2 L527.5,773.2 L528.5,773.3 L529.5,773.3 L530.5,773.4 L531.5,773.4 L532.5,773.5 L533.5,773.5 L534.5,773.6 L535.5,773.6 L536.5,773.7 L537.5,773.7 L538.5,773.7 L539.5,773.8 L540.5,773.8 L541.5,773.9 L542.5,773.9 L543.5,774.0 L544.5,774.0 L545.5,774.1 L546.5,774.1 L547.5,774.2 L548.5,774.2 L549.5,774.2 L550.5,774.3 L551.5,774.3 L552.5,774.4 L553.5,774.4 L554.5,774.5 L555.5,774.5 L556.5,774.5 L557.5,774.6 L558.5,774.6 L559.5,774.7 L560.5,774.7 L561.5,774.8 L562.5,774.8 L563.5,774.8 L564.5,774.9 L565.5,774.9 L566.5,775.0 L567.5,775.0 L568.5,775.0 L569.5,775.1 L570.5,775.1 L571.5,775.2 L572.5,775.2 L573.5,775.2 L574.5,775.3 L575.5,775.3 L576.5,775.3 L577.5,775.4 L578.5,775.4 L579.5,775.5 L580.5,775.5 L581.5,775.5 L582.5,775.6 L583.5,775.6 L584.5,775.6 L585.5,775.7 L586.5,775.7 L587.5,775.8 L588.5,775.8 L589.5,775.8 L590.5,775.9 L591.5,775.9 L592.5,775.9 L593.5,776.0 L594.5,776.0 L595.5,776.0 L596.5,776.1 L597.5,776.1 L598.5,776.1 L599.5,776.2 L600.5,776.2 L601.5,776.3 L602.5,776.3 L603.5,776.3 L604.5,776.4 L605.5,776.4 L606.5,776.4 L607.5,776.5 L608.5,776.5 L609.5,776.5 L610.5,776.6 L611.5,776.6 L612.5,776.6 L613.5,776.7 L614.5,776.7 L615.5,776.7 L616.5,776.8 L617.5,776.8 L618.5,776.8 L619.5,776.9 L620.5,776.9 L621.5,776.9 L622.5,776.9 L623.5,777.0 L624.5,777.0 L625.5,777.0 L626.5,777.1 L627.5,777.1 L628.5,777.1 L629.5,777.2 L630.5,777.2 L631.5,777.2 L632.5,777.3 L633.5,777.3 L634.5,777.3 L635.5,777.4 L636.5,777.4 L637.5,777.4 L638.5,777.5 L639.5,777.5 L640.5,777.5 L641.5,777.6 L642.5,777.6 L643.5,777.6 L644.5,777.6 L645.5,777.7 L646.5,777.7 L647.5,777.7 L648.5,777.8 L649.5,777.8 L650.5,777.8 L651.5,777.9 L652.5,777.9 L653.5,777.9 L654.5,778.0 L655.5,778.0 L656.5,778.0 L657.5,778.0 L658.5,778.1 L659.5,778.1 L660.5,778.1 L661.5,778.2 L662.5,778.2 L663.5,778.2 L664.5,778.3 L665.5,778.3 L666.5,778.3 L667.5,778.4 L668.5,778.4 L669.5,778.4 L670.5,778.5 L671.5,778.5 L672.5,778.5 L673.5,778.5 L674.5,778.6 L675.5,778.6 L676.5,778.6 L677.5,778.7 L678.5,778.7 L679.5,778.7 L680.5,778.8 L681.5,778.8 L682.5,778.8 L683.5,778.9 L684.5,778.9 L685.5,778.9 L686.5,779.0 L687.5,779.0 L688.5,779.0 L689.5,779.1 L690.5,779.1 L691.5,779.1 L692.5,779.2 L693.5,779.2 L694.5,779.2 L695.5,779.3 L696.5,779.3 L697.5,779.3 L698.5,779.4 L699.0,779.4" stroke="#0000ff" stroke-dasharray="7 1.75"/>
<path d="M480.5,770.5 L481.5,770.6 L482.5,770.6 L483.5,770.7 L484.5,770.7 L485.5,770.8 L486.5,770.9 L487.5,770.9 L488.5,771.0 L489.5,771.0 L490.5,771.1 L491.5,771.1 L492.5,771.2 L493.5,771.3 L494.5,771.3 L495.5,771.4 L496.5,771.4 L497.5,771.5 L498.5,771.6 L499.5,771.6 L500.5,771.7 L501.5,771.7 L502.5,771.8 L503.5,771.8 L504.5,771.9 L505.5,771.9 L506.5,772.0 L507.5,772.1 L508.5,772.1 L509.5,772.2 L510.5,772.2 L511.5,772.3 L512.5,772.3 L513.5,772.4 L514.5,772.4 L515.5,772.5 L516.5,772.5 L517.5,772.6 L518.5,772.6 L519.5,772.7 L520.5,772.7 L521.5,772.8 L522.5,772.9 L523.5,772.9 L524.5,773.0 L525.5,773.0 L526.5,773.1 L527.5,773.1 L528.5,773.2 L529.5,773.2 L530.5,773.3 L531.5,773.3 L532.5,773.4 L533.5,773.4 L534.5,773.5 L535.5,773.5 L536.5,773.5 L537.5,773.6 L538.5,773.6 L539.5,773.7 L540.5,773.7 L541.5,773.8 L542.5,773.8 L543.5,773.9 L544.5,773.9 L545.5,774.0 L546.5,774.0 L547.5,774.1 L548.5,774.1 L549.5,774.2 L550.5,774.2 L551.5,774.3 L552.5,774.3 L553.5,774.4 L554.5,774.4 L555.5,774.4 L556.5,774.5 L557.5,774.5 L558.5,774.6 L559.5,774.6 L560.5,774.7 L561.5,774.7 L562.5,774.8 L563.5,774.8 L564.5,774.9 L565.5,774.9 L566.5,774.9 L567.5,775.0 L568.5,775.0 L569.5,775.1 L570.5,775.1 L571.5,775.2 L572.5,775.2 L573.5,775.2 L574.5,775.3 L575.5,775.3 L576.5,775.4 L577.5,775.4 L578.5,775.4 L579.5,775.5 L580.5,775.5 L581.5,775.6 L582.5,775.6 L583.5,775.6 L584.5,775.7 L585.5,775.7 L586.5,775.7 L587.5,775.8 L588.5,775.8 L589.5,775.9 L590.5,775.9 L591.5,775.9 L592.5,776.0 L593.5,776.0 L594.5,776.0 L595.5,776.1 L596.5,776.1 L597.5,776.1 L598.5,776.2 L599.5,776.2 L600.5,776.2 L601.5,776.3 L602.5,776.3 L603.5,776.3 L604.5,776.4 L605.5,776.4 L606.5,776.4 L607.5,776.5 L608.5,776.5 L609.5,776.5 L610.5,776.6 L611.5,776.6 L612.5,776.6 L613.5,776.7 L614.5,776.7 L615.5,776.7 L616.5,776.7 L617.5,776.8 L618.5,776.8 L619.5,776.8 L620.5,776.9 L621.5,776.9 L622.5,776.9 L623.5,776.9 L624.5,777.0 L625.5,777.0 L626.5,777.0 L627.5,777.1 L628.5,777.1 L629.5,777.1 L630.5,777.1 L631.5,777.2 L632.5,777.2 L633.5,777.2 L634.5,777.3 L635.5,777.3 L636.5,777.3 L637.5,777.3 L638.5,777.4 L639.5,777.4 L640.5,777.4 L641.5,777.4 L642.5,777.5 L643.5,777.5 L644.5,777.5 L645.5,777.5 L646.5,777.6 L647.5,777.6 L648.5,777.6 L649.5,777.6 L650.5,777.7 L651.5,777.7 L652.5,777.7 L653.5,777.7 L654.5,777.8 L655.5,777.8 L656.5,777.8 L657.5,777.8 L658.5,777.9 L659.5,777.9 L660.5,777.9 L661.5,777.9 L662.5,778.0 L663.5,778.0 L664.5,778.0 L665.5,778.0 L666.5,778.1 L667.5,778.1 L668.5,778.1 L669.5,778.1 L670.5,778.2 L671.5,778.2 L672.5,778.2 L673.5,778.2 L674.5,778.2 L675.5,778.3 L676.5,778.3 L677.5,778.3 L678.5,778.3 L679.5,778.4 L680.5,778.4 L681.5,778.4 L682.5,778.4 L683.5,778.4 L684.5,778.5 L685.5,778.5 L686.5,778.5 L687.5,778.5 L688.5,778.5 L689.5,778.6 L690.5,778.6 L691.5,778.6 L692.5,778.6 L693.5,778.6 L694.5,778.7 L695.5,778.7 L696.5,778.7 L697.5,778.7 L698.5,778.7 L699.0,778.8" stroke="#0000ff" stroke-dasharray="2.0 3.15"/>
<path d="M480.5,631.5 L481.5,631.6 L482.5,631.8 L483.5,632.1 L484.5,632.3 L485.5,632.6 L486.5,633.0 L487.5,633.3 L488.5,633.7 L489.5,634.2 L490.5,634.6 L491.5,635.1 L492.5,635.6 L493.5,636.2 L494.5,636.7 L495.5,637.3 L496.5,637.9 L497.5,638.5 L498.5,639.2 L499.5,639.8 L500.5,640.5 L501.5,641.2 L502.5,641.9 L503.5,642.6 L504.5,643.3 L505.5,644.1 L506.5,644.8 L507.5,645.6 L508.5,646.3 L509.5,647.1 L510.5,647.8 L511.5,648.6 L512.5,649.4 L513.5,650.1 L514.5,650.9 L515.5,651.6 L516.5,652.4 L517.5,653.2 L518.5,653.9 L519.5,654.7 L520.5,655.4 L521.5,656.2 L522.5,657.0 L523.5,657.7 L524.5,658.5 L525.5,659.3 L526.5,660.1 L527.5,660.8 L528.5,661.6 L529.5,662.4 L530.5,663.2 L531.5,664.0 L532.5,664.8 L533.5,665.6 L534.5,666.4 L535.5,667.2 L536.5,668.0 L537.5,668.8 L538.5,669.6 L539.5,670.4 L540.5,671.3 L541.5,672.1 L542.5,672.9 L543.5,673.8 L544.5,674.6 L545.5,675.4 L546.5,676.3 L547.5,677.1 L548.5,677.9 L549.5,678.8 L550.5,679.6 L551.5,680.5 L552.5,681.3 L553.5,682.2 L554.5,683.0 L555.5,683.9 L556.5,684.7 L557.5,685.6 L558.5,686.4 L559.5,687.2 L560.5,688.1 L561.5,688.9 L562.5,689.8 L563.5,690.6 L564.5,691.5 L565.5,692.3 L566.5,693.1 L567.5,694.0 L568.5,694.8 L569.5,695.6 L570.5,696.5 L571.5,697.3 L572.5,698.1 L573.5,699.0 L574.5,699.8 L575.5,700.6 L576.5,701.4 L577.5,702.2 L578.5,703.0 L579.5,703.8 L580.5,704.6 L581.5,705.4 L582.5,706.2 L583.5,707.0 L584.5,707.8 L585.5,708.5 L586.5,709.3 L587.5,710.1 L588.5,710.8 L589.5,711.6 L590.5,712.4 L591.5,713.1 L592.5,713.9 L593.5,714.6 L594.5,715.4 L595.5,716.1 L596.5,716.9 L597.5,717.6 L598.5,718.3 L599.5,719.1 L600.5,719.8 L601.5,720.5 L602.5,721.2 L603.5,722.0 L604.5,722.7 L605.5,723.4 L606.5,724.1 L607.5,724.8 L608.5,725.5 L609.5,726.2 L610.5,726.9 L611.5,727.6 L612.5,728.3 L613.5,728.9 L614.5,729.6 L615.5,730.3 L616.5,731.0 L617.5,731.7 L618.5,732.3 L619.5,733.0 L620.5,733.7 L621.5,734.3 L622.5,735.0 L623.5,735.6 L624.5,736.3 L625.5,736.9 L626.5,737.6 L627.5,738.2 L628.5,738.9 L629.5,739.5 L630.5,740.1 L631.5,740.8 L632.5,741.4 L633.5,742.0 L634.5,742.7 L635.5,743.3 L636.5,743.9 L637.5,744.5 L638.5,745.1 L639.5,745.7 L640.5,746.3 L641.5,746.9 L642.5,747.6 L643.5,748.2 L644.5,748.7 L645.5,749.3 L646.5,749.9 L647.5,750.5 L648.5,751.1 L649.5,751.7 L650.5,752.3 L651.5,752.9 L652.5,753.4 L653.5,754.0 L654.5,754.6 L655.5,755.2 L656.5,755.7 L657.5,756.3 L658.5,756.9 L659.5,757.4 L660.5,758.0 L661.5,758.5 L662.5,759.1 L663.5,759.6 L664.5,760.2 L665.5,760.7 L666.5,761.3 L667.5,761.8 L668.5,762.4 L669.5,762.9 L670.5,763.4 L671.5,764.0 L672.5,764.5 L673.5,765.0 L674.5,765.6 L675.5,766.1 L676.5,766.6 L677.5,767.1 L678.5,767.7 L679.5,768.2 L680.5,768.7 L681.5,769.2 L682.5,769.7 L683.5,770.2 L684.5,770.7 L685.5,771.2 L686.5,771.8 L687.5,772.3 L688.5,772.8 L689.5,773.3 L690.5,773.8 L691.5,774.2 L692.5,774.7 L693.5,775.2 L694.0,775.5" stroke="#000000"/>
<path d="M480.5,631.5 L481.5,631.6 L482.5,631.7 L483.5,631.8 L484.5,632.0 L485.5,632.2 L486.5,632.4 L487.5,632.6 L488.5,632.9 L489.5,633.1 L490.5,633.4 L491.5,633.7 L492.5,634.1 L493.5,634.4 L494.5,634.7 L495.5,635.1 L496.5,635.5 L497.5,635.9 L498.5,636.3 L499.5,636.8 L500.5,637.2 L501.5,637.7 L502.5,638.1 L503.5,638.6 L504.5,639.1 L505.5,639.6 L506.5,640.2 L507.5,640.7 L508.5,641.3 L509.5,641.8 L510.5,642.4 L511.5,643.0 L512.5,643.6 L513.5,644.2 L514.5,644.8 L515.5,645.4 L516.5,646.0 L517.5,646.6 L518.5,647.3 L519.5,647.9 L520.5,648.6 L521.5,649.2 L522.5,649.9 L523.5,650.5 L524.5,651.2 L525.5,651.9 L526.5,652.6 L527.5,653.2 L528.5,653.9 L529.5,654.6 L530.5,655.3 L531.5,656.0 L532.5,656.7 L533.5,657.4 L534.5,658.1 L535.5,658.8 L536.5,659.5 L537.5,660.2 L538.5,660.9 L539.5,661.6 L540.5,662.3 L541.5,663.0 L542.5,663.7 L543.5,664.4 L544.5,665.2 L545.5,665.9 L546.5,666.6 L547.5,667.3 L548.5,668.0 L549.5,668.7 L550.5,669.4 L551.5,670.1 L552.5,670.8 L553.5,671.5 L554.5,672.2 L555.5,672.9 L556.5,673.6 L557.5,674.3 L558.5,675.0 L559.5,675.7 L560.5,676.4 L561.5,677.1 L562.5,677.8 L563.5,678.5 L564.5,679.2 L565.5,679.9 L566.5,680.5 L567.5,681.2 L568.5,681.9 L569.5,682.5 L570.5,683.2 L571.5,683.9 L572.5,684.5 L573.5,685.2 L574.5,685.8 L575.5,686.4 L576.5,687.1 L577.5,687.7 L578.5,688.3 L579.5,688.9 L580.5,689.5 L581.5,690.1 L582.5,690.7 L583.5,691.3 L584.5,691.9 L585.5,692.5 L586.5,693.1 L587.5,693.7 L588.5,694.2 L589.5,694.8 L590.5,695.4 L591.5,695.9 L592.5,696.5 L593.5,697.0 L594.5,697.6 L595.5,698.1 L596.5,698.6 L597.5,699.2 L598.5,699.7 L599.5,700.2 L600.5,700.7 L601.5,701.2 L602.5,701.7 L603.5,702.2 L604.5,702.7 L605.5,703.2 L606.5,703.7 L607.5,704.2 L608.5,704.7 L609.5,705.2 L610.5,705.6 L611.5,706.1 L612.5,706.6 L613.5,707.1 L614.5,707.5 L615.5,708.0 L616.5,708.4 L617.5,708.9 L618.5,709.3 L619.5,709.8 L620.5,710.2 L621.5,710.6 L622.5,711.1 L623.5,711.5 L624.5,711.9 L625.5,712.3 L626.5,712.8 L627.5,713.2 L628.5,713.6 L629.5,714.0 L630.5,714.4 L631.5,714.8 L632.5,715.2 L633.5,715.6 L634.5,716.0 L635.5,716.4 L636.5,716.8 L637.5,717.2 L638.5,717.6 L639.5,718.0 L640.5,718.4 L641.5,718.7 L642.5,719.1 L643.5,719.5 L644.5,719.9 L645.5,720.2 L646.5,720.6 L647.5,721.0 L648.5,721.3 L649.5,721.7 L650.5,722.1 L651.5,722.4 L652.5,722.8 L653.5,723.1 L654.5,723.5 L655.5,723.9 L656.5,724.2 L657.5,724.6 L658.5,724.9 L659.5,725.3 L660.5,725.6 L661.5,725.9 L662.5,726.3 L663.5,726.6 L664.5,727.0 L665.5,727.3 L666.5,727.7 L667.5,728.0 L668.5,728.3 L669.5,728.7 L670.5,729.0 L671.5,729.3 L672.5,729.7 L673.5,730.0 L674.5,730.3 L675.5,730.7 L676.5,731.0 L677.5,731.3 L678.5,731.6 L679.5,732.0 L680.5,732.3 L681.5,732.6 L682.5,733.0 L683.5,733.3 L684.5,733.6 L685.5,733.9 L686.5,734.3 L687.5,734.6 L688.5,734.9 L689.5,735.2 L690.5,735.6 L690.6,735.6" stroke="#000000" stroke-dasharray="2.0 3.15"/>
<path d="M480.5,641.1 L481.5,641.5 L482.5,642.0 L483.5,642.4 L484.5,642.8 L485.5,643.3 L486.5,643.8 L487.5,644.3 L488.5,644.8 L489.5,645.3 L490.5,645.8 L491.5,646.4 L492.5,646.9 L493.5,647.5 L494.5,648.1 L495.5,648.7 L496.5,649.3 L497.5,649.9 L498.5,650.5 L499.5,651.2 L500.5,651.8 L501.5,652.5 L502.5,653.1 L503.5,653.8 L504.5,654.5 L505.5,655.2 L506.5,655.9 L507.5,656.6 L508.5,657.3 L509.5,658.0 L510.5,658.8 L511.5,659.5 L512.5,660.3 L513.5,661.0 L514.5,661.8 L515.5,662.5 L516.5,663.3 L517.5,664.1 L518.5,664.8 L519.5,665.6 L520.5,666.4 L521.5,667.2 L522.5,668.0 L523.5,668.8 L524.5,669.6 L525.5,670.4 L526.5,671.2 L527.5,672.0 L528.5,672.8 L529.5,673.6 L530.5,674.4 L531.5,675.2 L532.5,676.1 L533.5,676.9 L534.5,677.7 L535.5,678.5 L536.5,679.3 L537.5,680.1 L538.5,680.9 L539.5,681.7 L540.5,682.5 L541.5,683.3 L542.5,684.1 L543.5,684.9 L544.5,685.7 L545.5,686.5 L546.5,687.3 L547.5,688.1 L548.5,688.9 L549.5,689.7 L550.5,690.5 L551.5,691.3 L552.5,692.0 L553.5,692.8 L554.5,693.6 L555.5,694.3 L556.5,695.1 L557.5,695.9 L558.5,696.6 L559.5,697.4 L560.5,698.2 L561.5,698.9 L562.5,699.7 L563.5,700.4 L564.5,701.1 L565.5,701.9 L566.5,702.6 L567.5,703.4 L568.5,704.1 L569.5,704.8 L570.5,705.5 L571.5,706.3 L572.5,707.0 L573.5,707.7 L574.5,708.4 L575.5,709.1 L576.5,709.8 L577.5,710.5 L578.5,711.2 L579.5,711.9 L580.5,712.6 L581.5,713.3 L582.5,714.0 L583.5,714.7 L584.5,715.4 L585.5,716.0 L586.5,716.7 L587.5,717.4 L588.5,718.0 L589.5,718.7 L590.5,719.4 L591.5,720.0 L592.5,720.7 L593.5,721.3 L594.5,721.9 L595.5,722.6 L596.5,723.2 L597.5,723.8 L598.5,724.5 L599.5,725.1 L600.5,725.7 L601.5,726.3 L602.5,726.9 L603.5,727.5 L604.5,728.1 L605.5,728.7 L606.5,729.3 L607.5,729.9 L608.5,730.5 L609.5,731.1 L610.5,731.7 L611.5,732.3 L612.5,732.9 L613.5,733.4 L614.5,734.0 L615.5,734.6 L616.5,735.1 L617.5,735.7 L618.5,736.2 L619.5,736.8 L620.5,737.3 L621.5,737.9 L622.5,738.4 L623.5,739.0 L624.5,739.5 L625.5,740.1 L626.5,740.6 L627.5,741.1 L628.5,741.6 L629.5,742.2 L630.5,742.7 L631.5,743.2 L632.5,743.7 L633.5,744.2 L634.5,744.7 L635.5,745.3 L636.5,745.8 L637.5,746.3 L638.5,746.8 L639.5,747.3 L640.5,747.8 L641.5,748.3 L642.5,748.7 L643.5,749.2 L644.5,749.7 L645.5,750.2 L646.5,750.7 L647.5,751.2 L648.5,751.6 L649.5,752.1 L650.5,752.6 L651.5,753.1 L652.5,753.5 L653.5,754.0 L654.5,754.5 L655.5,754.9 L656.5,755.4 L657.5,755.8 L658.5,756.3 L659.5,756.7 L660.5,757.2 L661.5,757.6 L662.5,758.1 L663.5,758.5 L664.5,759.0 L665.5,759.4 L666.5,759.9 L667.5,760.3 L668.5,760.7 L669.5,761.2 L670.5,761.6 L671.5,762.1 L672.5,762.5 L673.5,762.9 L674.5,763.3 L675.5,763.8 L676.5,764.2 L677.5,764.6 L678.5,765.1 L679.5,765.5 L680.5,765.9 L681.5,766.3 L682.5,766.7 L683.5,767.2 L684.5,767.6 L685.5,768.0 L686.5,768.4 L687.5,768.8 L688.5,769.2 L689.5,769.6 L690.5,770.0 L691.5,770.5 L692.5,770.9 L693.5,771.3 L694.5,771.7 L695.5,772.1 L696.5,772.5 L697.5,772.9 L698.5,773.3 L699.0,773.5" stroke="#008000" stroke-dasharray="15.5 3.1"/>
<path d="M480.5,641.1 L481.5,641.6 L482.5,642.1 L483.5,642.5 L484.5,643.0 L485.5,643.6 L486.5,644.1 L487.5,644.6 L488.5,645.1 L489.5,645.7 L490.5,646.3 L491.5,646.8 L492.5,647.4 L493.5,648.0 L494.5,648.6 L495.5,649.2 L496.5,649.8 L497.5,650.4 L498.5,651.0 L499.5,651.7 L500.5,652.3 L501.5,653.0 L502.5,653.6 L503.5,654.3 L504.5,654.9 L505.5,655.6 L506.5,656.3 L507.5,657.0 L508.5,657.7 L509.5,658.4 L510.5,659.1 L511.5,659.8 L512.5,660.5 L513.5,661.2 L514.5,661.9 L515.5,662.6 L516.5,663.4 L517.5,664.1 L518.5,664.8 L519.5,665.6 L520.5,666.3 L521.5,667.1 L522.5,667.8 L523.5,668.5 L524.5,669.3 L525.5,670.1 L526.5,670.8 L527.5,671.6 L528.5,672.3 L529.5,673.1 L530.5,673.8 L531.5,674.6 L532.5,675.4 L533.5,676.1 L534.5,676.9 L535.5,677.6 L536.5,678.4 L537.5,679.2 L538.5,679.9 L539.5,680.7 L540.5,681.4 L541.5,682.2 L542.5,683.0 L543.5,683.7 L544.5,684.5 L545.5,685.2 L546.5,686.0 L547.5,686.7 L548.5,687.4 L549.5,688.2 L550.5,688.9 L551.5,689.6 L552.5,690.4 L553.5,691.1 L554.5,691.8 L555.5,692.5 L556.5,693.2 L557.5,693.9 L558.5,694.6 L559.5,695.3 L560.5,696.0 L561.5,696.7 L562.5,697.4 L563.5,698.1 L564.5,698.8 L565.5,699.4 L566.5,700.1 L567.5,700.7 L568.5,701.4 L569.5,702.1 L570.5,702.7 L571.5,703.3 L572.5,704.0 L573.5,704.6 L574.5,705.2 L575.5,705.8 L576.5,706.4 L577.5,707.1 L578.5,707.7 L579.5,708.3 L580.5,708.8 L581.5,709.4 L582.5,710.0 L583.5,710.6 L584.5,711.2 L585.5,711.7 L586.5,712.3 L587.5,712.8 L588.5,713.4 L589.5,713.9 L590.5,714.5 L591.5,715.0 L592.5,715.5 L593.5,716.0 L594.5,716.5 L595.5,717.1 L596.5,717.6 L597.5,718.1 L598.5,718.5 L599.5,719.0 L600.5,719.5 L601.5,720.0 L602.5,720.4 L603.5,720.9 L604.5,721.4 L605.5,721.8 L606.5,722.3 L607.5,722.7 L608.5,723.1 L609.5,723.6 L610.5,724.0 L611.5,724.4 L612.5,724.8 L613.5,725.3 L614.5,725.7 L615.5,726.1 L616.5,726.5 L617.5,726.9 L618.5,727.3 L619.5,727.6 L620.5,728.0 L621.5,728.4 L622.5,728.8 L623.5,729.2 L624.5,729.5 L625.5,729.9 L626.5,730.2 L627.5,730.6 L628.5,731.0 L629.5,731.3 L630.5,731.6 L631.5,732.0 L632.5,732.3 L633.5,732.7 L634.5,733.0 L635.5,733.3 L636.5,733.7 L637.5,734.0 L638.5,734.3 L639.5,734.6 L640.5,734.9 L641.5,735.2 L642.5,735.5 L643.5,735.9 L644.5,736.2 L645.5,736.5 L646.5,736.8 L647.5,737.1 L648.5,737.4 L649.5,737.6 L650.5,737.9 L651.5,738.2 L652.5,738.5 L653.5,738.8 L654.5,739.1 L655.5,739.4 L656.5,739.6 L657.5,739.9 L658.5,740.2 L659.5,740.5 L660.5,740.8 L661.5,741.0 L662.5,741.3 L663.5,741.6 L664.5,741.8 L665.5,742.1 L666.5,742.4 L667.5,742.6 L668.5,742.9 L669.5,743.2 L670.5,743.4 L671.5,743.7 L672.5,744.0 L673.5,744.2 L674.5,744.5 L675.5,744.8 L676.5,745.0 L677.5,745.3 L678.5,745.5 L679.5,745.8 L680.5,746.1 L681.5,746.3 L682.5,746.6 L683.5,746.8 L684.5,747.1 L685.5,747.4 L686.5,747.6 L687.5,747.9 L688.5,748.2 L689.5,748.4 L690.5,748.7 L691.5,749.0 L692.5,749.2 L693.5,749.5 L694.5,749.8 L695.5,750.0 L696.5,750.3 L697.5,750.6 L698.5,750.9 L699.0,751.0" stroke="#008000" stroke-dasharray="2.0 3.15"/>
<path d="M480.5,622.9 L481.5,623.5 L482.5,624.1 L483.5,624.6 L484.5,625.2 L485.5,625.8 L486.5,626.3 L487.5,626.9 L488.5,627.5 L489.5,628.1 L490.5,628.7 L491.5,629.4 L492.5,630.0 L493.5,630.7 L494.5,631.5 L495.5,632.2 L496.5,633.0 L497.5,633.8 L498.5,634.7 L499.5,635.6 L500.5,636.5 L501.5,637.4 L502.5,638.4 L503.5,639.3 L504.5,640.3 L505.5,641.3 L506.5,642.3 L507.5,643.3 L508.5,644.4 L509.5,645.4 L510.5,646.4 L511.5,647.4 L512.5,648.5 L513.5,649.5 L514.5,650.6 L515.5,651.6 L516.5,652.6 L517.5,653.7 L518.5,654.8 L519.5,655.8 L520.5,656.9 L521.5,657.9 L522.5,659.0 L523.5,660.0 L524.5,661.1 L525.5,662.2 L526.5,663.2 L527.5,664.3 L528.5,665.4 L529.5,666.4 L530.5,667.5 L531.5,668.6 L532.5,669.6 L533.5,670.7 L534.5,671.8 L535.5,672.8 L536.5,673.9 L537.5,674.9 L538.5,676.0 L539.5,677.1 L540.5,678.1 L541.5,679.2 L542.5,680.2 L543.5,681.3 L544.5,682.3 L545.5,683.3 L546.5,684.4 L547.5,685.4 L548.5,686.4 L549.5,687.5 L550.5,688.5 L551.5,689.5 L552.5,690.5 L553.5,691.6 L554.5,692.6 L555.5,693.6 L556.5,694.6 L557.5,695.6 L558.5,696.6 L559.5,697.6 L560.5,698.6 L561.5,699.5 L562.5,700.5 L563.5,701.5 L564.5,702.5 L565.5,703.4 L566.5,704.4 L567.5,705.4 L568.5,706.3 L569.5,707.3 L570.5,708.2 L571.5,709.2 L572.5,710.1 L573.5,711.1 L574.5,712.0 L575.5,712.9 L576.5,713.9 L577.5,714.8 L578.5,715.7 L579.5,716.6 L580.5,717.5 L581.5,718.4 L582.5,719.3 L583.5,720.2 L584.5,721.1 L585.5,722.0 L586.5,722.9 L587.5,723.7 L588.5,724.6 L589.5,725.5 L590.5,726.3 L591.5,727.2 L592.5,728.1 L593.5,728.9 L594.5,729.7 L595.5,730.6 L596.5,731.4 L597.5,732.2 L598.5,733.1 L599.5,733.9 L600.5,734.7 L601.5,735.5 L602.5,736.3 L603.5,737.1 L604.5,737.9 L605.5,738.7 L606.5,739.5 L607.5,740.2 L608.5,741.0 L609.5,741.8 L610.5,742.6 L611.5,743.3 L612.5,744.1 L613.5,744.8 L614.5,745.6 L615.5,746.3 L616.5,747.1 L617.5,747.8 L618.5,748.5 L619.5,749.2 L620.5,750.0 L621.5,750.7 L622.5,751.4 L623.5,752.1 L624.5,752.8 L625.5,753.5 L626.5,754.2 L627.5,754.9 L628.5,755.6 L629.5,756.3 L630.5,757.0 L631.5,757.7 L632.5,758.3 L633.5,759.0 L634.5,759.7 L635.5,760.4 L636.5,761.0 L637.5,761.7 L638.5,762.3 L639.5,763.0 L640.5,763.6 L641.5,764.3 L642.5,764.9 L643.5,765.6 L644.5,766.2 L645.5,766.9 L646.5,767.5 L647.5,768.1 L648.5,768.7 L649.5,769.4 L650.5,770.0 L651.5,770.6 L652.5,771.2 L653.5,771.8 L654.5,772.5 L655.5,773.1 L656.5,773.7 L657.5,774.3 L658.5,774.9 L659.5,775.5 L660.5,776.1 L661.5,776.7 L662.5,777.3 L663.5,777.9 L664.5,778.5 L665.5,779.0 L666.5,779.6 L667.5,780.2 L668.5,780.8 L669.5,781.4 L670.5,782.0 L671.5,782.5 L672.5,783.1 L673.5,783.7 L674.5,784.3 L675.5,784.8 L676.5,785.4 L677.5,786.0 L678.5,786.5 L679.5,787.1 L680.5,787.7 L681.5,788.2 L682.5,788.8 L683.5,789.3 L684.5,789.9 L685.5,790.5 L686.5,791.0 L687.5,791.6 L688.5,792.1 L689.5,792.7 L690.5,793.2 L691.0,793.5" stroke="#ff0000" stroke-dasharray="15.2 3.1 3.3 15.0"/>
<path d="M480.5,622.9 L481.5,623.4 L482.5,624.0 L483.5,624.6 L484.5,625.1 L485.5,625.7 L486.5,626.3 L487.5,626.9 L488.5,627.5 L489.5,628.1 L490.5,628.8 L491.5,629.4 L492.5,630.1 L493.5,630.8 L494.5,631.6 L495.5,632.3 L496.5,633.1 L497.5,633.9 L498.5,634.8 L499.5,635.6 L500.5,636.5 L501.5,637.4 L502.5,638.4 L503.5,639.3 L504.5,640.3 L505.5,641.3 L506.5,642.3 L507.5,643.3 L508.5,644.3 L509.5,645.3 L510.5,646.4 L511.5,647.4 L512.5,648.5 L513.5,649.6 L514.5,650.6 L515.5,651.7 L516.5,652.8 L517.5,653.9 L518.5,654.9 L519.5,656.0 L520.5,657.1 L521.5,658.2 L522.5,659.3 L523.5,660.3 L524.5,661.4 L525.5,662.5 L526.5,663.5 L527.5,664.6 L528.5,665.6 L529.5,666.7 L530.5,667.7 L531.5,668.8 L532.5,669.8 L533.5,670.8 L534.5,671.9 L535.5,672.9 L536.5,673.9 L537.5,674.9 L538.5,675.9 L539.5,676.9 L540.5,677.9 L541.5,678.9 L542.5,679.8 L543.5,680.8 L544.5,681.8 L545.5,682.7 L546.5,683.7 L547.5,684.7 L548.5,685.6 L549.5,686.5 L550.5,687.5 L551.5,688.4 L552.5,689.3 L553.5,690.2 L554.5,691.1 L555.5,692.0 L556.5,692.9 L557.5,693.8 L558.5,694.7 L559.5,695.6 L560.5,696.5 L561.5,697.3 L562.5,698.2 L563.5,699.0 L564.5,699.9 L565.5,700.7 L566.5,701.6 L567.5,702.4 L568.5,703.2 L569.5,704.0 L570.5,704.8 L571.5,705.6 L572.5,706.4 L573.5,707.2 L574.5,708.0 L575.5,708.7 L576.5,709.5 L577.5,710.2 L578.5,711.0 L579.5,711.7 L580.5,712.5 L581.5,713.2 L582.5,713.9 L583.5,714.6 L584.5,715.4 L585.5,716.1 L586.5,716.8 L587.5,717.4 L588.5,718.1 L589.5,718.8 L590.5,719.5 L591.5,720.2 L592.5,720.8 L593.5,721.5 L594.5,722.1 L595.5,722.8 L596.5,723.4 L597.5,724.1 L598.5,724.7 L599.5,725.3 L600.5,725.9 L601.5,726.5 L602.5,727.1 L603.5,727.7 L604.5,728.3 L605.5,728.9 L606.5,729.5 L607.5,730.1 L608.5,730.7 L609.5,731.2 L610.5,731.8 L611.5,732.4 L612.5,732.9 L613.5,733.5 L614.5,734.0 L615.5,734.6 L616.5,735.1 L617.5,735.6 L618.5,736.2 L619.5,736.7 L620.5,737.2 L621.5,737.7 L622.5,738.2 L623.5,738.7 L624.5,739.2 L625.5,739.7 L626.5,740.2 L627.5,740.7 L628.5,741.2 L629.5,741.7 L630.5,742.1 L631.5,742.6 L632.5,743.1 L633.5,743.5 L634.5,744.0 L635.5,744.5 L636.5,744.9 L637.5,745.4 L638.5,745.8 L639.5,746.3 L640.5,746.7 L641.5,747.1 L642.5,747.6 L643.5,748.0 L644.5,748.4 L645.5,748.8 L646.5,749.2 L647.5,749.7 L648.5,750.1 L649.5,750.5 L650.5,750.9 L651.5,751.3 L652.5,751.7 L653.5,752.1 L654.5,752.5 L655.5,752.9 L656.5,753.2 L657.5,753.6 L658.5,754.0 L659.5,754.4 L660.5,754.8 L661.5,755.1 L662.5,755.5 L663.5,755.9 L664.5,756.2 L665.5,756.6 L666.5,757.0 L667.5,757.3 L668.5,757.7 L669.5,758.0 L670.5,758.4 L671.5,758.7 L672.5,759.1 L673.5,759.4 L674.5,759.8 L675.5,760.1 L676.5,760.5 L677.5,760.8 L678.5,761.1 L679.5,761.5 L680.5,761.8 L681.5,762.1 L682.5,762.5 L683.5,762.8 L684.5,763.1 L685.5,763.5 L686.5,763.8 L687.5,764.1 L688.5,764.4 L689.5,764.8 L690.5,765.1 L691.5,765.4 L692.5,765.7 L693.5,766.0 L694.5,766.3 L695.5,766.7 L696.5,767.0 L697.5,767.3 L698.5,767.6 L699.0,767.8" stroke="#ff0000" stroke-dasharray="2.0 3.15"/>
</g>
<path d="M480.5,791.2v-6.2M480.5,594.0v6.2M498.6,791.2v-3.1M498.6,594.0v3.1M516.7,791.2v-6.2M516.7,594.0v6.2M534.9,791.2v-3.1M534.9,594.0v3.1M553.0,791.2v-6.2M553.0,594.0v6.2M571.1,791.2v-3.1M571.1,594.0v3.1M589.2,791.2v-6.2M589.2,594.0v6.2M607.3,791.2v-3.1M607.3,594.0v3.1M625.5,791.2v-6.2M625.5,594.0v6.2M643.6,791.2v-3.1M643.6,594.0v3.1M661.7,791.2v-6.2M661.7,594.0v6.2M679.8,791.2v-3.1M679.8,594.0v3.1M698.0,791.2v-6.2M698.0,594.0v6.2M480.5,791.2h6.2M698.0,791.2h-6.2M480.5,769.3h3.1M698.0,769.3h-3.1M480.5,747.4h6.2M698.0,747.4h-6.2M480.5,725.5h3.1M698.0,725.5h-3.1M480.5,703.6h6.2M698.0,703.6h-6.2M480.5,681.6h3.1M698.0,681.6h-3.1M480.5,659.7h6.2M698.0,659.7h-6.2M480.5,637.8h3.1M698.0,637.8h-3.1M480.5,615.9h6.2M698.0,615.9h-6.2M480.5,594.0h3.1M698.0,594.0h-3.1" stroke="#000" stroke-width="1.8" fill="none"/>
<rect x="480.5" y="594.0" width="217.4" height="197.2" fill="none" stroke="#000" stroke-width="1.9"/>
<text x="470.3" y="796.4" font-size="17" text-anchor="end" textLength="34.4" lengthAdjust="spacingAndGlyphs">3000</text>
<text x="470.3" y="752.6" font-size="17" text-anchor="end" textLength="34.4" lengthAdjust="spacingAndGlyphs">3200</text>
<text x="470.3" y="708.8" font-size="17" text-anchor="end" textLength="34.4" lengthAdjust="spacingAndGlyphs">3400</text>
<text x="470.3" y="664.9" font-size="17" text-anchor="end" textLength="34.4" lengthAdjust="spacingAndGlyphs">3600</text>
<text x="470.3" y="621.1" font-size="17" text-anchor="end" textLength="34.4" lengthAdjust="spacingAndGlyphs">3800</text>
<text x="480.5" y="812.5" font-size="17" text-anchor="middle" textLength="9.3" lengthAdjust="spacingAndGlyphs">0</text>
<text x="516.7" y="812.5" font-size="17" text-anchor="middle" textLength="9.3" lengthAdjust="spacingAndGlyphs">1</text>
<text x="553.0" y="812.5" font-size="17" text-anchor="middle" textLength="9.3" lengthAdjust="spacingAndGlyphs">2</text>
<text x="589.2" y="812.5" font-size="17" text-anchor="middle" textLength="9.3" lengthAdjust="spacingAndGlyphs">3</text>
<text x="625.5" y="812.5" font-size="17" text-anchor="middle" textLength="9.3" lengthAdjust="spacingAndGlyphs">4</text>
<text x="661.7" y="812.5" font-size="17" text-anchor="middle" textLength="9.3" lengthAdjust="spacingAndGlyphs">5</text>
<text x="698.0" y="812.5" font-size="17" text-anchor="middle" textLength="9.3" lengthAdjust="spacingAndGlyphs">6</text>
<rect x="554.2" y="631.4" width="134.0" height="37.3" fill="#fff" stroke="#000" stroke-width="2.2"/>
<text x="566.6" y="656.8" font-size="20" textLength="107.6" lengthAdjust="spacingAndGlyphs" xml:space="preserve">T=150 MeV</text>
<text x="566.5" y="831.8" font-size="19" class="it" textLength="11.2" lengthAdjust="spacingAndGlyphs">ρ</text>
<text x="577.8" y="835.1" font-size="12" textLength="9.2" lengthAdjust="spacingAndGlyphs" stroke="#000" stroke-width="0.25">B</text>
<text x="587.1" y="831.9" font-size="19" textLength="6.6" lengthAdjust="spacingAndGlyphs" stroke="#000" stroke-width="0.5">/</text>
<text x="594.1" y="831.8" font-size="19" class="it" textLength="11.2" lengthAdjust="spacingAndGlyphs">ρ</text>
<text x="604.8" y="836.1" font-size="14.6" textLength="7.6" lengthAdjust="spacingAndGlyphs">0</text>
<text x="491.1" y="617.9" font-size="20" textLength="21.3" lengthAdjust="spacingAndGlyphs">(f)</text>
</g>
</g>
</svg>
</body></html>
